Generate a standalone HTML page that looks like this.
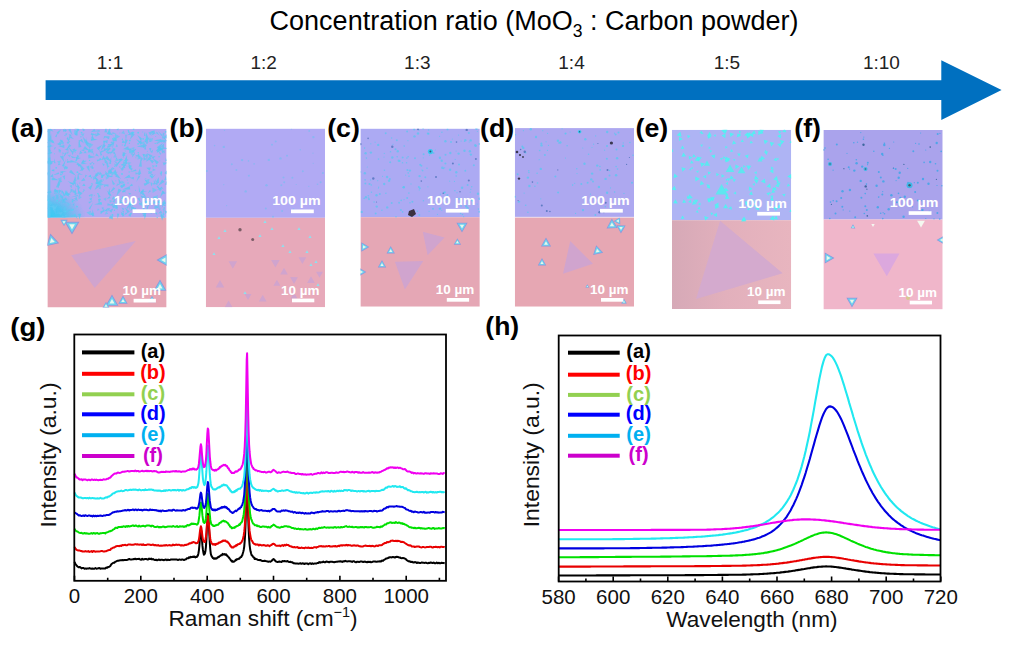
<!DOCTYPE html>
<html><head><meta charset="utf-8"><title>Figure</title>
<style>
html,body{margin:0;padding:0;background:#fff;}
body{width:1012px;height:647px;overflow:hidden;}
svg{display:block;font-family:'Liberation Sans', sans-serif;}
</style></head>
<body>
<svg width="1012" height="647" viewBox="0 0 1012 647">
<rect width="1012" height="647" fill="#fff"/>
<text x="269.6" y="30" font-size="27" fill="#000">Concentration ratio (MoO<tspan font-size="17.5" dy="7">3</tspan><tspan dy="-7"> : Carbon powder)</tspan></text>
<text x="96.8" y="68.5" font-size="19" fill="#222">1:1</text>
<text x="250.4" y="68.5" font-size="19" fill="#222">1:2</text>
<text x="404.1" y="68.5" font-size="19" fill="#222">1:3</text>
<text x="558.3" y="68.5" font-size="19" fill="#222">1:4</text>
<text x="713.7" y="68.5" font-size="19" fill="#222">1:5</text>
<text x="862.9" y="68.5" font-size="19" fill="#222">1:10</text>
<polygon points="45.6,80.2 941.3,80.2 941.3,60.2 1001.6,89.9 941.3,120.0 941.3,100.1 45.6,100.1" fill="#0070C0" />
<text x="0" y="137" font-size="25" font-weight="bold" fill="#000" transform="translate(10.8 0) scale(1.07 1)">(a)</text>
<text x="0" y="137" font-size="25" font-weight="bold" fill="#000" transform="translate(169.6 0) scale(1.07 1)">(b)</text>
<text x="0" y="137" font-size="25" font-weight="bold" fill="#000" transform="translate(327.2 0) scale(1.07 1)">(c)</text>
<text x="0" y="137" font-size="25" font-weight="bold" fill="#000" transform="translate(480.1 0) scale(1.07 1)">(d)</text>
<text x="0" y="137" font-size="25" font-weight="bold" fill="#000" transform="translate(635.6 0) scale(1.07 1)">(e)</text>
<text x="0" y="137" font-size="25" font-weight="bold" fill="#000" transform="translate(794.3 0) scale(1.07 1)">(f)</text>
<defs><filter id="bl" x="-5%" y="-5%" width="110%" height="110%"><feGaussianBlur stdDeviation="0.45"/></filter><filter id="bl2" x="-50%" y="-50%" width="200%" height="200%"><feGaussianBlur stdDeviation="2.5"/></filter><radialGradient id="ga" cx="0" cy="1" r="0.32"><stop offset="0" stop-color="#34CCF4"/><stop offset="0.45" stop-color="#40C8F2" stop-opacity="0.85"/><stop offset="1" stop-color="#48C4F0" stop-opacity="0"/></radialGradient></defs>
<svg x="47.4" y="128.8" width="119.2" height="178.7" viewBox="47.4 128.8 119.2 178.7" overflow="hidden">
<rect x="47.4" y="128.8" width="119.2" height="88.8" fill="#B2A9F2"/>
<rect x="47.4" y="217.6" width="119.2" height="89.9" fill="#E6A6B4"/>
<g filter="url(#bl)">
<rect x="47.4" y="128.8" width="119.2" height="88.8" fill="url(#ga)"/>
<rect x="47.4" y="128.8" width="3" height="88.8" fill="#5CC8F2" opacity="0.7"/>
<polygon points="91.5,144.9 85.4,143.4 86.6,141.0" fill="#5EC6F2" opacity="0.8"/>
<polygon points="96.1,135.2 90.7,135.1 91.3,132.8" fill="#5EC6F2" opacity="0.8"/>
<polygon points="58.0,132.6 56.5,137.2 55.0,136.5" fill="#5EC6F2" opacity="0.8"/>
<polygon points="67.2,180.9 74.5,183.5 73.5,185.5" fill="#5EC6F2" opacity="0.8"/>
<polygon points="162.0,139.9 162.9,132.7 164.6,133.1" fill="#5EC6F2" opacity="0.8"/>
<polygon points="64.4,162.5 60.2,156.8 62.7,155.6" fill="#5EC6F2" opacity="0.8"/>
<polygon points="128.6,164.0 123.3,162.6 123.9,161.2" fill="#5EC6F2" opacity="0.8"/>
<polygon points="70.1,193.7 70.7,188.7 73.2,189.7" fill="#5EC6F2" opacity="0.8"/>
<polygon points="99.2,148.9 102.3,155.1 100.5,155.7" fill="#5EC6F2" opacity="0.8"/>
<polygon points="114.9,168.2 116.9,175.3 114.9,175.6" fill="#5EC6F2" opacity="0.8"/>
<polygon points="164.4,134.5 165.1,139.3 163.4,139.2" fill="#5EC6F2" opacity="0.8"/>
<polygon points="106.2,126.1 107.0,132.4 104.4,132.2" fill="#5EC6F2" opacity="0.8"/>
<polygon points="146.5,153.1 152.5,155.5 151.0,157.8" fill="#5EC6F2" opacity="0.8"/>
<polygon points="94.2,204.6 101.5,202.0 102.0,204.8" fill="#5EC6F2" opacity="0.8"/>
<polygon points="60.7,190.8 54.7,192.7 54.6,189.5" fill="#5EC6F2" opacity="0.8"/>
<polygon points="87.4,163.9 81.2,164.3 81.5,161.9" fill="#5EC6F2" opacity="0.8"/>
<polygon points="67.7,136.4 68.3,139.3 66.6,139.1" fill="#5EC6F2" opacity="0.8"/>
<polygon points="83.3,167.1 76.3,164.6 77.5,162.5" fill="#5EC6F2" opacity="0.8"/>
<polygon points="117.5,201.9 113.7,207.9 112.1,206.6" fill="#5EC6F2" opacity="0.8"/>
<polygon points="104.0,158.7 97.1,161.5 96.7,159.8" fill="#5EC6F2" opacity="0.8"/>
<polygon points="64.6,149.8 68.3,148.1 68.5,150.7" fill="#5EC6F2" opacity="0.8"/>
<polygon points="75.5,132.7 77.7,128.3 79.7,130.1" fill="#5EC6F2" opacity="0.8"/>
<polygon points="157.1,186.5 162.0,189.0 160.0,191.2" fill="#5EC6F2" opacity="0.8"/>
<polygon points="58.6,203.8 55.0,209.8 52.7,207.6" fill="#5EC6F2" opacity="0.8"/>
<polygon points="92.1,161.9 94.7,163.7 93.6,164.7" fill="#5EC6F2" opacity="0.8"/>
<polygon points="53.6,150.2 54.8,146.9 56.1,147.7" fill="#5EC6F2" opacity="0.8"/>
<polygon points="45.4,144.5 46.9,141.8 48.0,142.7" fill="#5EC6F2" opacity="0.8"/>
<polygon points="151.6,186.6 150.5,183.3 152.7,183.3" fill="#5EC6F2" opacity="0.8"/>
<polygon points="98.0,139.4 90.9,140.9 90.8,138.5" fill="#5EC6F2" opacity="0.8"/>
<polygon points="103.4,139.0 104.2,135.9 105.9,137.0" fill="#5EC6F2" opacity="0.8"/>
<polygon points="148.7,142.3 146.6,144.4 145.8,141.9" fill="#5EC6F2" opacity="0.8"/>
<polygon points="62.3,176.6 65.2,175.3 64.6,178.8" fill="#5EC6F2" opacity="0.8"/>
<polygon points="147.7,193.5 149.7,190.0 151.0,191.2" fill="#5EC6F2" opacity="0.8"/>
<polygon points="136.2,182.1 138.6,175.6 140.2,176.5" fill="#5EC6F2" opacity="0.8"/>
<polygon points="146.6,209.5 145.6,216.8 142.6,215.7" fill="#5EC6F2" opacity="0.8"/>
<polygon points="132.3,153.2 135.0,148.5 136.2,149.4" fill="#5EC6F2" opacity="0.8"/>
<polygon points="49.3,149.9 52.4,153.0 49.1,154.2" fill="#5EC6F2" opacity="0.8"/>
<polygon points="108.3,209.8 101.0,213.1 100.4,211.0" fill="#5EC6F2" opacity="0.8"/>
<polygon points="74.7,152.4 72.3,149.3 75.0,148.5" fill="#5EC6F2" opacity="0.8"/>
<polygon points="151.8,199.2 156.0,202.5 153.4,204.3" fill="#5EC6F2" opacity="0.8"/>
<polygon points="59.0,180.1 59.0,187.8 56.0,187.2" fill="#5EC6F2" opacity="0.8"/>
<polygon points="101.0,150.6 103.0,143.9 105.8,145.4" fill="#5EC6F2" opacity="0.8"/>
<polygon points="167.7,162.4 163.7,165.4 162.7,162.5" fill="#5EC6F2" opacity="0.8"/>
<polygon points="70.4,138.2 68.6,141.4 66.8,138.8" fill="#5EC6F2" opacity="0.8"/>
<polygon points="60.5,195.6 65.7,201.6 63.9,202.8" fill="#5EC6F2" opacity="0.8"/>
<polygon points="115.3,140.0 113.1,141.8 112.5,139.0" fill="#5EC6F2" opacity="0.8"/>
<polygon points="113.5,208.2 111.3,212.8 109.0,210.6" fill="#5EC6F2" opacity="0.8"/>
<polygon points="72.8,155.3 71.2,151.2 73.9,151.1" fill="#5EC6F2" opacity="0.8"/>
<polygon points="81.0,164.3 78.9,166.9 77.7,165.1" fill="#5EC6F2" opacity="0.8"/>
<polygon points="95.5,184.2 101.2,179.1 102.8,182.1" fill="#5EC6F2" opacity="0.8"/>
<polygon points="112.5,176.7 107.1,177.2 107.3,174.8" fill="#5EC6F2" opacity="0.8"/>
<polygon points="72.5,135.2 68.1,129.7 70.3,128.6" fill="#5EC6F2" opacity="0.8"/>
<polygon points="129.6,177.7 134.0,176.9 133.7,179.5" fill="#5EC6F2" opacity="0.8"/>
<polygon points="140.9,143.8 139.9,138.2 141.9,138.2" fill="#5EC6F2" opacity="0.8"/>
<polygon points="139.8,168.3 141.2,174.0 137.8,173.8" fill="#5EC6F2" opacity="0.8"/>
<polygon points="95.0,182.8 100.3,181.7 100.1,184.7" fill="#5EC6F2" opacity="0.8"/>
<polygon points="106.1,174.3 101.9,177.5 100.8,174.8" fill="#5EC6F2" opacity="0.8"/>
<polygon points="148.2,211.0 152.5,210.8 151.3,214.1" fill="#5EC6F2" opacity="0.8"/>
<polygon points="144.6,142.1 147.2,140.2 147.8,141.7" fill="#5EC6F2" opacity="0.8"/>
<polygon points="77.4,129.2 77.7,135.6 74.4,134.9" fill="#5EC6F2" opacity="0.8"/>
<polygon points="69.6,197.2 64.5,193.4 67.1,191.3" fill="#5EC6F2" opacity="0.8"/>
<polygon points="156.5,152.9 162.0,147.3 163.5,149.3" fill="#5EC6F2" opacity="0.8"/>
<polygon points="162.3,204.1 164.9,201.6 165.9,203.9" fill="#5EC6F2" opacity="0.8"/>
<polygon points="87.1,142.0 88.5,146.1 87.1,146.3" fill="#5EC6F2" opacity="0.8"/>
<polygon points="112.2,170.2 112.2,167.2 114.7,168.6" fill="#5EC6F2" opacity="0.8"/>
<polygon points="110.3,126.8 110.2,134.9 106.7,134.1" fill="#5EC6F2" opacity="0.8"/>
<polygon points="60.4,149.7 60.9,152.6 58.9,152.2" fill="#5EC6F2" opacity="0.8"/>
<polygon points="66.0,159.5 63.7,166.7 61.9,165.9" fill="#5EC6F2" opacity="0.8"/>
<polygon points="63.5,205.1 66.0,210.2 64.4,210.7" fill="#5EC6F2" opacity="0.8"/>
<polygon points="58.6,192.0 53.5,191.5 55.0,188.4" fill="#5EC6F2" opacity="0.8"/>
<polygon points="124.9,197.7 123.6,200.5 122.4,199.5" fill="#5EC6F2" opacity="0.8"/>
<polygon points="146.1,167.7 150.8,167.5 149.7,170.7" fill="#5EC6F2" opacity="0.8"/>
<polygon points="79.7,145.7 78.5,140.3 80.1,140.2" fill="#5EC6F2" opacity="0.8"/>
<polygon points="65.3,136.6 65.7,132.9 67.6,133.7" fill="#5EC6F2" opacity="0.8"/>
<polygon points="140.2,159.3 137.0,155.0 138.9,154.1" fill="#5EC6F2" opacity="0.8"/>
<polygon points="49.3,148.5 50.9,150.9 48.3,151.2" fill="#5EC6F2" opacity="0.8"/>
<polygon points="76.0,175.7 69.0,172.2 71.0,169.7" fill="#5EC6F2" opacity="0.8"/>
<polygon points="93.4,177.2 98.1,171.8 99.7,173.7" fill="#5EC6F2" opacity="0.8"/>
<polygon points="131.5,212.2 130.7,216.8 128.1,215.3" fill="#5EC6F2" opacity="0.8"/>
<polygon points="127.4,166.2 122.9,165.5 123.5,163.9" fill="#5EC6F2" opacity="0.8"/>
<polygon points="57.9,197.9 55.2,195.0 56.5,194.2" fill="#5EC6F2" opacity="0.8"/>
<polygon points="146.5,212.2 146.7,205.9 148.6,206.3" fill="#5EC6F2" opacity="0.8"/>
<polygon points="79.2,170.7 82.0,168.7 82.7,170.5" fill="#5EC6F2" opacity="0.8"/>
<polygon points="162.2,220.7 160.3,215.2 163.8,215.1" fill="#5EC6F2" opacity="0.8"/>
<polygon points="82.5,162.2 83.5,159.6 85.1,161.4" fill="#5EC6F2" opacity="0.8"/>
<polygon points="112.6,146.8 107.3,147.6 107.4,145.7" fill="#5EC6F2" opacity="0.8"/>
<polygon points="60.8,164.7 58.0,165.3 58.2,163.3" fill="#5EC6F2" opacity="0.8"/>
<polygon points="75.2,175.4 76.6,180.8 73.7,180.8" fill="#5EC6F2" opacity="0.8"/>
<polygon points="130.6,211.0 131.2,206.0 134.3,207.7" fill="#5EC6F2" opacity="0.8"/>
<polygon points="71.0,194.7 64.8,194.7 65.7,191.5" fill="#5EC6F2" opacity="0.8"/>
<polygon points="156.2,178.5 154.5,184.8 152.9,184.2" fill="#5EC6F2" opacity="0.8"/>
<polygon points="112.2,166.9 111.3,174.1 108.3,173.1" fill="#5EC6F2" opacity="0.8"/>
<polygon points="114.8,202.2 117.9,207.7 116.1,208.4" fill="#5EC6F2" opacity="0.8"/>
<polygon points="54.7,143.4 50.1,141.9 52.1,139.3" fill="#5EC6F2" opacity="0.8"/>
<polygon points="111.5,179.2 115.1,184.0 112.9,185.1" fill="#5EC6F2" opacity="0.8"/>
<polygon points="41.2,199.5 47.8,198.3 47.8,200.9" fill="#5EC6F2" opacity="0.8"/>
<polygon points="125.9,141.2 125.2,134.7 126.8,134.7" fill="#5EC6F2" opacity="0.8"/>
<polygon points="78.8,189.9 80.8,193.4 77.3,193.7" fill="#5EC6F2" opacity="0.8"/>
<polygon points="104.2,158.1 107.7,162.1 104.9,163.4" fill="#5EC6F2" opacity="0.8"/>
<polygon points="122.7,188.2 120.2,186.5 121.7,185.3" fill="#5EC6F2" opacity="0.8"/>
<polygon points="141.6,156.3 135.9,156.6 136.1,155.1" fill="#5EC6F2" opacity="0.8"/>
<polygon points="76.6,182.8 80.3,188.0 78.5,188.9" fill="#5EC6F2" opacity="0.8"/>
<polygon points="112.7,173.5 107.8,171.3 110.1,168.8" fill="#5EC6F2" opacity="0.8"/>
<polygon points="78.8,216.5 71.0,216.9 71.3,214.5" fill="#5EC6F2" opacity="0.8"/>
<polygon points="144.6,219.7 144.2,214.7 146.1,214.9" fill="#5EC6F2" opacity="0.8"/>
<polygon points="163.7,151.9 159.1,148.3 161.1,146.7" fill="#5EC6F2" opacity="0.8"/>
<polygon points="154.0,140.2 161.1,138.9 160.9,142.2" fill="#5EC6F2" opacity="0.8"/>
<polygon points="123.8,150.0 131.2,148.6 131.3,150.1" fill="#5EC6F2" opacity="0.8"/>
<polygon points="46.2,177.2 47.0,172.2 48.6,172.7" fill="#5EC6F2" opacity="0.8"/>
<polygon points="95.5,156.9 88.4,158.4 88.4,155.3" fill="#5EC6F2" opacity="0.8"/>
<polygon points="145.7,132.1 149.1,139.1 145.8,139.9" fill="#5EC6F2" opacity="0.8"/>
<polygon points="86.6,161.8 82.0,163.2 81.9,160.5" fill="#5EC6F2" opacity="0.8"/>
<polygon points="94.2,168.0 90.2,167.6 90.6,166.0" fill="#5EC6F2" opacity="0.8"/>
<polygon points="146.9,161.8 145.9,154.2 147.9,154.2" fill="#5EC6F2" opacity="0.8"/>
<polygon points="112.7,144.4 108.8,147.3 107.8,144.1" fill="#5EC6F2" opacity="0.8"/>
<polygon points="151.2,182.1 144.7,186.0 143.7,183.6" fill="#5EC6F2" opacity="0.8"/>
<polygon points="127.0,135.2 132.7,131.7 133.6,134.6" fill="#5EC6F2" opacity="0.8"/>
<polygon points="126.7,153.0 124.6,155.0 123.8,153.5" fill="#5EC6F2" opacity="0.8"/>
<polygon points="103.4,155.2 105.5,159.2 101.9,159.4" fill="#5EC6F2" opacity="0.8"/>
<polygon points="74.5,185.6 78.8,186.0 78.0,188.1" fill="#5EC6F2" opacity="0.8"/>
<polygon points="70.4,141.1 68.0,144.2 66.6,142.1" fill="#5EC6F2" opacity="0.8"/>
<polygon points="66.0,211.8 73.4,208.5 73.9,210.1" fill="#5EC6F2" opacity="0.8"/>
<polygon points="74.0,139.2 69.8,137.7 70.9,136.0" fill="#5EC6F2" opacity="0.8"/>
<polygon points="78.2,172.0 79.4,179.4 77.0,179.4" fill="#5EC6F2" opacity="0.8"/>
<polygon points="94.3,179.2 96.1,174.9 97.4,175.7" fill="#5EC6F2" opacity="0.8"/>
<polygon points="77.3,214.7 80.5,213.3 80.5,216.1" fill="#5EC6F2" opacity="0.8"/>
<polygon points="150.3,152.0 149.1,148.0 151.4,148.0" fill="#5EC6F2" opacity="0.8"/>
<polygon points="105.5,208.4 101.1,214.0 100.0,213.0" fill="#5EC6F2" opacity="0.8"/>
<polygon points="43.9,193.1 51.0,190.5 51.5,193.1" fill="#5EC6F2" opacity="0.8"/>
<polygon points="50.9,156.8 48.9,164.3 46.0,162.8" fill="#5EC6F2" opacity="0.8"/>
<polygon points="165.0,153.4 162.2,151.6 164.3,150.1" fill="#5EC6F2" opacity="0.8"/>
<polygon points="124.8,207.2 129.9,211.5 127.5,213.3" fill="#5EC6F2" opacity="0.8"/>
<polygon points="102.5,175.1 102.8,178.0 101.0,177.6" fill="#5EC6F2" opacity="0.8"/>
<polygon points="159.9,189.1 156.4,186.8 157.8,185.4" fill="#5EC6F2" opacity="0.8"/>
<polygon points="126.1,192.2 122.7,192.0 123.8,189.7" fill="#5EC6F2" opacity="0.8"/>
<polygon points="113.9,161.1 117.3,162.7 116.5,163.8" fill="#5EC6F2" opacity="0.8"/>
<polygon points="78.5,163.6 84.7,168.7 82.0,170.7" fill="#5EC6F2" opacity="0.8"/>
<polygon points="107.8,148.7 104.4,151.1 103.7,148.2" fill="#5EC6F2" opacity="0.8"/>
<polygon points="81.6,126.1 85.1,130.2 83.0,131.3" fill="#5EC6F2" opacity="0.8"/>
<polygon points="79.2,195.6 77.3,188.2 78.8,188.0" fill="#5EC6F2" opacity="0.8"/>
<polygon points="89.7,172.1 86.2,166.7 89.2,165.6" fill="#5EC6F2" opacity="0.8"/>
<polygon points="139.1,172.9 135.7,174.7 135.3,172.6" fill="#5EC6F2" opacity="0.8"/>
<polygon points="145.4,145.6 146.2,149.4 144.1,149.2" fill="#5EC6F2" opacity="0.8"/>
<polygon points="161.5,176.3 159.7,173.0 162.0,172.6" fill="#5EC6F2" opacity="0.8"/>
<polygon points="124.1,215.1 126.1,212.3 127.3,213.8" fill="#5EC6F2" opacity="0.8"/>
<polygon points="166.1,142.4 163.1,142.5 163.9,140.3" fill="#5EC6F2" opacity="0.8"/>
<polygon points="161.0,207.1 154.5,209.0 154.4,205.5" fill="#5EC6F2" opacity="0.8"/>
<polygon points="86.5,137.6 87.4,145.3 85.9,145.3" fill="#5EC6F2" opacity="0.8"/>
<polygon points="124.4,166.4 125.8,162.0 127.4,162.9" fill="#5EC6F2" opacity="0.8"/>
<polygon points="52.0,152.4 48.0,154.4 47.5,152.8" fill="#5EC6F2" opacity="0.8"/>
<polygon points="164.3,143.2 163.8,147.9 160.9,146.5" fill="#5EC6F2" opacity="0.8"/>
<polygon points="95.4,136.8 97.7,132.0 100.2,134.4" fill="#5EC6F2" opacity="0.8"/>
<polygon points="77.7,162.6 70.2,162.3 70.6,160.0" fill="#5EC6F2" opacity="0.8"/>
<polygon points="146.8,197.5 144.0,197.6 144.3,196.1" fill="#5EC6F2" opacity="0.8"/>
<polygon points="162.4,147.7 157.7,152.5 156.4,150.8" fill="#5EC6F2" opacity="0.8"/>
<polygon points="79.4,219.7 78.4,213.7 81.3,214.0" fill="#5EC6F2" opacity="0.8"/>
<polygon points="85.2,150.8 86.8,153.3 83.4,153.2" fill="#5EC6F2" opacity="0.8"/>
<polygon points="123.2,215.2 121.8,212.7 124.2,212.4" fill="#5EC6F2" opacity="0.8"/>
<polygon points="161.4,218.1 160.3,213.5 162.6,213.5" fill="#5EC6F2" opacity="0.8"/>
<polygon points="107.4,207.9 107.7,211.7 104.8,210.7" fill="#5EC6F2" opacity="0.8"/>
<polygon points="142.7,202.6 144.5,196.9 146.4,197.9" fill="#5EC6F2" opacity="0.8"/>
<polygon points="91.5,201.0 89.1,198.8 92.0,197.8" fill="#5EC6F2" opacity="0.8"/>
<polygon points="74.3,133.7 77.2,133.5 76.5,135.6" fill="#5EC6F2" opacity="0.8"/>
<polygon points="163.5,215.2 163.5,207.2 165.0,207.3" fill="#5EC6F2" opacity="0.8"/>
<polygon points="52.8,175.2 58.6,172.2 59.2,174.0" fill="#5EC6F2" opacity="0.8"/>
<polygon points="97.0,177.7 98.7,183.9 95.5,183.9" fill="#5EC6F2" opacity="0.8"/>
<polygon points="124.7,146.4 125.3,139.2 127.9,139.9" fill="#5EC6F2" opacity="0.8"/>
<polygon points="91.9,197.9 90.9,194.4 92.8,194.3" fill="#5EC6F2" opacity="0.8"/>
<polygon points="63.1,212.4 64.7,206.8 66.7,207.8" fill="#5EC6F2" opacity="0.8"/>
<polygon points="167.0,170.3 167.0,174.4 164.4,173.3" fill="#5EC6F2" opacity="0.8"/>
<polygon points="167.7,133.2 167.0,138.6 164.0,137.2" fill="#5EC6F2" opacity="0.8"/>
<polygon points="159.4,135.2 155.8,133.1 157.0,131.7" fill="#5EC6F2" opacity="0.8"/>
<polygon points="158.1,186.1 162.2,179.4 164.6,181.7" fill="#5EC6F2" opacity="0.8"/>
<polygon points="107.3,149.6 101.2,152.7 100.7,151.1" fill="#5EC6F2" opacity="0.8"/>
<polygon points="116.0,186.6 117.8,183.3 119.1,184.4" fill="#5EC6F2" opacity="0.8"/>
<polygon points="68.3,146.7 72.5,150.9 71.0,152.0" fill="#5EC6F2" opacity="0.8"/>
<polygon points="51.2,163.6 47.8,158.3 49.7,157.4" fill="#5EC6F2" opacity="0.8"/>
<polygon points="76.7,201.6 71.3,200.2 72.0,198.7" fill="#5EC6F2" opacity="0.8"/>
<polygon points="99.6,180.9 94.0,178.4 95.0,176.9" fill="#5EC6F2" opacity="0.8"/>
<polygon points="128.9,169.0 128.7,164.6 131.9,165.8" fill="#5EC6F2" opacity="0.8"/>
<polygon points="80.8,181.3 83.8,177.7 85.5,180.5" fill="#5EC6F2" opacity="0.8"/>
<polygon points="165.7,157.6 167.1,161.0 165.3,161.2" fill="#5EC6F2" opacity="0.8"/>
<polygon points="50.2,204.5 49.1,209.4 47.1,208.4" fill="#5EC6F2" opacity="0.8"/>
<polygon points="156.0,170.0 152.5,171.0 152.8,168.4" fill="#5EC6F2" opacity="0.8"/>
<polygon points="121.6,207.5 124.5,208.8 123.0,210.4" fill="#5EC6F2" opacity="0.8"/>
<polygon points="103.5,141.2 107.8,140.1 107.3,143.5" fill="#5EC6F2" opacity="0.8"/>
<polygon points="67.1,170.9 60.6,173.3 60.2,171.5" fill="#5EC6F2" opacity="0.8"/>
<polygon points="54.7,213.4 62.4,211.8 62.6,213.3" fill="#5EC6F2" opacity="0.8"/>
<polygon points="152.4,158.1 158.9,162.1 156.7,164.4" fill="#5EC6F2" opacity="0.8"/>
<polygon points="63.4,200.7 65.6,197.2 67.4,199.9" fill="#5EC6F2" opacity="0.8"/>
<polygon points="143.3,147.2 145.5,144.0 147.0,146.1" fill="#5EC6F2" opacity="0.8"/>
<polygon points="92.5,135.9 94.8,139.5 91.5,140.0" fill="#5EC6F2" opacity="0.8"/>
<polygon points="58.8,180.3 51.9,180.3 52.7,177.2" fill="#5EC6F2" opacity="0.8"/>
<polygon points="57.6,178.1 62.2,181.3 60.7,182.8" fill="#5EC6F2" opacity="0.8"/>
<polygon points="94.8,176.5 98.5,179.9 96.5,181.2" fill="#5EC6F2" opacity="0.8"/>
<polygon points="93.8,131.3 99.6,129.9 99.7,131.8" fill="#5EC6F2" opacity="0.8"/>
<polygon points="140.6,202.6 137.3,198.6 139.5,197.5" fill="#5EC6F2" opacity="0.8"/>
<polygon points="64.2,142.9 59.5,141.2 60.8,139.2" fill="#5EC6F2" opacity="0.8"/>
<polygon points="113.4,135.4 107.5,133.7 109.0,131.1" fill="#5EC6F2" opacity="0.8"/>
<polygon points="137.3,174.2 140.1,173.1 140.1,175.3" fill="#5EC6F2" opacity="0.8"/>
<polygon points="168.0,140.7 160.8,142.4 160.7,139.4" fill="#5EC6F2" opacity="0.8"/>
<polygon points="136.7,146.4 144.5,144.3 144.6,147.8" fill="#5EC6F2" opacity="0.8"/>
<polygon points="162.8,140.6 156.9,144.2 156.3,142.8" fill="#5EC6F2" opacity="0.8"/>
<polygon points="91.9,193.9 89.8,196.7 88.6,195.2" fill="#5EC6F2" opacity="0.8"/>
<polygon points="149.2,139.0 145.1,142.4 144.2,140.7" fill="#5EC6F2" opacity="0.8"/>
<polygon points="82.9,174.7 78.5,174.6 78.9,172.9" fill="#5EC6F2" opacity="0.8"/>
<polygon points="71.5,208.1 67.2,212.7 66.1,211.3" fill="#5EC6F2" opacity="0.8"/>
<polygon points="137.4,134.9 141.8,138.3 140.1,139.7" fill="#5EC6F2" opacity="0.8"/>
<polygon points="155.7,174.3 152.0,178.7 150.9,177.5" fill="#5EC6F2" opacity="0.8"/>
<polygon points="167.1,180.3 166.7,185.0 164.8,184.4" fill="#5EC6F2" opacity="0.8"/>
<polygon points="165.9,175.6 166.6,180.2 164.3,180.0" fill="#5EC6F2" opacity="0.8"/>
<polygon points="69.6,192.3 69.4,195.2 67.6,194.4" fill="#5EC6F2" opacity="0.8"/>
<polygon points="120.6,211.3 124.5,215.6 122.7,216.7" fill="#5EC6F2" opacity="0.8"/>
<polygon points="45.1,129.6 48.4,130.9 46.8,132.7" fill="#5EC6F2" opacity="0.8"/>
<polygon points="109.0,211.5 107.1,208.5 109.9,208.1" fill="#5EC6F2" opacity="0.8"/>
<polygon points="53.6,131.8 49.4,129.9 50.7,128.2" fill="#5EC6F2" opacity="0.8"/>
<polygon points="75.8,186.1 72.8,181.0 75.5,180.2" fill="#5EC6F2" opacity="0.8"/>
<polygon points="104.3,148.4 103.1,140.8 104.9,140.7" fill="#5EC6F2" opacity="0.8"/>
<polygon points="60.3,178.3 59.9,185.7 57.7,185.2" fill="#5EC6F2" opacity="0.8"/>
<polygon points="73.3,127.5 79.3,128.8 78.5,130.8" fill="#5EC6F2" opacity="0.8"/>
<polygon points="123.5,160.6 125.3,168.1 123.4,168.3" fill="#5EC6F2" opacity="0.8"/>
<polygon points="150.6,135.7 154.6,131.9 155.6,133.5" fill="#5EC6F2" opacity="0.8"/>
<polygon points="51.9,197.2 54.9,196.3 53.8,199.6" fill="#5EC6F2" opacity="0.8"/>
<polygon points="58.5,146.3 64.4,145.1 64.3,147.9" fill="#5EC6F2" opacity="0.8"/>
<polygon points="143.1,148.3 143.6,144.1 145.1,144.5" fill="#5EC6F2" opacity="0.8"/>
<polygon points="159.8,198.6 153.3,200.0 153.5,196.7" fill="#5EC6F2" opacity="0.8"/>
<polygon points="129.9,172.1 135.9,169.2 136.5,171.0" fill="#5EC6F2" opacity="0.8"/>
<polygon points="58.6,151.8 58.6,148.7 61.3,150.2" fill="#5EC6F2" opacity="0.8"/>
<polygon points="129.6,210.2 129.0,203.7 131.6,204.0" fill="#5EC6F2" opacity="0.8"/>
<polygon points="98.9,204.2 98.0,198.7 100.8,198.9" fill="#5EC6F2" opacity="0.8"/>
<polygon points="169.8,148.8 162.4,149.1 162.5,147.1" fill="#5EC6F2" opacity="0.8"/>
<polygon points="75.3,187.2 76.6,194.8 74.5,194.9" fill="#5EC6F2" opacity="0.8"/>
<polygon points="155.5,155.9 153.1,159.1 151.5,156.8" fill="#5EC6F2" opacity="0.8"/>
<polygon points="122.2,189.4 129.7,186.3 130.3,189.5" fill="#5EC6F2" opacity="0.8"/>
<polygon points="129.8,200.1 131.9,204.7 129.2,205.2" fill="#5EC6F2" opacity="0.8"/>
<polygon points="89.3,150.4 83.3,149.1 84.9,146.1" fill="#5EC6F2" opacity="0.8"/>
<polygon points="67.4,129.8 65.1,132.2 64.2,130.2" fill="#5EC6F2" opacity="0.8"/>
<polygon points="63.3,128.8 65.6,130.9 63.0,131.8" fill="#5EC6F2" opacity="0.8"/>
<polygon points="128.1,192.7 131.1,193.3 129.9,195.2" fill="#5EC6F2" opacity="0.8"/>
<polygon points="151.6,204.6 144.2,203.1 145.5,200.1" fill="#5EC6F2" opacity="0.8"/>
<polygon points="157.2,215.6 155.6,212.9 157.2,212.4" fill="#5EC6F2" opacity="0.8"/>
<polygon points="46.9,198.9 52.7,203.0 50.3,205.2" fill="#5EC6F2" opacity="0.8"/>
<polygon points="125.2,156.1 121.8,155.6 123.6,153.1" fill="#5EC6F2" opacity="0.8"/>
<polygon points="76.6,157.8 71.7,158.1 72.0,156.2" fill="#5EC6F2" opacity="0.8"/>
<polygon points="79.1,196.4 79.5,191.6 82.7,193.1" fill="#5EC6F2" opacity="0.8"/>
<polygon points="113.2,205.5 107.2,205.5 107.7,203.3" fill="#5EC6F2" opacity="0.8"/>
<polygon points="98.2,193.2 100.7,197.1 98.2,197.8" fill="#5EC6F2" opacity="0.8"/>
<polygon points="74.5,202.6 74.0,205.7 72.4,205.0" fill="#5EC6F2" opacity="0.8"/>
<polygon points="54.2,145.8 47.7,147.4 47.5,146.0" fill="#5EC6F2" opacity="0.8"/>
<polygon points="108.7,178.8 104.8,172.9 107.0,171.9" fill="#5EC6F2" opacity="0.8"/>
<polygon points="92.5,201.3 89.1,203.6 88.4,201.7" fill="#5EC6F2" opacity="0.8"/>
<polygon points="77.0,194.3 72.1,192.0 73.9,189.8" fill="#5EC6F2" opacity="0.8"/>
<polygon points="58.5,192.6 58.4,199.1 55.7,198.5" fill="#5EC6F2" opacity="0.8"/>
<polygon points="93.4,161.5 90.3,165.0 89.3,163.8" fill="#5EC6F2" opacity="0.8"/>
<polygon points="153.0,134.7 151.6,130.9 155.0,131.2" fill="#5EC6F2" opacity="0.8"/>
<polygon points="107.9,169.8 105.9,162.6 108.3,162.4" fill="#5EC6F2" opacity="0.8"/>
<polygon points="106.7,190.5 111.6,195.1 109.9,196.5" fill="#5EC6F2" opacity="0.8"/>
<polygon points="82.6,136.5 87.6,141.8 85.0,143.4" fill="#5EC6F2" opacity="0.8"/>
<polygon points="61.7,164.6 68.0,167.0 67.2,168.5" fill="#5EC6F2" opacity="0.8"/>
<polygon points="103.8,211.0 101.5,207.8 103.4,207.0" fill="#5EC6F2" opacity="0.8"/>
<polygon points="133.1,206.5 130.4,204.3 132.0,203.2" fill="#5EC6F2" opacity="0.8"/>
<polygon points="84.7,178.2 85.5,174.7 87.1,175.6" fill="#5EC6F2" opacity="0.8"/>
<polygon points="166.6,192.8 163.8,194.3 163.4,192.7" fill="#5EC6F2" opacity="0.8"/>
<polygon points="92.5,209.3 94.4,216.0 92.0,216.3" fill="#5EC6F2" opacity="0.8"/>
<polygon points="71.6,188.4 69.7,185.8 71.9,185.1" fill="#5EC6F2" opacity="0.8"/>
<polygon points="49.0,157.8 52.6,163.8 50.3,164.7" fill="#5EC6F2" opacity="0.8"/>
<polygon points="120.2,168.0 123.5,169.0 122.1,170.9" fill="#5EC6F2" opacity="0.8"/>
<polygon points="131.4,207.3 136.4,208.1 135.0,210.8" fill="#5EC6F2" opacity="0.8"/>
<polygon points="102.3,144.7 98.7,150.2 96.5,148.0" fill="#5EC6F2" opacity="0.8"/>
<polygon points="126.9,199.7 131.8,203.7 129.9,205.3" fill="#5EC6F2" opacity="0.8"/>
<polygon points="82.1,186.1 84.0,183.2 85.5,186.0" fill="#5EC6F2" opacity="0.8"/>
<polygon points="129.0,186.5 131.9,183.6 133.0,185.8" fill="#5EC6F2" opacity="0.8"/>
<polygon points="127.1,162.5 121.9,166.0 121.1,164.3" fill="#5EC6F2" opacity="0.8"/>
<polygon points="120.8,198.2 125.3,196.1 125.5,199.7" fill="#5EC6F2" opacity="0.8"/>
<polygon points="52.6,173.7 53.6,177.4 50.2,176.7" fill="#5EC6F2" opacity="0.8"/>
<polygon points="103.8,136.3 109.7,136.3 108.9,139.2" fill="#5EC6F2" opacity="0.8"/>
<polygon points="101.5,184.6 108.6,184.4 108.3,186.7" fill="#5EC6F2" opacity="0.8"/>
<polygon points="155.5,151.4 159.4,146.3 161.4,148.7" fill="#5EC6F2" opacity="0.8"/>
<polygon points="66.2,217.8 61.6,217.2 62.3,215.3" fill="#5EC6F2" opacity="0.8"/>
<polygon points="90.8,132.3 94.3,128.7 95.7,131.3" fill="#5EC6F2" opacity="0.8"/>
<polygon points="89.2,148.6 91.1,152.2 87.6,152.4" fill="#5EC6F2" opacity="0.8"/>
<polygon points="104.9,152.6 109.6,147.5 110.8,149.0" fill="#5EC6F2" opacity="0.8"/>
<polygon points="58.2,192.6 63.7,197.0 61.9,198.6" fill="#5EC6F2" opacity="0.8"/>
<polygon points="109.7,155.1 113.3,148.0 115.5,149.7" fill="#5EC6F2" opacity="0.8"/>
<polygon points="143.6,206.2 143.7,200.9 146.2,201.6" fill="#5EC6F2" opacity="0.8"/>
<polygon points="64.9,199.2 63.1,203.4 61.5,202.3" fill="#5EC6F2" opacity="0.8"/>
<polygon points="94.1,155.8 91.6,151.6 92.9,151.0" fill="#5EC6F2" opacity="0.8"/>
<polygon points="132.2,157.4 132.3,153.4 134.6,154.2" fill="#5EC6F2" opacity="0.8"/>
<polygon points="94.5,190.1 97.2,184.3 99.8,186.5" fill="#5EC6F2" opacity="0.8"/>
<polygon points="155.1,129.9 150.1,135.2 148.4,132.6" fill="#5EC6F2" opacity="0.8"/>
<polygon points="70.1,203.2 64.1,203.3 64.2,201.9" fill="#5EC6F2" opacity="0.8"/>
<polygon points="164.0,189.4 160.3,187.7 161.4,186.4" fill="#5EC6F2" opacity="0.8"/>
<polygon points="77.8,201.3 73.9,198.7 76.6,196.8" fill="#5EC6F2" opacity="0.8"/>
<polygon points="136.0,139.1 142.7,142.5 140.8,144.9" fill="#5EC6F2" opacity="0.8"/>
<polygon points="130.7,202.4 127.9,208.7 126.3,207.7" fill="#5EC6F2" opacity="0.8"/>
<polygon points="123.9,178.4 129.3,174.4 130.6,177.5" fill="#5EC6F2" opacity="0.8"/>
<polygon points="116.0,155.2 112.6,153.1 114.5,151.5" fill="#5EC6F2" opacity="0.8"/>
<polygon points="51.1,170.5 54.3,169.0 54.4,171.5" fill="#5EC6F2" opacity="0.8"/>
<polygon points="113.1,203.3 112.7,206.1 110.7,204.8" fill="#5EC6F2" opacity="0.8"/>
<polygon points="109.4,192.9 113.6,187.1 115.3,188.7" fill="#5EC6F2" opacity="0.8"/>
<polygon points="158.0,131.0 162.5,135.0 161.4,136.0" fill="#5EC6F2" opacity="0.8"/>
<polygon points="116.4,196.1 118.5,188.6 121.6,190.3" fill="#5EC6F2" opacity="0.8"/>
<polygon points="115.5,173.4 108.0,173.3 108.6,170.4" fill="#5EC6F2" opacity="0.8"/>
<polygon points="117.1,164.3 121.0,158.1 122.8,159.7" fill="#5EC6F2" opacity="0.8"/>
<polygon points="106.7,198.7 109.6,196.2 110.5,198.3" fill="#5EC6F2" opacity="0.8"/>
<polygon points="115.4,198.6 114.5,202.7 112.4,201.7" fill="#5EC6F2" opacity="0.8"/>
<polygon points="112.7,152.1 107.7,154.3 107.2,151.5" fill="#5EC6F2" opacity="0.8"/>
<polygon points="140.5,162.2 140.5,157.8 143.1,158.6" fill="#5EC6F2" opacity="0.8"/>
<polygon points="122.6,195.8 124.7,198.1 121.4,198.7" fill="#5EC6F2" opacity="0.8"/>
<polygon points="116.6,133.4 112.4,134.1 112.4,132.3" fill="#5EC6F2" opacity="0.8"/>
<polygon points="158.7,176.9 158.9,183.3 155.6,182.4" fill="#5EC6F2" opacity="0.8"/>
<polygon points="118.3,178.0 121.6,183.1 119.0,184.0" fill="#5EC6F2" opacity="0.8"/>
<polygon points="122.6,149.3 128.2,146.2 129.0,149.2" fill="#5EC6F2" opacity="0.8"/>
<polygon points="59.9,142.2 61.2,145.2 57.8,144.6" fill="#5EC6F2" opacity="0.8"/>
<polygon points="127.1,154.7 126.8,161.9 124.3,161.3" fill="#5EC6F2" opacity="0.8"/>
<polygon points="76.1,160.0 77.1,155.1 79.2,156.1" fill="#5EC6F2" opacity="0.8"/>
<polygon points="121.3,210.6 124.2,211.0 123.6,212.4" fill="#5EC6F2" opacity="0.8"/>
<polygon points="66.5,198.0 62.2,201.8 61.0,199.7" fill="#5EC6F2" opacity="0.8"/>
<polygon points="54.4,161.0 49.8,164.8 48.4,161.5" fill="#5EC6F2" opacity="0.8"/>
<polygon points="102.2,163.0 104.8,164.8 103.3,166.0" fill="#5EC6F2" opacity="0.8"/>
<polygon points="64.5,127.9 66.3,129.8 64.7,130.5" fill="#5EC6F2" opacity="0.8"/>
<polygon points="167.6,141.9 162.1,137.1 163.1,136.1" fill="#5EC6F2" opacity="0.8"/>
<polygon points="135.7,156.3 132.4,150.6 133.8,150.0" fill="#5EC6F2" opacity="0.8"/>
<polygon points="138.7,185.0 140.4,192.1 138.9,192.3" fill="#5EC6F2" opacity="0.8"/>
<polygon points="126.9,189.7 122.7,192.7 121.9,190.9" fill="#5EC6F2" opacity="0.8"/>
<polygon points="164.9,192.7 162.2,193.9 162.5,191.1" fill="#5EC6F2" opacity="0.8"/>
<polygon points="144.3,131.7 145.7,135.8 144.0,136.0" fill="#5EC6F2" opacity="0.8"/>
<polygon points="148.1,174.1 149.0,171.1 151.0,172.9" fill="#5EC6F2" opacity="0.8"/>
<polygon points="100.7,185.8 100.7,189.2 98.6,188.6" fill="#5EC6F2" opacity="0.8"/>
<polygon points="120.7,187.9 123.2,183.5 125.3,185.9" fill="#5EC6F2" opacity="0.8"/>
<polygon points="158.6,203.9 159.3,198.3 160.8,198.7" fill="#5EC6F2" opacity="0.8"/>
<polygon points="160.0,197.4 162.3,190.6 164.7,191.9" fill="#5EC6F2" opacity="0.8"/>
<polygon points="161.8,208.0 162.8,202.2 165.0,203.0" fill="#5EC6F2" opacity="0.8"/>
<polygon points="148.2,158.5 154.3,160.9 152.3,163.6" fill="#5EC6F2" opacity="0.8"/>
<polygon points="143.4,156.5 142.5,153.9 144.8,154.1" fill="#5EC6F2" opacity="0.8"/>
<polygon points="124.4,203.2 116.9,202.8 117.8,199.7" fill="#5EC6F2" opacity="0.8"/>
<polygon points="143.3,211.4 142.5,205.6 145.8,206.0" fill="#5EC6F2" opacity="0.8"/>
<polygon points="139.3,195.8 142.9,189.1 144.3,190.0" fill="#5EC6F2" opacity="0.8"/>
<polygon points="113.4,196.0 115.1,199.6 111.7,199.6" fill="#5EC6F2" opacity="0.8"/>
<polygon points="69.2,184.0 75.1,181.8 75.5,183.6" fill="#5EC6F2" opacity="0.8"/>
<polygon points="71.1,197.2 77.6,194.7 78.0,196.3" fill="#5EC6F2" opacity="0.8"/>
<polygon points="140.2,195.6 144.3,195.9 142.7,198.9" fill="#5EC6F2" opacity="0.8"/>
<polygon points="148.6,172.4 153.4,174.4 152.4,175.9" fill="#5EC6F2" opacity="0.8"/>
<polygon points="66.2,149.7 69.3,144.0 71.3,145.7" fill="#5EC6F2" opacity="0.8"/>
<polygon points="98.6,175.6 94.9,176.5 95.9,173.0" fill="#5EC6F2" opacity="0.8"/>
<polygon points="93.4,132.4 92.8,138.4 91.1,138.0" fill="#5EC6F2" opacity="0.8"/>
<polygon points="123.9,160.1 118.5,160.2 118.7,158.7" fill="#5EC6F2" opacity="0.8"/>
<polygon points="160.7,203.6 165.9,204.8 165.1,206.6" fill="#5EC6F2" opacity="0.8"/>
<polygon points="141.1,159.0 141.9,166.8 138.7,166.5" fill="#5EC6F2" opacity="0.8"/>
<polygon points="163.1,153.9 161.4,151.6 163.1,151.1" fill="#5EC6F2" opacity="0.8"/>
<polygon points="61.2,129.3 58.2,134.2 56.5,132.5" fill="#5EC6F2" opacity="0.8"/>
<polygon points="158.0,208.0 161.0,208.7 159.7,210.5" fill="#5EC6F2" opacity="0.8"/>
<polygon points="58.1,212.4 62.2,212.7 61.1,215.3" fill="#5EC6F2" opacity="0.8"/>
<polygon points="157.0,189.8 161.1,187.4 161.7,189.1" fill="#5EC6F2" opacity="0.8"/>
<polygon points="166.1,217.8 162.3,217.8 162.8,215.9" fill="#5EC6F2" opacity="0.8"/>
<polygon points="93.2,202.6 90.0,209.4 88.7,208.6" fill="#5EC6F2" opacity="0.8"/>
<polygon points="147.2,191.2 141.2,192.6 141.1,191.1" fill="#5EC6F2" opacity="0.8"/>
<polygon points="61.2,189.0 65.6,195.4 63.7,196.3" fill="#5EC6F2" opacity="0.8"/>
<polygon points="116.5,198.9 117.0,195.7 118.8,196.5" fill="#5EC6F2" opacity="0.8"/>
<polygon points="62.4,175.0 61.3,171.6 63.1,171.5" fill="#5EC6F2" opacity="0.8"/>
<polygon points="130.4,136.0 127.5,130.2 128.9,129.7" fill="#5EC6F2" opacity="0.8"/>
<polygon points="163.1,142.7 159.2,149.5 156.7,147.3" fill="#5EC6F2" opacity="0.8"/>
<polygon points="66.8,167.2 64.8,170.0 63.4,167.1" fill="#5EC6F2" opacity="0.8"/>
<polygon points="124.2,165.0 123.4,169.5 121.2,168.4" fill="#5EC6F2" opacity="0.8"/>
<polygon points="125.8,142.8 121.8,142.9 122.8,140.1" fill="#5EC6F2" opacity="0.8"/>
<polygon points="112.6,148.9 112.2,141.5 114.5,141.8" fill="#5EC6F2" opacity="0.8"/>
<polygon points="62.4,159.0 65.2,152.4 66.7,153.3" fill="#5EC6F2" opacity="0.8"/>
<polygon points="111.6,162.0 104.8,158.4 107.1,155.7" fill="#5EC6F2" opacity="0.8"/>
<polygon points="55.7,214.3 53.0,208.6 55.4,208.0" fill="#5EC6F2" opacity="0.8"/>
<polygon points="79.1,154.4 80.2,150.5 82.9,152.9" fill="#5EC6F2" opacity="0.8"/>
<polygon points="165.6,213.9 164.7,210.5 168.0,211.4" fill="#5EC6F2" opacity="0.8"/>
<polygon points="58.3,192.7 54.4,194.0 54.2,192.6" fill="#5EC6F2" opacity="0.8"/>
<polygon points="146.9,159.1 143.6,160.7 143.6,157.5" fill="#5EC6F2" opacity="0.8"/>
<polygon points="114.3,142.7 110.7,146.1 109.7,144.5" fill="#5EC6F2" opacity="0.8"/>
<polygon points="115.9,137.6 117.0,141.2 114.0,140.9" fill="#5EC6F2" opacity="0.8"/>
<polygon points="68.5,134.0 71.6,134.9 70.1,136.8" fill="#5EC6F2" opacity="0.8"/>
<polygon points="78.5,141.4 81.6,146.7 78.5,147.5" fill="#5EC6F2" opacity="0.8"/>
<polygon points="116.6,143.9 118.0,146.6 115.7,146.9" fill="#5EC6F2" opacity="0.8"/>
<polygon points="129.9,139.7 132.0,132.9 134.8,134.5" fill="#5EC6F2" opacity="0.8"/>
<polygon points="152.6,171.2 151.1,173.6 149.8,171.5" fill="#5EC6F2" opacity="0.8"/>
<polygon points="153.1,149.4 152.3,153.0 150.4,151.9" fill="#5EC6F2" opacity="0.8"/>
<polygon points="72.7,161.9 66.9,163.0 66.9,160.5" fill="#5EC6F2" opacity="0.8"/>
<polygon points="99.8,171.5 102.1,174.2 99.0,174.9" fill="#5EC6F2" opacity="0.8"/>
<polygon points="145.9,161.7 149.5,156.2 151.6,158.4" fill="#5EC6F2" opacity="0.8"/>
<polygon points="47.0,206.6 54.7,205.0 54.7,207.6" fill="#5EC6F2" opacity="0.8"/>
<polygon points="113.2,176.0 110.8,177.4 110.4,175.6" fill="#5EC6F2" opacity="0.8"/>
<polygon points="70.7,134.4 69.8,138.2 68.5,137.6" fill="#5EC6F2" opacity="0.8"/>
<polygon points="62.5,191.3 58.7,192.2 59.0,189.5" fill="#5EC6F2" opacity="0.8"/>
<polygon points="121.2,179.1 115.1,176.6 117.1,173.9" fill="#5EC6F2" opacity="0.8"/>
<polygon points="129.7,132.9 132.8,131.6 132.9,134.1" fill="#5EC6F2" opacity="0.8"/>
<polygon points="83.8,143.2 79.7,140.5 81.8,138.8" fill="#5EC6F2" opacity="0.8"/>
<polygon points="149.9,136.2 150.9,141.9 149.2,141.9" fill="#5EC6F2" opacity="0.8"/>
<polygon points="141.8,214.3 145.1,210.6 146.6,213.5" fill="#5EC6F2" opacity="0.8"/>
<polygon points="111.3,156.4 111.1,164.1 109.0,163.8" fill="#5EC6F2" opacity="0.8"/>
<polygon points="80.9,158.0 76.2,160.1 75.9,157.0" fill="#5EC6F2" opacity="0.8"/>
<polygon points="163.0,203.5 155.8,202.4 156.6,200.0" fill="#5EC6F2" opacity="0.8"/>
<polygon points="158.2,213.6 160.9,210.5 162.2,213.0" fill="#5EC6F2" opacity="0.8"/>
<polygon points="88.2,177.1 90.3,174.8 91.4,177.1" fill="#5EC6F2" opacity="0.8"/>
<polygon points="51.2,133.5 51.6,141.5 48.2,140.9" fill="#5EC6F2" opacity="0.8"/>
<polygon points="128.4,195.8 123.4,201.2 122.4,200.1" fill="#5EC6F2" opacity="0.8"/>
<polygon points="123.0,158.6 122.6,152.2 125.2,152.6" fill="#5EC6F2" opacity="0.8"/>
<polygon points="153.7,183.5 157.7,182.8 157.4,185.1" fill="#5EC6F2" opacity="0.8"/>
<polygon points="158.2,151.0 161.4,153.8 160.1,154.8" fill="#5EC6F2" opacity="0.8"/>
<polygon points="117.6,219.0 117.0,213.6 119.4,213.8" fill="#5EC6F2" opacity="0.8"/>
<polygon points="113.2,144.3 110.3,142.7 111.8,141.3" fill="#5EC6F2" opacity="0.8"/>
<polygon points="99.1,156.4 95.2,155.5 96.5,153.3" fill="#5EC6F2" opacity="0.8"/>
<polygon points="144.2,178.4 148.2,182.4 146.8,183.5" fill="#5EC6F2" opacity="0.8"/>
<polygon points="127.9,166.1 132.9,168.8 131.3,170.7" fill="#5EC6F2" opacity="0.8"/>
<polygon points="80.7,150.0 84.5,149.2 84.3,151.4" fill="#5EC6F2" opacity="0.8"/>
<polygon points="120.1,126.5 117.9,130.5 116.5,129.2" fill="#5EC6F2" opacity="0.8"/>
<polygon points="117.8,172.1 113.8,173.5 113.7,171.4" fill="#5EC6F2" opacity="0.8"/>
<polygon points="141.4,140.8 140.3,143.7 138.6,142.1" fill="#5EC6F2" opacity="0.8"/>
<polygon points="54.3,158.3 55.6,163.2 54.0,163.3" fill="#5EC6F2" opacity="0.8"/>
<polygon points="77.9,219.4 73.4,214.6 75.1,213.4" fill="#5EC6F2" opacity="0.8"/>
<polygon points="92.9,184.0 90.7,189.7 88.1,187.8" fill="#5EC6F2" opacity="0.8"/>
<polygon points="109.5,187.8 110.3,194.5 107.9,194.3" fill="#5EC6F2" opacity="0.8"/>
<polygon points="146.2,197.1 139.8,192.9 142.2,190.6" fill="#5EC6F2" opacity="0.8"/>
<polygon points="42.2,196.9 47.9,195.0 47.9,198.6" fill="#5EC6F2" opacity="0.8"/>
<polygon points="120.3,161.0 116.6,166.9 114.6,165.0" fill="#5EC6F2" opacity="0.8"/>
<polygon points="91.8,164.0 93.7,168.8 91.6,169.1" fill="#5EC6F2" opacity="0.8"/>
<polygon points="93.0,180.2 92.7,176.2 96.2,178.0" fill="#62C8F2" opacity="0.7"/>
<polygon points="138.9,205.1 141.6,201.8 143.1,205.8" fill="#62C8F2" opacity="0.7"/>
<polygon points="67.8,155.0 70.9,154.8 69.5,157.6" fill="#62C8F2" opacity="0.7"/>
<polygon points="115.2,139.6 114.9,133.8 120.1,136.4" fill="#62C8F2" opacity="0.7"/>
<polygon points="148.9,206.5 144.6,202.4 150.3,200.7" fill="#62C8F2" opacity="0.7"/>
<polygon points="99.7,210.1 97.1,210.7 97.9,208.2" fill="#62C8F2" opacity="0.7"/>
<polygon points="115.2,169.7 117.4,175.0 111.6,174.2" fill="#62C8F2" opacity="0.7"/>
<polygon points="109.1,217.2 113.1,215.4 112.6,219.8" fill="#62C8F2" opacity="0.7"/>
<polygon points="127.2,162.2 131.1,162.4 128.9,165.6" fill="#62C8F2" opacity="0.7"/>
<polygon points="86.4,212.5 91.0,210.8 90.3,215.6" fill="#62C8F2" opacity="0.7"/>
<polygon points="57.1,161.2 61.0,160.6 59.5,164.3" fill="#62C8F2" opacity="0.7"/>
<polygon points="112.4,207.2 117.3,203.8 117.8,209.7" fill="#62C8F2" opacity="0.7"/>
<polygon points="97.9,187.2 98.3,181.1 103.4,184.5" fill="#62C8F2" opacity="0.7"/>
<polygon points="109.8,202.9 109.5,199.8 112.4,201.1" fill="#62C8F2" opacity="0.7"/>
<polygon points="166.0,203.8 161.7,203.0 164.5,199.7" fill="#62C8F2" opacity="0.7"/>
<polygon points="157.2,189.9 152.6,192.9 152.3,187.4" fill="#62C8F2" opacity="0.7"/>
<polygon points="152.8,167.9 152.0,164.9 155.0,165.7" fill="#62C8F2" opacity="0.7"/>
<polygon points="109.2,175.3 106.5,173.4 109.5,172.1" fill="#62C8F2" opacity="0.7"/>
<polygon points="124.7,182.3 121.5,184.3 121.3,180.5" fill="#62C8F2" opacity="0.7"/>
<polygon points="123.8,130.3 125.0,134.2 121.0,133.2" fill="#62C8F2" opacity="0.7"/>
<polygon points="83.5,191.6 83.0,189.0 85.4,189.9" fill="#62C8F2" opacity="0.7"/>
<polygon points="148.7,183.5 145.0,180.3 149.6,178.7" fill="#62C8F2" opacity="0.7"/>
<polygon points="105.5,176.3 108.8,177.7 106.0,179.8" fill="#62C8F2" opacity="0.7"/>
<polygon points="108.5,218.8 110.7,214.7 113.1,218.6" fill="#62C8F2" opacity="0.7"/>
<polygon points="64.2,144.6 59.1,143.8 62.3,139.7" fill="#62C8F2" opacity="0.7"/>
<polygon points="60.5,141.7 60.7,146.1 56.8,144.1" fill="#62C8F2" opacity="0.7"/>
<polygon points="122.1,200.6 119.6,201.8 119.8,199.0" fill="#62C8F2" opacity="0.7"/>
<polygon points="137.5,159.8 138.1,154.8 142.2,157.8" fill="#62C8F2" opacity="0.7"/>
<polygon points="69.0,151.5 67.7,154.2 66.1,151.8" fill="#62C8F2" opacity="0.7"/>
<polygon points="115.0,161.4 116.3,157.4 119.1,160.6" fill="#62C8F2" opacity="0.7"/>
<polygon points="56.5,207.2 53.2,210.5 52.0,206.0" fill="#62C8F2" opacity="0.7"/>
<polygon points="101.7,184.4 98.4,185.3 99.3,181.9" fill="#62C8F2" opacity="0.7"/>
<polygon points="160.1,203.4 158.6,206.8 156.4,203.9" fill="#62C8F2" opacity="0.7"/>
<polygon points="147.3,155.1 143.9,158.4 142.8,153.8" fill="#62C8F2" opacity="0.7"/>
<polygon points="104.9,214.4 106.1,211.2 108.3,213.8" fill="#62C8F2" opacity="0.7"/>
<polygon points="134.5,147.0 133.6,150.5 131.0,147.9" fill="#62C8F2" opacity="0.7"/>
<polygon points="106.1,201.0 103.2,199.1 106.2,197.5" fill="#62C8F2" opacity="0.7"/>
<polygon points="89.3,148.7 87.7,142.9 93.4,144.5" fill="#62C8F2" opacity="0.7"/>
<polygon points="112.4,140.7 113.8,136.5 116.8,139.8" fill="#62C8F2" opacity="0.7"/>
<polygon points="96.3,133.1 96.4,136.1 93.7,134.7" fill="#62C8F2" opacity="0.7"/>
<polygon points="88.9,152.4 87.9,149.3 91.1,150.0" fill="#62C8F2" opacity="0.7"/>
<polygon points="74.1,134.3 74.4,129.4 78.5,132.0" fill="#62C8F2" opacity="0.7"/>
<polygon points="65.8,193.2 64.6,190.5 67.5,190.8" fill="#62C8F2" opacity="0.7"/>
<polygon points="148.2,138.1 148.1,142.2 144.5,140.1" fill="#62C8F2" opacity="0.7"/>
<polygon points="143.0,140.8 145.4,143.7 141.7,144.4" fill="#62C8F2" opacity="0.7"/>
<polygon points="94.1,213.3 91.9,215.8 90.9,212.6" fill="#62C8F2" opacity="0.7"/>
<polygon points="109.2,150.7 105.2,149.5 108.3,146.7" fill="#62C8F2" opacity="0.7"/>
<polygon points="128.8,150.2 134.5,150.4 131.5,155.3" fill="#62C8F2" opacity="0.7"/>
<polygon points="91.9,153.3 88.7,149.9 93.2,148.8" fill="#62C8F2" opacity="0.7"/>
<polygon points="149.0,139.0 153.2,137.9 152.0,142.1" fill="#62C8F2" opacity="0.7"/>
<polygon points="78.4,195.4 81.9,197.2 78.6,199.4" fill="#62C8F2" opacity="0.7"/>
<polygon points="117.0,157.6 113.1,157.5 115.1,154.1" fill="#62C8F2" opacity="0.7"/>
<polygon points="67.4,202.5 70.6,204.3 67.5,206.3" fill="#62C8F2" opacity="0.7"/>
<polygon points="58.2,178.7 61.5,176.8 61.5,180.6" fill="#62C8F2" opacity="0.7"/>
<polygon points="83.1,136.8 80.8,133.9 84.5,133.3" fill="#62C8F2" opacity="0.7"/>
<polygon points="60.7,193.6 62.3,190.4 64.3,193.3" fill="#62C8F2" opacity="0.7"/>
<polygon points="157.8,195.1 156.9,200.7 152.5,197.1" fill="#62C8F2" opacity="0.7"/>
<polygon points="62.5,151.9 64.7,153.5 62.3,154.6" fill="#62C8F2" opacity="0.7"/>
<polygon points="125.2,158.1 128.8,159.9 125.4,162.1" fill="#62C8F2" opacity="0.7"/>
<polygon points="128.8,153.4 129.5,147.9 133.9,151.2" fill="#62C8F2" opacity="0.7"/>
<circle cx="122.4" cy="144.9" r="0.5" fill="#58D0F4" opacity="0.9"/>
<circle cx="79.7" cy="182.9" r="0.5" fill="#58D0F4" opacity="0.9"/>
<circle cx="132.3" cy="132.4" r="0.5" fill="#58D0F4" opacity="0.9"/>
<circle cx="119.9" cy="167.0" r="0.7" fill="#58D0F4" opacity="0.9"/>
<circle cx="66.0" cy="194.4" r="0.9" fill="#58D0F4" opacity="0.9"/>
<circle cx="84.5" cy="185.5" r="0.5" fill="#58D0F4" opacity="0.9"/>
<circle cx="114.7" cy="149.0" r="0.7" fill="#58D0F4" opacity="0.9"/>
<circle cx="132.8" cy="151.4" r="0.7" fill="#58D0F4" opacity="0.9"/>
<circle cx="127.3" cy="179.9" r="0.5" fill="#58D0F4" opacity="0.9"/>
<circle cx="60.7" cy="196.6" r="0.9" fill="#58D0F4" opacity="0.9"/>
<circle cx="81.5" cy="132.6" r="0.9" fill="#58D0F4" opacity="0.9"/>
<circle cx="119.8" cy="133.0" r="0.5" fill="#58D0F4" opacity="0.9"/>
<circle cx="128.6" cy="132.1" r="0.7" fill="#58D0F4" opacity="0.9"/>
<circle cx="72.4" cy="210.0" r="0.9" fill="#58D0F4" opacity="0.9"/>
<circle cx="156.3" cy="165.9" r="0.9" fill="#58D0F4" opacity="0.9"/>
<circle cx="94.3" cy="195.2" r="0.5" fill="#58D0F4" opacity="0.9"/>
<circle cx="80.9" cy="136.8" r="0.7" fill="#58D0F4" opacity="0.9"/>
<circle cx="100.2" cy="159.0" r="0.9" fill="#58D0F4" opacity="0.9"/>
<circle cx="135.4" cy="202.5" r="0.9" fill="#58D0F4" opacity="0.9"/>
<circle cx="122.0" cy="174.0" r="0.9" fill="#58D0F4" opacity="0.9"/>
<circle cx="130.6" cy="166.8" r="0.9" fill="#58D0F4" opacity="0.9"/>
<circle cx="148.3" cy="197.9" r="0.7" fill="#58D0F4" opacity="0.9"/>
<circle cx="138.2" cy="132.7" r="0.9" fill="#58D0F4" opacity="0.9"/>
<circle cx="145.8" cy="178.5" r="0.5" fill="#58D0F4" opacity="0.9"/>
<circle cx="112.5" cy="214.9" r="0.9" fill="#58D0F4" opacity="0.9"/>
<circle cx="75.5" cy="151.9" r="0.5" fill="#58D0F4" opacity="0.9"/>
<circle cx="67.4" cy="159.6" r="0.5" fill="#58D0F4" opacity="0.9"/>
<circle cx="71.4" cy="156.4" r="0.5" fill="#58D0F4" opacity="0.9"/>
<circle cx="129.2" cy="172.0" r="0.7" fill="#58D0F4" opacity="0.9"/>
<circle cx="75.8" cy="150.3" r="0.9" fill="#58D0F4" opacity="0.9"/>
<circle cx="129.8" cy="140.6" r="0.9" fill="#58D0F4" opacity="0.9"/>
<circle cx="89.3" cy="155.4" r="0.9" fill="#58D0F4" opacity="0.9"/>
<circle cx="64.3" cy="178.8" r="0.7" fill="#58D0F4" opacity="0.9"/>
<circle cx="122.4" cy="139.3" r="0.7" fill="#58D0F4" opacity="0.9"/>
<circle cx="138.1" cy="143.8" r="0.9" fill="#58D0F4" opacity="0.9"/>
<circle cx="65.9" cy="215.8" r="0.7" fill="#58D0F4" opacity="0.9"/>
<circle cx="146.5" cy="139.0" r="0.7" fill="#58D0F4" opacity="0.9"/>
<circle cx="48.9" cy="172.0" r="0.5" fill="#58D0F4" opacity="0.9"/>
<circle cx="54.6" cy="153.7" r="0.5" fill="#58D0F4" opacity="0.9"/>
<circle cx="60.6" cy="156.2" r="0.5" fill="#58D0F4" opacity="0.9"/>
<circle cx="66.6" cy="168.3" r="0.9" fill="#58D0F4" opacity="0.9"/>
<circle cx="90.7" cy="143.7" r="0.5" fill="#58D0F4" opacity="0.9"/>
<circle cx="52.8" cy="170.4" r="0.7" fill="#58D0F4" opacity="0.9"/>
<circle cx="57.4" cy="192.5" r="0.9" fill="#58D0F4" opacity="0.9"/>
<circle cx="114.6" cy="138.5" r="0.7" fill="#58D0F4" opacity="0.9"/>
<circle cx="161.4" cy="172.2" r="0.9" fill="#58D0F4" opacity="0.9"/>
<circle cx="85.8" cy="160.7" r="0.5" fill="#58D0F4" opacity="0.9"/>
<circle cx="124.2" cy="184.5" r="0.9" fill="#58D0F4" opacity="0.9"/>
<circle cx="125.2" cy="151.1" r="0.5" fill="#58D0F4" opacity="0.9"/>
<circle cx="56.7" cy="195.2" r="0.5" fill="#58D0F4" opacity="0.9"/>
<circle cx="139.7" cy="203.4" r="0.7" fill="#58D0F4" opacity="0.9"/>
<circle cx="91.3" cy="214.2" r="0.9" fill="#58D0F4" opacity="0.9"/>
<circle cx="148.2" cy="211.1" r="0.5" fill="#58D0F4" opacity="0.9"/>
<circle cx="59.6" cy="192.6" r="0.7" fill="#58D0F4" opacity="0.9"/>
<circle cx="135.9" cy="157.8" r="0.5" fill="#58D0F4" opacity="0.9"/>
<circle cx="124.6" cy="160.4" r="0.5" fill="#58D0F4" opacity="0.9"/>
<circle cx="91.3" cy="177.7" r="0.7" fill="#58D0F4" opacity="0.9"/>
<circle cx="147.3" cy="151.3" r="0.5" fill="#58D0F4" opacity="0.9"/>
<circle cx="52.3" cy="179.1" r="0.9" fill="#58D0F4" opacity="0.9"/>
<circle cx="157.2" cy="217.6" r="0.7" fill="#58D0F4" opacity="0.9"/>
<circle cx="155.3" cy="212.7" r="0.7" fill="#58D0F4" opacity="0.9"/>
<circle cx="97.8" cy="193.7" r="0.7" fill="#58D0F4" opacity="0.9"/>
<circle cx="119.2" cy="184.4" r="0.5" fill="#58D0F4" opacity="0.9"/>
<circle cx="129.4" cy="143.3" r="0.7" fill="#58D0F4" opacity="0.9"/>
<circle cx="123.3" cy="164.4" r="0.5" fill="#58D0F4" opacity="0.9"/>
<circle cx="148.8" cy="171.4" r="0.5" fill="#58D0F4" opacity="0.9"/>
<circle cx="133.6" cy="129.0" r="0.9" fill="#58D0F4" opacity="0.9"/>
<circle cx="149.4" cy="198.7" r="0.7" fill="#58D0F4" opacity="0.9"/>
<circle cx="64.5" cy="135.2" r="0.5" fill="#58D0F4" opacity="0.9"/>
<circle cx="108.7" cy="166.2" r="0.7" fill="#58D0F4" opacity="0.9"/>
<circle cx="54.9" cy="129.6" r="0.5" fill="#58D0F4" opacity="0.9"/>
<circle cx="155.2" cy="143.4" r="0.7" fill="#58D0F4" opacity="0.9"/>
<circle cx="47.9" cy="200.2" r="0.9" fill="#58D0F4" opacity="0.9"/>
<circle cx="88.9" cy="146.2" r="0.5" fill="#58D0F4" opacity="0.9"/>
<circle cx="112.1" cy="174.7" r="0.7" fill="#58D0F4" opacity="0.9"/>
<circle cx="163.2" cy="209.5" r="0.5" fill="#58D0F4" opacity="0.9"/>
<circle cx="163.5" cy="214.2" r="0.9" fill="#58D0F4" opacity="0.9"/>
<circle cx="57.1" cy="200.7" r="0.9" fill="#58D0F4" opacity="0.9"/>
<circle cx="128.0" cy="182.9" r="0.7" fill="#58D0F4" opacity="0.9"/>
<circle cx="114.8" cy="166.2" r="0.7" fill="#58D0F4" opacity="0.9"/>
<circle cx="104.7" cy="186.3" r="0.7" fill="#58D0F4" opacity="0.9"/>
<circle cx="150.5" cy="175.9" r="0.9" fill="#58D0F4" opacity="0.9"/>
<circle cx="50.7" cy="145.6" r="0.9" fill="#58D0F4" opacity="0.9"/>
<circle cx="135.6" cy="190.2" r="0.5" fill="#58D0F4" opacity="0.9"/>
<circle cx="126.1" cy="161.8" r="0.9" fill="#58D0F4" opacity="0.9"/>
<circle cx="159.8" cy="160.8" r="0.5" fill="#58D0F4" opacity="0.9"/>
<circle cx="114.7" cy="164.0" r="0.5" fill="#58D0F4" opacity="0.9"/>
<circle cx="74.5" cy="214.8" r="0.5" fill="#58D0F4" opacity="0.9"/>
<circle cx="112.7" cy="138.8" r="0.7" fill="#58D0F4" opacity="0.9"/>
<circle cx="124.8" cy="145.5" r="0.9" fill="#58D0F4" opacity="0.9"/>
<circle cx="77.4" cy="172.2" r="0.9" fill="#58D0F4" opacity="0.9"/>
<circle cx="102.0" cy="176.9" r="0.9" fill="#58D0F4" opacity="0.9"/>
<circle cx="60.9" cy="174.4" r="0.9" fill="#58D0F4" opacity="0.9"/>
<circle cx="115.0" cy="204.4" r="0.9" fill="#58D0F4" opacity="0.9"/>
<circle cx="56.2" cy="167.8" r="0.9" fill="#58D0F4" opacity="0.9"/>
<circle cx="113.0" cy="192.3" r="0.5" fill="#58D0F4" opacity="0.9"/>
<circle cx="122.1" cy="214.1" r="0.9" fill="#58D0F4" opacity="0.9"/>
<circle cx="59.6" cy="202.5" r="0.7" fill="#58D0F4" opacity="0.9"/>
<circle cx="112.3" cy="214.8" r="0.5" fill="#58D0F4" opacity="0.9"/>
<circle cx="114.5" cy="197.6" r="0.5" fill="#58D0F4" opacity="0.9"/>
<circle cx="91.9" cy="183.7" r="0.7" fill="#58D0F4" opacity="0.9"/>
<circle cx="75.6" cy="161.9" r="0.5" fill="#58D0F4" opacity="0.9"/>
<circle cx="131.1" cy="213.7" r="0.7" fill="#58D0F4" opacity="0.9"/>
<circle cx="83.2" cy="191.6" r="0.7" fill="#58D0F4" opacity="0.9"/>
<circle cx="155.7" cy="136.6" r="0.5" fill="#58D0F4" opacity="0.9"/>
<circle cx="114.5" cy="210.3" r="0.7" fill="#58D0F4" opacity="0.9"/>
<circle cx="67.4" cy="195.0" r="0.7" fill="#58D0F4" opacity="0.9"/>
<circle cx="143.2" cy="194.2" r="0.5" fill="#58D0F4" opacity="0.9"/>
<circle cx="145.8" cy="139.7" r="0.7" fill="#58D0F4" opacity="0.9"/>
<circle cx="108.6" cy="175.4" r="0.7" fill="#58D0F4" opacity="0.9"/>
<circle cx="133.4" cy="132.7" r="0.9" fill="#58D0F4" opacity="0.9"/>
<circle cx="89.5" cy="160.4" r="0.7" fill="#58D0F4" opacity="0.9"/>
<circle cx="143.1" cy="138.8" r="0.9" fill="#58D0F4" opacity="0.9"/>
<circle cx="76.3" cy="160.3" r="0.9" fill="#58D0F4" opacity="0.9"/>
<circle cx="100.7" cy="203.2" r="0.9" fill="#58D0F4" opacity="0.9"/>
<circle cx="99.8" cy="199.1" r="0.7" fill="#58D0F4" opacity="0.9"/>
<circle cx="60.6" cy="199.9" r="0.5" fill="#58D0F4" opacity="0.9"/>
<circle cx="65.3" cy="211.5" r="0.9" fill="#58D0F4" opacity="0.9"/>
<circle cx="127.2" cy="203.1" r="0.9" fill="#58D0F4" opacity="0.9"/>
<circle cx="151.7" cy="176.6" r="0.9" fill="#58D0F4" opacity="0.9"/>
<circle cx="138.2" cy="152.7" r="0.7" fill="#58D0F4" opacity="0.9"/>
<circle cx="49.0" cy="159.2" r="0.5" fill="#58D0F4" opacity="0.9"/>
<circle cx="105.5" cy="171.8" r="0.5" fill="#58D0F4" opacity="0.9"/>
<circle cx="142.8" cy="131.9" r="0.5" fill="#58D0F4" opacity="0.9"/>
<circle cx="121.4" cy="186.0" r="0.9" fill="#58D0F4" opacity="0.9"/>
<circle cx="94.2" cy="171.0" r="0.5" fill="#58D0F4" opacity="0.9"/>
<circle cx="130.0" cy="168.6" r="0.5" fill="#58D0F4" opacity="0.9"/>
<circle cx="151.5" cy="183.0" r="0.5" fill="#58D0F4" opacity="0.9"/>
<circle cx="90.4" cy="175.7" r="0.7" fill="#58D0F4" opacity="0.9"/>
<circle cx="154.0" cy="181.1" r="0.5" fill="#58D0F4" opacity="0.9"/>
<circle cx="72.6" cy="201.5" r="0.9" fill="#58D0F4" opacity="0.9"/>
<circle cx="103.2" cy="180.0" r="0.7" fill="#58D0F4" opacity="0.9"/>
<circle cx="159.1" cy="156.7" r="0.7" fill="#58D0F4" opacity="0.9"/>
<circle cx="116.4" cy="158.4" r="0.5" fill="#58D0F4" opacity="0.9"/>
<circle cx="77.0" cy="206.6" r="0.9" fill="#58D0F4" opacity="0.9"/>
<circle cx="52.8" cy="141.7" r="0.9" fill="#58D0F4" opacity="0.9"/>
<circle cx="64.5" cy="162.9" r="0.5" fill="#58D0F4" opacity="0.9"/>
<circle cx="107.0" cy="152.1" r="0.9" fill="#58D0F4" opacity="0.9"/>
<circle cx="115.8" cy="180.7" r="0.5" fill="#58D0F4" opacity="0.9"/>
<circle cx="165.7" cy="131.8" r="0.9" fill="#58D0F4" opacity="0.9"/>
</g>
<g filter="url(#bl)">
<polygon points="71.1,255.3 135.9,241.0 94.7,288.0" fill="#D0A4CE" />
<polygon points="72.0,234.6 64.5,221.7 79.5,221.7" fill="#8A98DE" /><polygon points="72.0,232.6 66.3,222.7 77.7,222.7" fill="#6CD2EE" /><polygon points="72.0,229.4 69.1,224.3 74.9,224.3" fill="#E6F8EC" />
<polygon points="64.0,226.3 60.3,219.8 67.7,219.8" fill="#8A98DE" /><polygon points="64.0,225.3 61.2,220.4 66.8,220.4" fill="#6CD2EE" /><polygon points="64.0,223.7 62.5,221.2 65.5,221.2" fill="#E6F8EC" />
<polygon points="59.2,243.2 46.5,246.1 50.3,233.6" fill="#8A98DE" /><polygon points="57.5,242.7 47.8,244.9 50.7,235.4" fill="#6CD2EE" /><polygon points="54.8,241.9 49.8,243.0 51.3,238.1" fill="#E6F8EC" />
<polygon points="112.0,294.4 118.5,305.8 105.5,305.8" fill="#8A98DE" /><polygon points="112.0,296.3 117.0,304.9 107.0,304.9" fill="#6CD2EE" /><polygon points="112.0,299.1 114.5,303.5 109.5,303.5" fill="#E6F8EC" />
<polygon points="123.0,295.6 127.7,303.7 118.3,303.7" fill="#8A98DE" /><polygon points="123.0,296.9 126.6,303.1 119.4,303.0" fill="#6CD2EE" /><polygon points="123.0,298.9 124.8,302.1 121.2,302.0" fill="#E6F8EC" />
<polygon points="106.0,301.7 109.7,308.2 102.3,308.2" fill="#8A98DE" /><polygon points="106.0,302.7 108.8,307.6 103.2,307.6" fill="#6CD2EE" /><polygon points="106.0,304.3 107.5,306.8 104.5,306.8" fill="#E6F8EC" />
<polygon points="160.0,279.4 166.5,290.8 153.5,290.8" fill="#8A98DE" /><polygon points="160.0,281.3 165.0,289.9 155.0,289.9" fill="#6CD2EE" /><polygon points="160.0,284.1 162.5,288.5 157.5,288.5" fill="#E6F8EC" />
<polygon points="156.4,260.0 167.8,253.4 167.8,266.5" fill="#8A98DE" /><polygon points="158.3,260.0 166.9,255.0 166.9,265.0" fill="#6CD2EE" /><polygon points="161.1,260.0 165.5,257.5 165.5,262.5" fill="#E6F8EC" />
<polygon points="152.0,295.7 155.7,302.2 148.3,302.2" fill="#8A98DE" /><polygon points="152.0,296.7 154.8,301.6 149.2,301.6" fill="#6CD2EE" /><polygon points="152.0,298.3 153.5,300.8 150.5,300.8" fill="#E6F8EC" />
</g>
</svg>
<svg x="205.8" y="128.6" width="119.2" height="178.7" viewBox="205.8 128.6 119.2 178.7" overflow="hidden">
<rect x="205.8" y="128.6" width="119.2" height="89.2" fill="#B1AAF4"/>
<rect x="205.8" y="217.8" width="119.2" height="89.5" fill="#E7A9BA"/>
<g filter="url(#bl)">
<circle cx="313.4" cy="137.1" r="1.2" fill="#5CC6F0" opacity="0.45"/>
<circle cx="281.3" cy="185.2" r="1.0" fill="#5CC6F0" opacity="0.45"/>
<circle cx="300.3" cy="149.8" r="0.8" fill="#5CC6F0" opacity="0.45"/>
<circle cx="287.0" cy="155.7" r="1.0" fill="#5CC6F0" opacity="0.45"/>
<circle cx="266.5" cy="185.3" r="1.2" fill="#5CC6F0" opacity="0.45"/>
<circle cx="245.7" cy="191.4" r="1.2" fill="#5CC6F0" opacity="0.45"/>
<circle cx="265.8" cy="208.4" r="1.0" fill="#5CC6F0" opacity="0.45"/>
<circle cx="223.8" cy="146.9" r="1.2" fill="#5CC6F0" opacity="0.45"/>
<circle cx="254.1" cy="163.9" r="0.8" fill="#5CC6F0" opacity="0.45"/>
<circle cx="275.7" cy="141.4" r="1.0" fill="#5CC6F0" opacity="0.45"/>
<circle cx="292.4" cy="177.8" r="1.0" fill="#5CC6F0" opacity="0.45"/>
<circle cx="214.6" cy="145.6" r="0.8" fill="#5CC6F0" opacity="0.45"/>
<circle cx="242.1" cy="160.1" r="1.2" fill="#5CC6F0" opacity="0.45"/>
<circle cx="291.8" cy="210.8" r="1.0" fill="#5CC6F0" opacity="0.45"/>
<circle cx="313.0" cy="153.2" r="0.6" fill="#5CC6F0" opacity="0.45"/>
<circle cx="296.2" cy="184.5" r="0.6" fill="#5CC6F0" opacity="0.45"/>
<circle cx="231.8" cy="164.2" r="1.0" fill="#5CC6F0" opacity="0.45"/>
<circle cx="308.8" cy="186.4" r="0.6" fill="#5CC6F0" opacity="0.45"/>
<circle cx="320.6" cy="182.2" r="1.0" fill="#5CC6F0" opacity="0.45"/>
<circle cx="291.5" cy="129.1" r="0.6" fill="#5CC6F0" opacity="0.45"/>
<circle cx="282.1" cy="210.9" r="1.0" fill="#5CC6F0" opacity="0.45"/>
<circle cx="309.2" cy="131.0" r="1.0" fill="#5CC6F0" opacity="0.45"/>
<circle cx="226.6" cy="205.6" r="0.6" fill="#5CC6F0" opacity="0.45"/>
<circle cx="280.5" cy="158.4" r="1.2" fill="#5CC6F0" opacity="0.45"/>
<circle cx="236.4" cy="169.9" r="1.0" fill="#5CC6F0" opacity="0.45"/>
<circle cx="273.0" cy="216.7" r="1.0" fill="#5CC6F0" opacity="0.45"/>
<circle cx="224.5" cy="130.3" r="0.6" fill="#5CC6F0" opacity="0.45"/>
<circle cx="248.5" cy="160.9" r="0.8" fill="#5CC6F0" opacity="0.45"/>
<circle cx="284.2" cy="182.3" r="1.0" fill="#5CC6F0" opacity="0.45"/>
<circle cx="302.8" cy="171.2" r="1.0" fill="#5CC6F0" opacity="0.45"/>
<circle cx="283.5" cy="177.6" r="1.0" fill="#5CC6F0" opacity="0.45"/>
<circle cx="248.9" cy="175.8" r="1.0" fill="#5CC6F0" opacity="0.45"/>
<circle cx="206.9" cy="171.0" r="1.0" fill="#5CC6F0" opacity="0.45"/>
<circle cx="223.8" cy="184.7" r="0.6" fill="#5CC6F0" opacity="0.45"/>
<circle cx="317.5" cy="184.3" r="0.8" fill="#5CC6F0" opacity="0.45"/>
<circle cx="272.0" cy="144.8" r="1.0" fill="#5CC6F0" opacity="0.45"/>
<circle cx="293.7" cy="209.1" r="0.8" fill="#5CC6F0" opacity="0.45"/>
<circle cx="268.8" cy="159.9" r="1.2" fill="#5CC6F0" opacity="0.45"/>
<circle cx="322.9" cy="173.1" r="1.0" fill="#5CC6F0" opacity="0.45"/>
<circle cx="313.2" cy="163.3" r="0.6" fill="#5CC6F0" opacity="0.45"/>
</g>
<g filter="url(#bl)">
<polygon points="232.8,268.8 228.5,261.3 237.1,261.3" fill="#D0A4CE" />
<polygon points="220.0,280.0 224.3,287.5 215.7,287.5" fill="#D0A4CE" />
<polygon points="275.4,267.4 271.1,259.9 279.7,259.9" fill="#D0A4CE" />
<polygon points="284.0,267.8 287.9,274.6 280.1,274.5" fill="#D0A4CE" />
<polygon points="294.0,283.9 290.1,277.1 297.9,277.2" fill="#D0A4CE" />
<polygon points="276.9,279.7 280.4,285.7 273.4,285.7" fill="#D0A4CE" />
<polygon points="302.4,264.0 298.5,257.2 306.3,257.3" fill="#D0A4CE" />
<polygon points="311.0,276.3 314.9,283.1 307.1,283.0" fill="#D0A4CE" />
<polygon points="319.5,277.7 316.0,271.7 323.0,271.7" fill="#D0A4CE" />
<polygon points="262.7,294.8 266.6,301.6 258.8,301.5" fill="#D0A4CE" />
<polygon points="228.6,300.5 232.5,307.3 224.7,307.2" fill="#D0A4CE" />
<polygon points="294.0,292.5 297.5,298.5 290.5,298.5" fill="#D0A4CE" />
<polygon points="248.0,300.0 244.5,294.0 251.5,294.0" fill="#D0A4CE" />
<polygon points="225.0,229.2 226.6,231.9 223.4,231.9" fill="#8FE0EE" />
<polygon points="219.0,236.2 220.6,238.9 217.4,238.9" fill="#8FE0EE" />
<polygon points="265.0,220.2 266.6,222.9 263.4,222.9" fill="#8FE0EE" />
<polygon points="272.0,227.2 273.6,229.9 270.4,229.9" fill="#8FE0EE" />
<polygon points="299.0,227.2 300.6,229.9 297.4,229.9" fill="#8FE0EE" />
<polygon points="310.0,235.2 311.6,237.9 308.4,237.9" fill="#8FE0EE" />
<polygon points="307.0,250.2 308.6,252.9 305.4,252.9" fill="#8FE0EE" />
<polygon points="316.0,260.2 317.6,262.9 314.4,262.9" fill="#8FE0EE" />
<polygon points="245.0,291.2 246.6,293.9 243.4,293.9" fill="#8FE0EE" />
<polygon points="311.0,263.2 312.6,265.9 309.4,265.9" fill="#8FE0EE" />
<polygon points="283.0,244.2 284.6,246.9 281.4,246.9" fill="#8FE0EE" />
<polygon points="290.0,250.2 291.6,252.9 288.4,252.9" fill="#8FE0EE" />
<polygon points="260.0,234.2 261.6,236.9 258.4,236.9" fill="#8FE0EE" />
<polygon points="214.0,252.2 215.6,254.9 212.4,254.9" fill="#8FE0EE" />
<polygon points="318.0,283.2 319.6,285.9 316.4,285.9" fill="#8FE0EE" />
<circle cx="240" cy="229.7" r="1.7" fill="#6A5058" opacity="0.85"/><circle cx="252.7" cy="239.6" r="1.5" fill="#6A5058" opacity="0.85"/>
</g>
</svg>
<svg x="360.4" y="128.6" width="119.4" height="178.1" viewBox="360.4 128.6 119.4 178.1" overflow="hidden">
<rect x="360.4" y="128.6" width="119.4" height="88.6" fill="#ACAAF3"/>
<rect x="360.4" y="217.2" width="119.4" height="89.5" fill="#E5A7B5"/>
<g filter="url(#bl)">
<circle cx="390.5" cy="151.8" r="0.8" fill="#5CC6F0" opacity="0.75"/>
<circle cx="402.7" cy="157.5" r="1.0" fill="#5CC6F0" opacity="0.75"/>
<circle cx="396.0" cy="216.7" r="0.8" fill="#5CC6F0" opacity="0.75"/>
<circle cx="417.4" cy="211.3" r="0.8" fill="#5CC6F0" opacity="0.75"/>
<circle cx="458.6" cy="153.6" r="1.2" fill="#5CC6F0" opacity="0.75"/>
<circle cx="464.5" cy="150.7" r="1.2" fill="#5CC6F0" opacity="0.75"/>
<circle cx="385.7" cy="133.2" r="1.0" fill="#5CC6F0" opacity="0.75"/>
<circle cx="365.9" cy="197.2" r="1.2" fill="#5CC6F0" opacity="0.75"/>
<circle cx="463.6" cy="216.7" r="0.6" fill="#5CC6F0" opacity="0.75"/>
<circle cx="456.5" cy="142.1" r="0.8" fill="#4A6FB8" opacity="0.75"/>
<circle cx="469.2" cy="142.0" r="0.6" fill="#5CC6F0" opacity="0.75"/>
<circle cx="450.1" cy="169.8" r="1.2" fill="#5CC6F0" opacity="0.75"/>
<circle cx="400.9" cy="210.0" r="1.0" fill="#5CC6F0" opacity="0.75"/>
<circle cx="477.4" cy="131.5" r="0.6" fill="#5CC6F0" opacity="0.75"/>
<circle cx="364.9" cy="173.3" r="1.2" fill="#5CC6F0" opacity="0.75"/>
<circle cx="443.8" cy="193.1" r="1.0" fill="#5CC6F0" opacity="0.75"/>
<circle cx="368.1" cy="138.4" r="0.8" fill="#4A6FB8" opacity="0.75"/>
<circle cx="423.1" cy="128.8" r="0.8" fill="#5CC6F0" opacity="0.75"/>
<circle cx="436.0" cy="176.9" r="1.0" fill="#4A6FB8" opacity="0.75"/>
<circle cx="460.6" cy="213.4" r="0.8" fill="#5CC6F0" opacity="0.75"/>
<circle cx="462.3" cy="214.7" r="0.6" fill="#5CC6F0" opacity="0.75"/>
<circle cx="393.0" cy="144.3" r="0.6" fill="#5CC6F0" opacity="0.75"/>
<circle cx="475.8" cy="146.0" r="1.0" fill="#5CC6F0" opacity="0.75"/>
<circle cx="392.3" cy="157.5" r="1.2" fill="#5CC6F0" opacity="0.75"/>
<circle cx="425.3" cy="177.2" r="1.0" fill="#5CC6F0" opacity="0.75"/>
<circle cx="408.1" cy="156.8" r="0.8" fill="#5CC6F0" opacity="0.75"/>
<circle cx="406.6" cy="162.7" r="0.8" fill="#5CC6F0" opacity="0.75"/>
<circle cx="467.6" cy="184.9" r="1.0" fill="#5CC6F0" opacity="0.75"/>
<circle cx="443.2" cy="193.3" r="0.8" fill="#4A6FB8" opacity="0.75"/>
<circle cx="439.6" cy="136.3" r="0.6" fill="#5CC6F0" opacity="0.75"/>
<circle cx="468.9" cy="133.0" r="1.0" fill="#5CC6F0" opacity="0.75"/>
<circle cx="442.2" cy="167.8" r="1.2" fill="#5CC6F0" opacity="0.75"/>
<circle cx="476.4" cy="128.7" r="1.2" fill="#5CC6F0" opacity="0.75"/>
<circle cx="421.3" cy="181.1" r="0.8" fill="#4A6FB8" opacity="0.75"/>
<circle cx="458.9" cy="198.7" r="1.0" fill="#5CC6F0" opacity="0.75"/>
<circle cx="445.4" cy="163.5" r="1.0" fill="#5CC6F0" opacity="0.75"/>
<circle cx="369.0" cy="199.2" r="1.0" fill="#5CC6F0" opacity="0.75"/>
<circle cx="391.7" cy="203.1" r="1.0" fill="#5CC6F0" opacity="0.75"/>
<circle cx="422.7" cy="170.8" r="0.8" fill="#5CC6F0" opacity="0.75"/>
<circle cx="368.3" cy="195.7" r="0.8" fill="#5CC6F0" opacity="0.75"/>
<circle cx="423.4" cy="200.7" r="0.8" fill="#5CC6F0" opacity="0.75"/>
<circle cx="378.6" cy="187.2" r="0.6" fill="#5CC6F0" opacity="0.75"/>
<circle cx="398.8" cy="160.7" r="1.2" fill="#5CC6F0" opacity="0.75"/>
<circle cx="375.1" cy="142.2" r="0.6" fill="#5CC6F0" opacity="0.75"/>
<circle cx="404.0" cy="187.3" r="1.0" fill="#5CC6F0" opacity="0.75"/>
<circle cx="414.5" cy="136.4" r="1.2" fill="#5CC6F0" opacity="0.75"/>
<circle cx="443.4" cy="168.4" r="0.8" fill="#5CC6F0" opacity="0.75"/>
<circle cx="451.0" cy="141.9" r="1.0" fill="#5CC6F0" opacity="0.75"/>
<circle cx="418.8" cy="187.1" r="1.0" fill="#5CC6F0" opacity="0.75"/>
<circle cx="456.1" cy="151.0" r="0.6" fill="#5CC6F0" opacity="0.75"/>
<circle cx="428.5" cy="133.7" r="1.0" fill="#5CC6F0" opacity="0.75"/>
<circle cx="469.9" cy="151.2" r="1.2" fill="#5CC6F0" opacity="0.75"/>
<circle cx="371.3" cy="185.0" r="0.8" fill="#5CC6F0" opacity="0.75"/>
<circle cx="375.7" cy="213.5" r="1.0" fill="#5CC6F0" opacity="0.75"/>
<circle cx="470.3" cy="192.2" r="0.6" fill="#5CC6F0" opacity="0.75"/>
<circle cx="445.5" cy="154.8" r="1.0" fill="#5CC6F0" opacity="0.75"/>
<circle cx="402.5" cy="162.7" r="0.8" fill="#5CC6F0" opacity="0.75"/>
<circle cx="477.1" cy="204.1" r="0.6" fill="#5CC6F0" opacity="0.75"/>
<circle cx="439.9" cy="157.8" r="1.2" fill="#5CC6F0" opacity="0.75"/>
<circle cx="405.7" cy="175.2" r="0.6" fill="#5CC6F0" opacity="0.75"/>
<circle cx="373.3" cy="178.5" r="1.2" fill="#4A6FB8" opacity="0.75"/>
<circle cx="409.9" cy="170.6" r="1.2" fill="#5CC6F0" opacity="0.75"/>
<circle cx="407.9" cy="140.6" r="0.6" fill="#5CC6F0" opacity="0.75"/>
<circle cx="440.4" cy="194.2" r="0.6" fill="#5CC6F0" opacity="0.75"/>
<circle cx="470.9" cy="154.6" r="1.2" fill="#5CC6F0" opacity="0.75"/>
<circle cx="452.3" cy="139.1" r="0.6" fill="#5CC6F0" opacity="0.75"/>
<circle cx="428.6" cy="130.0" r="0.8" fill="#5CC6F0" opacity="0.75"/>
<circle cx="427.8" cy="133.5" r="1.0" fill="#5CC6F0" opacity="0.75"/>
<circle cx="418.0" cy="133.5" r="1.2" fill="#5CC6F0" opacity="0.75"/>
<circle cx="461.1" cy="141.0" r="0.6" fill="#5CC6F0" opacity="0.75"/>
<circle cx="464.5" cy="141.5" r="0.6" fill="#5CC6F0" opacity="0.75"/>
<circle cx="382.6" cy="176.3" r="0.6" fill="#5CC6F0" opacity="0.75"/>
<circle cx="397.8" cy="151.2" r="1.2" fill="#5CC6F0" opacity="0.75"/>
<circle cx="421.4" cy="165.8" r="1.0" fill="#5CC6F0" opacity="0.75"/>
<circle cx="390.1" cy="162.3" r="1.0" fill="#5CC6F0" opacity="0.75"/>
<circle cx="396.8" cy="140.3" r="1.0" fill="#5CC6F0" opacity="0.75"/>
<circle cx="471.7" cy="186.8" r="0.8" fill="#5CC6F0" opacity="0.75"/>
<circle cx="404.1" cy="199.6" r="0.6" fill="#5CC6F0" opacity="0.75"/>
<circle cx="447.5" cy="129.4" r="1.0" fill="#5CC6F0" opacity="0.75"/>
<circle cx="364.6" cy="148.1" r="0.8" fill="#5CC6F0" opacity="0.75"/>
<circle cx="445.2" cy="199.7" r="1.2" fill="#5CC6F0" opacity="0.75"/>
<circle cx="408.9" cy="193.1" r="0.8" fill="#5CC6F0" opacity="0.75"/>
<circle cx="367.3" cy="167.0" r="0.6" fill="#5CC6F0" opacity="0.75"/>
<circle cx="376.8" cy="206.6" r="1.2" fill="#5CC6F0" opacity="0.75"/>
<circle cx="381.9" cy="210.3" r="0.8" fill="#5CC6F0" opacity="0.75"/>
<circle cx="419.9" cy="188.3" r="1.0" fill="#5CC6F0" opacity="0.75"/>
<circle cx="456.2" cy="176.0" r="0.8" fill="#5CC6F0" opacity="0.75"/>
<circle cx="422.0" cy="169.9" r="0.6" fill="#5CC6F0" opacity="0.75"/>
<circle cx="473.9" cy="165.3" r="1.0" fill="#5CC6F0" opacity="0.75"/>
<circle cx="444.7" cy="167.8" r="0.6" fill="#5CC6F0" opacity="0.75"/>
<circle cx="470.7" cy="140.4" r="1.2" fill="#5CC6F0" opacity="0.75"/>
<circle cx="395.5" cy="149.2" r="1.0" fill="#5CC6F0" opacity="0.75"/>
<circle cx="444.8" cy="192.3" r="1.0" fill="#5CC6F0" opacity="0.75"/>
<circle cx="399.1" cy="203.1" r="0.8" fill="#5CC6F0" opacity="0.75"/>
<circle cx="407.1" cy="131.5" r="1.0" fill="#5CC6F0" opacity="0.75"/>
<circle cx="387.1" cy="177.0" r="1.2" fill="#5CC6F0" opacity="0.75"/>
<circle cx="378.2" cy="144.9" r="1.2" fill="#5CC6F0" opacity="0.75"/>
<circle cx="374.1" cy="202.0" r="0.8" fill="#5CC6F0" opacity="0.75"/>
<circle cx="479.3" cy="211.8" r="1.0" fill="#5CC6F0" opacity="0.75"/>
<circle cx="418.9" cy="130.2" r="0.6" fill="#5CC6F0" opacity="0.75"/>
<circle cx="384.3" cy="153.4" r="0.6" fill="#5CC6F0" opacity="0.75"/>
<circle cx="384.4" cy="170.3" r="0.8" fill="#5CC6F0" opacity="0.75"/>
<circle cx="429.5" cy="155.2" r="0.6" fill="#5CC6F0" opacity="0.75"/>
<circle cx="475.9" cy="159.1" r="1.0" fill="#4A6FB8" opacity="0.75"/>
<circle cx="366.4" cy="158.1" r="0.8" fill="#5CC6F0" opacity="0.75"/>
<circle cx="399.7" cy="160.9" r="1.0" fill="#5CC6F0" opacity="0.75"/>
<circle cx="457.0" cy="192.7" r="0.6" fill="#5CC6F0" opacity="0.75"/>
<circle cx="454.5" cy="181.4" r="0.6" fill="#5CC6F0" opacity="0.75"/>
<circle cx="365.1" cy="179.9" r="0.8" fill="#5CC6F0" opacity="0.75"/>
<circle cx="410.0" cy="202.8" r="0.8" fill="#5CC6F0" opacity="0.75"/>
<circle cx="403.3" cy="187.3" r="0.6" fill="#5CC6F0" opacity="0.75"/>
<circle cx="461.0" cy="206.0" r="0.8" fill="#5CC6F0" opacity="0.75"/>
<circle cx="391.6" cy="138.0" r="0.8" fill="#5CC6F0" opacity="0.75"/>
<circle cx="419.6" cy="176.1" r="1.2" fill="#5CC6F0" opacity="0.75"/>
<circle cx="389.8" cy="179.0" r="1.0" fill="#5CC6F0" opacity="0.75"/>
<circle cx="404.2" cy="146.1" r="0.8" fill="#5CC6F0" opacity="0.75"/>
<circle cx="478.4" cy="209.1" r="0.8" fill="#5CC6F0" opacity="0.75"/>
<circle cx="466.7" cy="129.9" r="1.2" fill="#4A6FB8" opacity="0.75"/>
<circle cx="454.9" cy="190.7" r="0.8" fill="#5CC6F0" opacity="0.75"/>
<circle cx="370.8" cy="143.8" r="0.6" fill="#5CC6F0" opacity="0.75"/>
<circle cx="411.0" cy="183.9" r="0.6" fill="#5CC6F0" opacity="0.75"/>
<circle cx="370.5" cy="179.9" r="0.6" fill="#5CC6F0" opacity="0.75"/>
<circle cx="458.5" cy="135.1" r="0.6" fill="#5CC6F0" opacity="0.75"/>
<circle cx="365.3" cy="183.4" r="1.0" fill="#5CC6F0" opacity="0.75"/>
<circle cx="401.2" cy="200.4" r="0.8" fill="#5CC6F0" opacity="0.75"/>
<circle cx="361.7" cy="211.9" r="1.2" fill="#5CC6F0" opacity="0.75"/>
<circle cx="364.2" cy="198.5" r="0.8" fill="#5CC6F0" opacity="0.75"/>
<circle cx="378.5" cy="159.1" r="0.8" fill="#5CC6F0" opacity="0.75"/>
<circle cx="470.8" cy="189.4" r="0.6" fill="#5CC6F0" opacity="0.75"/>
<circle cx="479.5" cy="198.7" r="1.2" fill="#5CC6F0" opacity="0.75"/>
<circle cx="423.2" cy="157.8" r="0.6" fill="#5CC6F0" opacity="0.75"/>
<circle cx="384.2" cy="184.0" r="1.2" fill="#5CC6F0" opacity="0.75"/>
<circle cx="371.4" cy="192.2" r="0.8" fill="#5CC6F0" opacity="0.75"/>
<circle cx="456.3" cy="172.2" r="1.2" fill="#5CC6F0" opacity="0.75"/>
<circle cx="376.5" cy="202.0" r="0.6" fill="#4A6FB8" opacity="0.75"/>
<circle cx="449.3" cy="202.4" r="0.8" fill="#5CC6F0" opacity="0.75"/>
<circle cx="412.4" cy="201.7" r="1.0" fill="#5CC6F0" opacity="0.75"/>
<circle cx="449.7" cy="181.2" r="0.6" fill="#5CC6F0" opacity="0.75"/>
<circle cx="368.5" cy="198.0" r="0.8" fill="#5CC6F0" opacity="0.75"/>
<circle cx="389.1" cy="180.7" r="1.2" fill="#5CC6F0" opacity="0.75"/>
<circle cx="429.1" cy="211.3" r="0.6" fill="#5CC6F0" opacity="0.75"/>
<circle cx="407.2" cy="198.0" r="1.0" fill="#5CC6F0" opacity="0.75"/>
<circle cx="459.0" cy="164.6" r="1.0" fill="#5CC6F0" opacity="0.75"/>
<circle cx="439.6" cy="208.7" r="1.0" fill="#5CC6F0" opacity="0.75"/>
<circle cx="360.9" cy="171.9" r="0.6" fill="#5CC6F0" opacity="0.75"/>
<circle cx="465.3" cy="170.7" r="1.0" fill="#5CC6F0" opacity="0.75"/>
<circle cx="415.0" cy="158.3" r="1.0" fill="#5CC6F0" opacity="0.75"/>
<circle cx="407.4" cy="169.9" r="1.0" fill="#5CC6F0" opacity="0.75"/>
<circle cx="370.9" cy="152.6" r="1.2" fill="#5CC6F0" opacity="0.75"/>
<circle cx="409.0" cy="176.3" r="0.8" fill="#5CC6F0" opacity="0.75"/>
<circle cx="441.9" cy="132.3" r="0.8" fill="#5CC6F0" opacity="0.75"/>
<circle cx="406.9" cy="158.1" r="0.8" fill="#5CC6F0" opacity="0.75"/>
<circle cx="387.2" cy="207.4" r="1.2" fill="#5CC6F0" opacity="0.75"/>
<circle cx="397.2" cy="156.8" r="0.8" fill="#5CC6F0" opacity="0.75"/>
<circle cx="462.7" cy="214.4" r="0.6" fill="#5CC6F0" opacity="0.75"/>
<circle cx="360.4" cy="144.1" r="1.2" fill="#4A6FB8" opacity="0.75"/>
<circle cx="427.9" cy="186.8" r="0.6" fill="#5CC6F0" opacity="0.75"/>
<circle cx="478.0" cy="193.7" r="1.2" fill="#5CC6F0" opacity="0.75"/>
<circle cx="376.5" cy="195.3" r="1.2" fill="#5CC6F0" opacity="0.75"/>
<circle cx="369.5" cy="183.9" r="1.0" fill="#5CC6F0" opacity="0.75"/>
<circle cx="403.6" cy="187.2" r="1.2" fill="#5CC6F0" opacity="0.75"/>
<circle cx="472.4" cy="200.2" r="1.2" fill="#5CC6F0" opacity="0.75"/>
<circle cx="419.3" cy="189.9" r="0.6" fill="#5CC6F0" opacity="0.75"/>
<circle cx="427.0" cy="168.3" r="0.8" fill="#5CC6F0" opacity="0.75"/>
<circle cx="447.4" cy="195.0" r="1.0" fill="#5CC6F0" opacity="0.75"/>
<circle cx="418.0" cy="129.2" r="1.0" fill="#4A6FB8" opacity="0.75"/>
<circle cx="377.7" cy="180.7" r="0.6" fill="#5CC6F0" opacity="0.75"/>
<circle cx="479.5" cy="144.0" r="1.0" fill="#5CC6F0" opacity="0.75"/>
<circle cx="435.3" cy="150.0" r="0.6" fill="#5CC6F0" opacity="0.75"/>
<circle cx="410.6" cy="215.3" r="1.2" fill="#5CC6F0" opacity="0.75"/>
<circle cx="419.3" cy="214.9" r="1.0" fill="#5CC6F0" opacity="0.75"/>
<circle cx="399.1" cy="202.4" r="0.6" fill="#5CC6F0" opacity="0.75"/>
<circle cx="455.2" cy="159.4" r="0.6" fill="#5CC6F0" opacity="0.75"/>
<circle cx="379.8" cy="194.0" r="1.0" fill="#5CC6F0" opacity="0.75"/>
<circle cx="468.8" cy="180.6" r="1.0" fill="#4A6FB8" opacity="0.75"/>
<circle cx="475.3" cy="145.2" r="1.2" fill="#5CC6F0" opacity="0.75"/>
<circle cx="384.0" cy="157.0" r="0.6" fill="#5CC6F0" opacity="0.75"/>
<circle cx="441.8" cy="160.7" r="1.2" fill="#5CC6F0" opacity="0.75"/>
<circle cx="392.3" cy="146.7" r="1.2" fill="#4A6FB8" opacity="0.75"/>
<circle cx="420.2" cy="164.8" r="1.0" fill="#5CC6F0" opacity="0.75"/>
<circle cx="365.6" cy="153.3" r="1.2" fill="#5CC6F0" opacity="0.75"/>
<circle cx="450.3" cy="153.0" r="1.2" fill="#5CC6F0" opacity="0.75"/>
<circle cx="423.6" cy="154.2" r="1.0" fill="#5CC6F0" opacity="0.75"/>
<circle cx="414.1" cy="129.6" r="1.0" fill="#5CC6F0" opacity="0.75"/>
<circle cx="402.6" cy="211.9" r="0.8" fill="#5CC6F0" opacity="0.75"/>
<circle cx="466.2" cy="206.2" r="1.2" fill="#5CC6F0" opacity="0.75"/>
<circle cx="460.0" cy="191.7" r="0.8" fill="#4A6FB8" opacity="0.75"/>
<circle cx="437.4" cy="214.3" r="0.6" fill="#5CC6F0" opacity="0.75"/>
<circle cx="452.9" cy="163.6" r="1.0" fill="#4A6FB8" opacity="0.75"/>
<circle cx="408.2" cy="172.9" r="0.8" fill="#5CC6F0" opacity="0.75"/>
<circle cx="445.4" cy="141.3" r="1.2" fill="#5CC6F0" opacity="0.75"/>
<circle cx="440.3" cy="208.5" r="1.0" fill="#5CC6F0" opacity="0.75"/>
<circle cx="441.8" cy="210.5" r="0.6" fill="#5CC6F0" opacity="0.75"/>
<circle cx="462.1" cy="187.8" r="1.2" fill="#5CC6F0" opacity="0.75"/>
<circle cx="385.9" cy="193.2" r="0.8" fill="#5CC6F0" opacity="0.75"/>
<circle cx="378.4" cy="188.1" r="0.6" fill="#5CC6F0" opacity="0.75"/>
<circle cx="467.7" cy="208.2" r="1.2" fill="#5CC6F0" opacity="0.75"/>
<circle cx="465.3" cy="140.2" r="1.2" fill="#5CC6F0" opacity="0.75"/>
<circle cx="433.5" cy="153.0" r="1.0" fill="#5CC6F0" opacity="0.75"/>
<circle cx="433.0" cy="208.7" r="1.0" fill="#5CC6F0" opacity="0.75"/>
<circle cx="430.4" cy="151.6" r="2.6" fill="#3CC8F0"/><circle cx="430.4" cy="151.6" r="1" fill="#2A5A80"/>
<path d="M409,211 L414,209 L416,214 L412,217 L408,215 Z" fill="#3A3040"/>
</g>
<g filter="url(#bl)">
<polygon points="422.8,231.7 444.6,237.4 427.6,255.3" fill="#D0A4CE" />
<polygon points="394.9,261.8 423.3,261.0 404.9,289.4" fill="#D0A4CE" />
<polygon points="462.0,232.5 456.4,222.8 467.6,222.8" fill="#8A98DE" /><polygon points="462.0,230.9 457.7,223.5 466.3,223.5" fill="#6CD2EE" /><polygon points="462.0,228.5 459.8,224.7 464.2,224.7" fill="#E6F8EC" />
<polygon points="457.4,238.2 461.1,244.7 453.7,244.7" fill="#8A98DE" /><polygon points="457.4,239.2 460.2,244.1 454.6,244.1" fill="#6CD2EE" /><polygon points="457.4,240.8 458.9,243.3 455.9,243.3" fill="#E6F8EC" />
<polygon points="390.7,246.1 394.9,253.4 386.5,253.4" fill="#8A98DE" /><polygon points="390.7,247.3 393.9,252.8 387.5,252.8" fill="#6CD2EE" /><polygon points="390.7,249.1 392.3,251.9 389.1,251.9" fill="#E6F8EC" />
<polygon points="382.0,260.1 386.2,267.4 377.8,267.4" fill="#8A98DE" /><polygon points="382.0,261.3 385.2,266.8 378.8,266.8" fill="#6CD2EE" /><polygon points="382.0,263.1 383.6,265.9 380.4,265.9" fill="#E6F8EC" />
<polygon points="369.4,247.0 361.3,251.7 361.3,242.3" fill="#8A98DE" /><polygon points="368.1,247.0 361.9,250.6 362.0,243.4" fill="#6CD2EE" /><polygon points="366.1,247.0 362.9,248.8 363.0,245.2" fill="#E6F8EC" />
<polygon points="366.4,272.0 358.3,276.7 358.3,267.3" fill="#8A98DE" /><polygon points="365.1,272.0 358.9,275.6 359.0,268.4" fill="#6CD2EE" /><polygon points="363.1,272.0 359.9,273.8 360.0,270.2" fill="#E6F8EC" />
</g>
</svg>
<svg x="514.8" y="128.1" width="119.2" height="178.6" viewBox="514.8 128.1 119.2 178.6" overflow="hidden">
<rect x="514.8" y="128.1" width="119.2" height="89.1" fill="#ADA8F0"/>
<rect x="514.8" y="217.2" width="119.2" height="89.5" fill="#E6A7B3"/>
<g filter="url(#bl)">
<circle cx="595.4" cy="215.0" r="1.0" fill="#5CC6F0" opacity="0.80"/>
<circle cx="517.6" cy="174.2" r="1.0" fill="#5CC6F0" opacity="0.80"/>
<circle cx="540.8" cy="168.9" r="1.2" fill="#5CC6F0" opacity="0.80"/>
<circle cx="547.6" cy="133.4" r="0.6" fill="#5CC6F0" opacity="0.80"/>
<circle cx="519.5" cy="201.8" r="0.8" fill="#5CC6F0" opacity="0.80"/>
<circle cx="549.9" cy="211.5" r="0.8" fill="#4A6FB8" opacity="0.80"/>
<circle cx="540.8" cy="198.8" r="0.6" fill="#5CC6F0" opacity="0.80"/>
<circle cx="541.4" cy="143.5" r="1.0" fill="#5CC6F0" opacity="0.80"/>
<circle cx="565.3" cy="133.7" r="0.6" fill="#5CC6F0" opacity="0.80"/>
<circle cx="584.5" cy="163.8" r="1.2" fill="#5CC6F0" opacity="0.80"/>
<circle cx="541.8" cy="205.4" r="1.0" fill="#4A6FB8" opacity="0.80"/>
<circle cx="629.4" cy="157.5" r="0.6" fill="#4A6FB8" opacity="0.80"/>
<circle cx="591.3" cy="179.4" r="1.2" fill="#5CC6F0" opacity="0.80"/>
<circle cx="537.5" cy="183.0" r="0.8" fill="#5CC6F0" opacity="0.80"/>
<circle cx="548.5" cy="145.4" r="0.6" fill="#5CC6F0" opacity="0.80"/>
<circle cx="567.1" cy="145.7" r="0.8" fill="#5CC6F0" opacity="0.80"/>
<circle cx="607.0" cy="146.0" r="1.0" fill="#5CC6F0" opacity="0.80"/>
<circle cx="603.9" cy="212.6" r="0.6" fill="#4A6FB8" opacity="0.80"/>
<circle cx="522.3" cy="146.4" r="1.0" fill="#5CC6F0" opacity="0.80"/>
<circle cx="581.3" cy="184.0" r="1.0" fill="#5CC6F0" opacity="0.80"/>
<circle cx="633.0" cy="155.3" r="0.8" fill="#5CC6F0" opacity="0.80"/>
<circle cx="597.2" cy="165.6" r="1.2" fill="#5CC6F0" opacity="0.80"/>
<circle cx="606.9" cy="158.7" r="1.0" fill="#5CC6F0" opacity="0.80"/>
<circle cx="607.5" cy="170.1" r="1.0" fill="#4A6FB8" opacity="0.80"/>
<circle cx="609.5" cy="170.5" r="0.8" fill="#5CC6F0" opacity="0.80"/>
<circle cx="616.1" cy="175.2" r="1.2" fill="#5CC6F0" opacity="0.80"/>
<circle cx="539.7" cy="150.5" r="0.8" fill="#5CC6F0" opacity="0.80"/>
<circle cx="599.5" cy="212.3" r="1.2" fill="#4A6FB8" opacity="0.80"/>
<circle cx="607.1" cy="192.8" r="1.2" fill="#5CC6F0" opacity="0.80"/>
<circle cx="530.8" cy="129.2" r="1.2" fill="#5CC6F0" opacity="0.80"/>
<circle cx="518.1" cy="200.6" r="0.6" fill="#4A6FB8" opacity="0.80"/>
<circle cx="570.1" cy="132.0" r="0.6" fill="#5CC6F0" opacity="0.80"/>
<circle cx="617.1" cy="158.3" r="1.2" fill="#5CC6F0" opacity="0.80"/>
<circle cx="572.6" cy="185.1" r="0.8" fill="#5CC6F0" opacity="0.80"/>
<circle cx="539.2" cy="159.7" r="0.6" fill="#5CC6F0" opacity="0.80"/>
<circle cx="585.3" cy="139.3" r="1.2" fill="#5CC6F0" opacity="0.80"/>
<circle cx="583.0" cy="210.1" r="1.2" fill="#5CC6F0" opacity="0.80"/>
<circle cx="605.6" cy="178.9" r="1.2" fill="#5CC6F0" opacity="0.80"/>
<circle cx="534.9" cy="186.2" r="0.8" fill="#5CC6F0" opacity="0.80"/>
<circle cx="600.2" cy="169.9" r="0.8" fill="#5CC6F0" opacity="0.80"/>
<circle cx="528.9" cy="172.5" r="0.8" fill="#5CC6F0" opacity="0.80"/>
<circle cx="610.2" cy="207.3" r="0.8" fill="#5CC6F0" opacity="0.80"/>
<circle cx="590.4" cy="194.2" r="0.6" fill="#5CC6F0" opacity="0.80"/>
<circle cx="623.0" cy="145.9" r="1.2" fill="#5CC6F0" opacity="0.80"/>
<circle cx="520.6" cy="149.5" r="0.8" fill="#4A6FB8" opacity="0.80"/>
<circle cx="607.2" cy="132.0" r="1.2" fill="#5CC6F0" opacity="0.80"/>
<circle cx="546.1" cy="141.8" r="0.6" fill="#5CC6F0" opacity="0.80"/>
<circle cx="605.3" cy="206.7" r="0.8" fill="#5CC6F0" opacity="0.80"/>
<circle cx="611.0" cy="142.6" r="0.6" fill="#5CC6F0" opacity="0.80"/>
<circle cx="575.6" cy="213.4" r="0.6" fill="#5CC6F0" opacity="0.80"/>
<circle cx="523.4" cy="130.7" r="0.6" fill="#5CC6F0" opacity="0.80"/>
<circle cx="574.7" cy="183.3" r="0.6" fill="#5CC6F0" opacity="0.80"/>
<circle cx="598.9" cy="187.0" r="1.2" fill="#5CC6F0" opacity="0.80"/>
<circle cx="562.1" cy="128.8" r="0.6" fill="#5CC6F0" opacity="0.80"/>
<circle cx="537.1" cy="173.3" r="0.8" fill="#5CC6F0" opacity="0.80"/>
<circle cx="529.4" cy="186.0" r="1.2" fill="#5CC6F0" opacity="0.80"/>
<circle cx="632.0" cy="182.7" r="1.0" fill="#5CC6F0" opacity="0.80"/>
<circle cx="595.6" cy="135.9" r="0.6" fill="#5CC6F0" opacity="0.80"/>
<circle cx="525.5" cy="152.5" r="1.0" fill="#5CC6F0" opacity="0.80"/>
<circle cx="532.4" cy="182.1" r="0.8" fill="#4A6FB8" opacity="0.80"/>
<circle cx="515.6" cy="134.8" r="0.8" fill="#5CC6F0" opacity="0.80"/>
<circle cx="576.8" cy="168.7" r="0.8" fill="#5CC6F0" opacity="0.80"/>
<circle cx="624.0" cy="193.4" r="0.6" fill="#5CC6F0" opacity="0.80"/>
<circle cx="614.6" cy="192.0" r="0.8" fill="#5CC6F0" opacity="0.80"/>
<circle cx="616.1" cy="166.5" r="0.8" fill="#5CC6F0" opacity="0.80"/>
<circle cx="588.6" cy="154.2" r="0.8" fill="#5CC6F0" opacity="0.80"/>
<circle cx="544.9" cy="154.9" r="1.0" fill="#5CC6F0" opacity="0.80"/>
<circle cx="560.4" cy="142.5" r="1.2" fill="#5CC6F0" opacity="0.80"/>
<circle cx="605.7" cy="202.7" r="1.0" fill="#4A6FB8" opacity="0.80"/>
<circle cx="547.5" cy="150.4" r="0.6" fill="#5CC6F0" opacity="0.80"/>
<circle cx="555.4" cy="176.6" r="1.0" fill="#5CC6F0" opacity="0.80"/>
<circle cx="515.0" cy="196.8" r="1.0" fill="#5CC6F0" opacity="0.80"/>
<circle cx="609.5" cy="175.5" r="1.0" fill="#5CC6F0" opacity="0.80"/>
<circle cx="565.5" cy="158.1" r="0.6" fill="#5CC6F0" opacity="0.80"/>
<circle cx="629.9" cy="142.5" r="0.8" fill="#5CC6F0" opacity="0.80"/>
<circle cx="626.6" cy="164.4" r="0.6" fill="#4A6FB8" opacity="0.80"/>
<circle cx="592.0" cy="147.5" r="0.6" fill="#5CC6F0" opacity="0.80"/>
<circle cx="599.9" cy="166.5" r="0.8" fill="#5CC6F0" opacity="0.80"/>
<circle cx="587.6" cy="182.8" r="1.0" fill="#5CC6F0" opacity="0.80"/>
<circle cx="604.6" cy="150.2" r="0.6" fill="#5CC6F0" opacity="0.80"/>
<circle cx="525.7" cy="205.3" r="0.8" fill="#5CC6F0" opacity="0.80"/>
<circle cx="593.0" cy="181.4" r="1.0" fill="#5CC6F0" opacity="0.80"/>
<circle cx="524.1" cy="193.1" r="0.6" fill="#5CC6F0" opacity="0.80"/>
<circle cx="557.9" cy="140.8" r="1.2" fill="#5CC6F0" opacity="0.80"/>
<circle cx="592.1" cy="173.6" r="1.2" fill="#5CC6F0" opacity="0.80"/>
<circle cx="536.0" cy="137.0" r="1.2" fill="#5CC6F0" opacity="0.80"/>
<circle cx="597.9" cy="143.5" r="0.6" fill="#4A6FB8" opacity="0.80"/>
<circle cx="617.5" cy="169.1" r="0.8" fill="#5CC6F0" opacity="0.80"/>
<circle cx="518.5" cy="201.9" r="0.8" fill="#5CC6F0" opacity="0.80"/>
<circle cx="610.5" cy="187.9" r="0.6" fill="#5CC6F0" opacity="0.80"/>
<circle cx="615.6" cy="134.6" r="1.0" fill="#5CC6F0" opacity="0.80"/>
<circle cx="593.6" cy="144.2" r="0.6" fill="#5CC6F0" opacity="0.80"/>
<circle cx="614.6" cy="133.2" r="0.6" fill="#5CC6F0" opacity="0.80"/>
<circle cx="582.7" cy="148.0" r="0.6" fill="#5CC6F0" opacity="0.80"/>
<circle cx="546.8" cy="211.0" r="1.0" fill="#4A6FB8" opacity="0.80"/>
<circle cx="558.1" cy="192.5" r="1.0" fill="#5CC6F0" opacity="0.80"/>
<circle cx="559.0" cy="142.9" r="0.8" fill="#5CC6F0" opacity="0.80"/>
<circle cx="623.2" cy="142.9" r="0.6" fill="#5CC6F0" opacity="0.80"/>
<circle cx="541.5" cy="145.4" r="1.2" fill="#5CC6F0" opacity="0.80"/>
<circle cx="616.5" cy="149.6" r="1.0" fill="#5CC6F0" opacity="0.80"/>
<circle cx="618.5" cy="132.6" r="1.0" fill="#5CC6F0" opacity="0.80"/>
<circle cx="542.8" cy="130.7" r="0.6" fill="#5CC6F0" opacity="0.80"/>
<circle cx="527.9" cy="177.6" r="1.2" fill="#5CC6F0" opacity="0.80"/>
<circle cx="528.8" cy="170.8" r="0.8" fill="#5CC6F0" opacity="0.80"/>
<circle cx="565.6" cy="133.5" r="1.0" fill="#5CC6F0" opacity="0.80"/>
<circle cx="557.8" cy="169.9" r="0.6" fill="#4A6FB8" opacity="0.80"/>
<circle cx="523.3" cy="147.9" r="1.2" fill="#5CC6F0" opacity="0.80"/>
<circle cx="527.9" cy="212.2" r="0.8" fill="#5CC6F0" opacity="0.80"/>
<circle cx="577.0" cy="173.6" r="0.6" fill="#5CC6F0" opacity="0.80"/>
<circle cx="524.7" cy="151.7" r="1.2" fill="#4A6FB8" opacity="0.80"/>
<circle cx="579.6" cy="131.7" r="1.8" fill="#3CC8F0"/><circle cx="579.6" cy="131.7" r="0.7" fill="#2A5A80"/>
<circle cx="517.0" cy="152.0" r="1.3" fill="#3A3850"/>
<circle cx="520.0" cy="155.0" r="1.1" fill="#3A3850"/>
<circle cx="523.0" cy="157.0" r="0.9" fill="#3A3850"/>
<circle cx="611.4" cy="143.0" r="1.6" fill="#3A3850"/>
<circle cx="519.0" cy="178.6" r="1.2" fill="#3A3850"/>
</g>
<g filter="url(#bl)">
<polygon points="570.2,241.0 593.0,263.8 563.0,273.7" fill="#D0A4CE" />
<polygon points="546.0,237.6 551.1,246.5 540.9,246.5" fill="#8A98DE" /><polygon points="546.0,239.0 549.9,245.8 542.1,245.8" fill="#6CD2EE" /><polygon points="546.0,241.2 548.0,244.7 544.0,244.7" fill="#E6F8EC" />
<polygon points="542.0,258.1 546.2,265.4 537.8,265.4" fill="#8A98DE" /><polygon points="542.0,259.3 545.2,264.8 538.8,264.8" fill="#6CD2EE" /><polygon points="542.0,261.1 543.6,263.9 540.4,263.9" fill="#E6F8EC" />
<polygon points="603.2,252.8 593.1,255.0 596.2,245.2" fill="#8A98DE" /><polygon points="601.8,252.3 594.2,254.1 596.5,246.6" fill="#6CD2EE" /><polygon points="599.7,251.7 595.8,252.6 597.0,248.7" fill="#E6F8EC" />
<polygon points="617.7,228.1 606.5,228.4 611.8,218.5" fill="#8A98DE" /><polygon points="616.3,227.4 607.8,227.6 611.9,220.1" fill="#6CD2EE" /><polygon points="614.2,226.2 609.8,226.3 611.9,222.5" fill="#E6F8EC" />
<polygon points="625.7,225.4 620.9,233.4 616.4,225.2" fill="#8A98DE" /><polygon points="624.6,226.0 620.9,232.1 617.5,225.9" fill="#6CD2EE" /><polygon points="622.8,227.0 621.0,230.1 619.2,226.9" fill="#E6F8EC" />
<polygon points="620.3,224.6 613.7,221.2 620.0,217.2" fill="#8A98DE" /><polygon points="619.8,223.8 614.7,221.2 619.5,218.1" fill="#6CD2EE" /><polygon points="618.9,222.4 616.3,221.1 618.8,219.5" fill="#E6F8EC" />
<polygon points="587.3,284.3 589.2,287.6 585.4,287.6" fill="#8A98DE" /><polygon points="587.3,284.9 588.7,287.3 585.9,287.3" fill="#6CD2EE" /><polygon points="587.3,285.7 588.0,286.9 586.6,286.9" fill="#E6F8EC" />
<polygon points="624.0,298.8 626.8,303.6 621.2,303.6" fill="#8A98DE" /><polygon points="624.0,299.5 626.1,303.2 621.9,303.2" fill="#6CD2EE" /><polygon points="624.0,300.7 625.1,302.6 622.9,302.6" fill="#E6F8EC" />
</g>
<rect x="514.8" y="216.8" width="119.2" height="0.9" fill="#F4ECF4" opacity="0.8"/>
</svg>
<svg x="672.0" y="129.8" width="119.2" height="179.3" viewBox="672.0 129.8 119.2 179.3" overflow="hidden">
<rect x="672.0" y="129.8" width="119.2" height="90.4" fill="#AEB4F4"/>
<defs><linearGradient id="ge" x1="0" y1="0" x2="1" y2="0"><stop offset="0" stop-color="#D6A9B7"/><stop offset="0.45" stop-color="#E2B0BC"/><stop offset="1" stop-color="#E8B5BF"/></linearGradient></defs>
<rect x="672.0" y="220.2" width="119.2" height="88.9" fill="url(#ge)"/>
<g filter="url(#bl)">
<polygon points="763.8,139.8 768.2,141.1 764.8,144.3" fill="#52F0F2" opacity="0.95"/>
<polygon points="686.1,156.3 681.5,156.7 683.4,152.5" fill="#52F0F2" opacity="0.95"/>
<polygon points="754.1,172.6 756.8,171.3 756.6,174.3" fill="#52F0F2" opacity="0.95"/>
<polygon points="745.0,200.9 749.6,202.7 745.8,205.8" fill="#52F0F2" opacity="0.95"/>
<polygon points="754.2,130.3 755.8,134.2 751.7,133.6" fill="#52F0F2" opacity="0.95"/>
<polygon points="749.7,143.6 750.8,140.5 753.0,143.0" fill="#52F0F2" opacity="0.95"/>
<polygon points="778.6,157.8 778.2,160.2 776.4,158.7" fill="#52F0F2" opacity="0.95"/>
<polygon points="752.7,188.9 748.8,190.7 749.2,186.4" fill="#52F0F2" opacity="0.95"/>
<polygon points="727.9,193.6 727.5,197.1 724.6,195.0" fill="#52F0F2" opacity="0.95"/>
<polygon points="705.1,220.6 704.2,215.9 708.7,217.5" fill="#52F0F2" opacity="0.95"/>
<polygon points="710.8,148.0 708.5,148.9 708.9,146.5" fill="#52F0F2" opacity="0.95"/>
<polygon points="693.6,163.2 690.0,163.6 691.5,160.2" fill="#52F0F2" opacity="0.95"/>
<polygon points="715.3,204.7 719.1,207.0 715.2,209.1" fill="#52F0F2" opacity="0.95"/>
<polygon points="695.7,212.0 697.8,210.2 698.4,212.9" fill="#52F0F2" opacity="0.95"/>
<polygon points="710.7,200.4 708.3,202.4 707.8,199.3" fill="#52F0F2" opacity="0.95"/>
<polygon points="760.7,133.5 762.1,131.1 763.5,133.4" fill="#52F0F2" opacity="0.95"/>
<polygon points="756.7,183.8 754.2,180.1 758.7,179.7" fill="#52F0F2" opacity="0.95"/>
<polygon points="769.7,142.1 774.3,142.8 771.4,146.4" fill="#52F0F2" opacity="0.95"/>
<polygon points="728.5,181.3 727.0,178.2 730.4,178.5" fill="#52F0F2" opacity="0.95"/>
<polygon points="740.7,153.5 739.1,156.6 737.2,153.6" fill="#52F0F2" opacity="0.95"/>
<polygon points="791.1,140.2 792.6,143.0 789.4,142.9" fill="#52F0F2" opacity="0.95"/>
<polygon points="692.6,166.7 692.8,169.2 690.6,168.2" fill="#52F0F2" opacity="0.95"/>
<polygon points="766.6,154.9 764.0,151.9 767.9,151.2" fill="#52F0F2" opacity="0.95"/>
<polygon points="689.3,194.2 692.8,197.9 687.8,199.1" fill="#52F0F2" opacity="0.95"/>
<polygon points="685.9,168.6 682.5,171.7 681.5,167.2" fill="#52F0F2" opacity="0.95"/>
<polygon points="780.9,138.5 777.2,136.0 781.2,134.0" fill="#52F0F2" opacity="0.95"/>
<polygon points="687.9,138.3 687.2,135.0 690.4,136.0" fill="#52F0F2" opacity="0.95"/>
<polygon points="748.9,194.4 751.5,191.3 752.8,195.1" fill="#52F0F2" opacity="0.95"/>
<polygon points="729.9,179.5 730.8,175.4 733.9,178.3" fill="#52F0F2" opacity="0.95"/>
<polygon points="732.5,179.2 736.0,179.3 734.1,182.3" fill="#52F0F2" opacity="0.95"/>
<polygon points="704.9,163.6 701.5,167.0 700.2,162.4" fill="#52F0F2" opacity="0.95"/>
<polygon points="748.6,170.0 746.2,165.5 751.3,165.7" fill="#52F0F2" opacity="0.95"/>
<polygon points="769.4,191.9 771.4,193.3 769.2,194.3" fill="#52F0F2" opacity="0.95"/>
<polygon points="694.6,160.4 697.8,156.6 699.5,161.3" fill="#52F0F2" opacity="0.95"/>
<polygon points="714.8,196.7 713.0,201.5 709.8,197.6" fill="#52F0F2" opacity="0.95"/>
<polygon points="730.4,158.7 726.4,161.9 725.7,156.8" fill="#52F0F2" opacity="0.95"/>
<polygon points="680.8,218.9 682.4,215.4 684.6,218.5" fill="#52F0F2" opacity="0.95"/>
<polygon points="687.5,195.5 689.8,197.8 686.6,198.7" fill="#52F0F2" opacity="0.95"/>
<polygon points="719.2,174.5 716.4,176.2 716.3,172.8" fill="#52F0F2" opacity="0.95"/>
<polygon points="746.8,209.2 749.1,208.0 748.9,210.6" fill="#52F0F2" opacity="0.95"/>
<polygon points="775.1,185.9 778.2,183.2 779.0,187.3" fill="#52F0F2" opacity="0.95"/>
<polygon points="724.9,161.7 725.2,157.8 728.3,160.0" fill="#52F0F2" opacity="0.95"/>
<polygon points="761.5,155.7 765.0,158.7 760.7,160.3" fill="#52F0F2" opacity="0.95"/>
<polygon points="754.1,201.7 750.8,201.0 753.0,198.5" fill="#52F0F2" opacity="0.95"/>
<polygon points="747.7,158.4 744.8,155.7 748.6,154.6" fill="#52F0F2" opacity="0.95"/>
<polygon points="699.9,185.2 700.9,180.8 704.2,183.9" fill="#52F0F2" opacity="0.95"/>
<polygon points="774.8,189.1 772.1,189.4 773.2,186.9" fill="#52F0F2" opacity="0.95"/>
<polygon points="728.7,190.7 724.3,191.8 725.6,187.5" fill="#52F0F2" opacity="0.95"/>
<polygon points="777.1,182.9 780.5,182.4 779.2,185.6" fill="#52F0F2" opacity="0.95"/>
<polygon points="677.8,203.4 673.1,203.3 675.5,199.3" fill="#52F0F2" opacity="0.95"/>
<polygon points="703.0,144.6 701.8,147.1 700.2,144.8" fill="#52F0F2" opacity="0.95"/>
<polygon points="766.8,151.8 764.5,151.8 765.6,149.8" fill="#52F0F2" opacity="0.95"/>
<polygon points="684.4,148.7 680.8,148.9 682.4,145.6" fill="#52F0F2" opacity="0.95"/>
<polygon points="715.4,154.4 714.3,158.7 711.1,155.5" fill="#52F0F2" opacity="0.95"/>
<polygon points="711.5,215.4 710.3,212.6 713.3,212.9" fill="#52F0F2" opacity="0.95"/>
<polygon points="681.6,136.7 676.7,135.2 680.4,131.7" fill="#52F0F2" opacity="0.95"/>
<polygon points="776.8,161.2 773.4,159.9 776.2,157.5" fill="#52F0F2" opacity="0.95"/>
<polygon points="744.2,216.6 746.4,220.6 741.8,220.6" fill="#52F0F2" opacity="0.95"/>
<polygon points="773.8,168.2 770.9,169.5 771.3,166.4" fill="#52F0F2" opacity="0.95"/>
<polygon points="711.0,137.2 707.4,137.6 708.9,134.2" fill="#52F0F2" opacity="0.95"/>
<polygon points="688.1,202.0 690.8,199.6 691.5,203.1" fill="#52F0F2" opacity="0.95"/>
<polygon points="766.4,186.5 770.0,183.5 770.9,188.1" fill="#52F0F2" opacity="0.95"/>
<polygon points="724.5,133.8 721.2,130.1 726.0,129.0" fill="#52F0F2" opacity="0.95"/>
<polygon points="769.5,171.1 773.4,168.9 773.4,173.4" fill="#52F0F2" opacity="0.95"/>
<polygon points="734.4,161.2 732.9,159.3 735.3,158.9" fill="#52F0F2" opacity="0.95"/>
<polygon points="674.5,174.5 676.4,176.7 673.6,177.3" fill="#52F0F2" opacity="0.95"/>
<polygon points="727.8,147.0 725.5,148.7 725.2,145.9" fill="#52F0F2" opacity="0.95"/>
<polygon points="792.1,211.6 789.4,212.0 790.4,209.5" fill="#52F0F2" opacity="0.95"/>
<polygon points="726.1,158.2 729.7,160.7 725.7,162.5" fill="#52F0F2" opacity="0.95"/>
<polygon points="753.7,202.3 756.9,201.0 756.4,204.4" fill="#52F0F2" opacity="0.95"/>
<polygon points="708.0,201.6 707.2,198.5 710.3,199.4" fill="#52F0F2" opacity="0.95"/>
<polygon points="709.6,150.0 712.3,150.8 710.3,152.7" fill="#52F0F2" opacity="0.95"/>
<polygon points="701.6,130.7 702.6,133.8 699.5,133.1" fill="#52F0F2" opacity="0.95"/>
<polygon points="755.2,208.8 758.5,206.1 759.2,210.4" fill="#52F0F2" opacity="0.95"/>
<polygon points="707.3,134.9 711.4,135.9 708.4,138.9" fill="#52F0F2" opacity="0.95"/>
<polygon points="721.5,135.6 725.6,133.6 725.3,138.2" fill="#52F0F2" opacity="0.95"/>
<polygon points="723.1,208.3 725.6,204.0 728.1,208.3" fill="#52F0F2" opacity="0.95"/>
<polygon points="755.6,175.6 758.5,179.1 754.0,179.8" fill="#52F0F2" opacity="0.95"/>
<polygon points="711.7,135.8 707.2,135.7 709.6,131.8" fill="#52F0F2" opacity="0.95"/>
<polygon points="784.5,140.9 781.5,144.5 779.8,140.1" fill="#52F0F2" opacity="0.95"/>
<polygon points="740.9,136.1 736.8,137.3 737.7,133.2" fill="#52F0F2" opacity="0.95"/>
<polygon points="749.1,208.9 749.3,204.7 752.8,207.0" fill="#52F0F2" opacity="0.95"/>
<polygon points="733.4,140.5 736.3,143.6 732.1,144.6" fill="#52F0F2" opacity="0.95"/>
<polygon points="758.4,130.2 762.6,132.7 758.3,135.1" fill="#52F0F2" opacity="0.95"/>
<polygon points="735.9,191.4 736.2,194.6 733.4,193.3" fill="#52F0F2" opacity="0.95"/>
<polygon points="742.7,167.6 743.6,164.9 745.6,167.1" fill="#52F0F2" opacity="0.95"/>
<polygon points="769.7,192.6 768.5,195.7 766.4,193.1" fill="#52F0F2" opacity="0.95"/>
<polygon points="728.0,179.2 726.4,181.1 725.5,178.8" fill="#52F0F2" opacity="0.95"/>
<polygon points="784.3,196.8 782.2,194.2 785.6,193.7" fill="#52F0F2" opacity="0.95"/>
<polygon points="692.0,204.7 693.7,200.5 696.5,204.1" fill="#52F0F2" opacity="0.95"/>
<polygon points="698.3,199.7 696.1,203.6 693.8,199.7" fill="#52F0F2" opacity="0.95"/>
<polygon points="731.2,206.2 732.0,209.8 728.4,208.6" fill="#52F0F2" opacity="0.95"/>
<polygon points="674.4,173.6 677.9,176.6 673.6,178.2" fill="#52F0F2" opacity="0.95"/>
<polygon points="788.1,183.6 790.1,186.1 786.9,186.5" fill="#52F0F2" opacity="0.95"/>
<polygon points="775.4,192.3 771.3,193.1 772.8,189.1" fill="#52F0F2" opacity="0.95"/>
<polygon points="672.4,148.9 673.4,152.0 670.2,151.3" fill="#52F0F2" opacity="0.95"/>
<polygon points="703.7,133.3 701.7,134.6 701.6,132.2" fill="#52F0F2" opacity="0.95"/>
<polygon points="701.8,157.6 698.6,161.3 697.1,156.7" fill="#52F0F2" opacity="0.95"/>
<polygon points="707.5,187.6 706.5,184.3 709.8,185.0" fill="#52F0F2" opacity="0.95"/>
<polygon points="784.5,128.5 786.5,132.2 782.2,132.1" fill="#52F0F2" opacity="0.95"/>
<polygon points="764.9,178.4 765.4,183.4 760.9,181.4" fill="#52F0F2" opacity="0.95"/>
<polygon points="750.1,137.0 746.0,134.4 750.3,132.1" fill="#52F0F2" opacity="0.95"/>
<polygon points="689.0,159.5 688.8,155.7 692.1,157.4" fill="#52F0F2" opacity="0.95"/>
<polygon points="723.7,155.9 725.7,158.1 722.8,158.7" fill="#52F0F2" opacity="0.95"/>
<polygon points="753.3,137.3 749.1,134.7 753.5,132.4" fill="#52F0F2" opacity="0.95"/>
<polygon points="712.8,199.0 709.5,202.5 708.1,197.9" fill="#52F0F2" opacity="0.95"/>
<polygon points="776.8,176.1 778.1,180.9 773.3,179.6" fill="#52F0F2" opacity="0.95"/>
<polygon points="769.6,218.9 773.4,215.6 774.3,220.5" fill="#52F0F2" opacity="0.95"/>
<polygon points="726.7,194.8 729.6,198.5 724.9,199.2" fill="#52F0F2" opacity="0.95"/>
<polygon points="716.2,134.6 715.3,137.1 713.6,135.1" fill="#52F0F2" opacity="0.95"/>
<polygon points="778.2,130.8 781.5,131.5 779.3,134.0" fill="#52F0F2" opacity="0.95"/>
<polygon points="729.6,132.4 734.1,134.1 730.4,137.1" fill="#52F0F2" opacity="0.95"/>
<polygon points="707.8,171.4 711.0,172.5 708.4,174.7" fill="#52F0F2" opacity="0.95"/>
<polygon points="776.7,183.5 776.9,180.3 779.6,182.1" fill="#52F0F2" opacity="0.95"/>
<polygon points="773.6,195.6 772.0,198.5 770.3,195.7" fill="#52F0F2" opacity="0.95"/>
<polygon points="746.1,221.2 741.2,221.6 743.2,217.2" fill="#52F0F2" opacity="0.95"/>
<polygon points="725.6,133.8 722.5,129.8 727.5,129.1" fill="#52F0F2" opacity="0.95"/>
<polygon points="695.3,176.5 699.7,178.7 695.5,181.4" fill="#52F0F2" opacity="0.95"/>
<polygon points="772.7,189.5 775.5,186.8 776.5,190.6" fill="#52F0F2" opacity="0.95"/>
<polygon points="741.4,131.9 739.1,133.3 739.1,130.6" fill="#52F0F2" opacity="0.95"/>
<polygon points="693.8,153.9 695.8,157.1 692.1,157.3" fill="#52F0F2" opacity="0.95"/>
<polygon points="686.3,202.4 682.3,203.0 683.7,199.3" fill="#52F0F2" opacity="0.95"/>
<polygon points="717.1,217.1 713.2,215.1 716.9,212.7" fill="#52F0F2" opacity="0.95"/>
<polygon points="747.0,138.5 746.9,135.1 749.9,136.7" fill="#52F0F2" opacity="0.95"/>
<polygon points="787.3,176.6 791.5,173.8 791.8,178.9" fill="#52F0F2" opacity="0.95"/>
<polygon points="759.5,129.1 764.2,129.7 761.3,133.5" fill="#52F0F2" opacity="0.95"/>
<polygon points="718.5,207.4 714.2,205.0 718.4,202.5" fill="#52F0F2" opacity="0.95"/>
<polygon points="676.2,190.3 671.5,189.4 674.6,185.7" fill="#52F0F2" opacity="0.95"/>
<polygon points="738.4,134.6 740.6,133.4 740.5,135.9" fill="#52F0F2" opacity="0.95"/>
<polygon points="778.8,204.3 781.9,207.5 777.6,208.5" fill="#52F0F2" opacity="0.95"/>
<polygon points="698.0,173.1 696.1,171.2 698.8,170.5" fill="#52F0F2" opacity="0.95"/>
<polygon points="691.1,170.4 688.9,169.7 690.7,168.1" fill="#52F0F2" opacity="0.95"/>
<polygon points="754.3,186.1 752.3,183.9 755.2,183.3" fill="#52F0F2" opacity="0.95"/>
<polygon points="747.8,132.2 748.6,136.7 744.3,135.2" fill="#52F0F2" opacity="0.95"/>
<polygon points="777.1,144.1 781.5,142.9 780.4,147.3" fill="#52F0F2" opacity="0.95"/>
<polygon points="700.4,205.6 698.0,204.0 700.6,202.7" fill="#52F0F2" opacity="0.95"/>
<polygon points="777.9,219.6 773.6,218.9 776.4,215.5" fill="#52F0F2" opacity="0.95"/>
<polygon points="728.0,182.1 727.9,185.0 725.4,183.5" fill="#52F0F2" opacity="0.95"/>
<polygon points="724.7,176.0 721.5,177.8 721.5,174.1" fill="#52F0F2" opacity="0.95"/>
<polygon points="773.0,207.3 777.8,206.5 776.0,211.1" fill="#52F0F2" opacity="0.95"/>
<polygon points="721.8,160.3 720.0,158.2 722.7,157.7" fill="#52F0F2" opacity="0.95"/>
<polygon points="739.3,166.6 735.5,168.9 735.4,164.6" fill="#52F0F2" opacity="0.95"/>
<polygon points="697.4,209.1 699.4,206.5 700.7,209.5" fill="#52F0F2" opacity="0.95"/>
<polygon points="710.2,188.8 706.9,187.5 709.7,185.3" fill="#52F0F2" opacity="0.95"/>
<polygon points="740.7,141.9 742.3,139.2 743.9,142.0" fill="#52F0F2" opacity="0.95"/>
<polygon points="769.8,199.7 772.9,197.1 773.6,201.1" fill="#52F0F2" opacity="0.95"/>
<polygon points="702.9,176.6 706.2,174.9 706.0,178.5" fill="#52F0F2" opacity="0.95"/>
<polygon points="730.2,152.1 731.2,149.0 733.4,151.4" fill="#52F0F2" opacity="0.95"/>
<polygon points="679.0,141.1 679.1,136.7 682.8,138.9" fill="#52F0F2" opacity="0.95"/>
<polygon points="753.7,206.3 756.7,203.5 757.7,207.5" fill="#52F0F2" opacity="0.95"/>
<polygon points="730.0,164.6 734.3,172.1 725.7,172.1" fill="#5FE6F0" />
<polygon points="741.5,166.5 745.4,173.3 737.6,173.2" fill="#5FE6F0" />
<polygon points="721.6,184.0 727.7,194.5 715.5,194.5" fill="#5FE6F0" />
<polygon points="707.0,160.5 710.0,165.8 704.0,165.7" fill="#5FE6F0" />
<polygon points="760.0,157.0 762.6,161.5 757.4,161.5" fill="#5FE6F0" />
</g>
<g filter="url(#bl)">
<polygon points="720.1,220.8 782.7,273.3 696.0,298.9" fill="#D4AACE" />
</g>
</svg>
<svg x="823.4" y="130.0" width="119.3" height="179.4" viewBox="823.4 130.0 119.3 179.4" overflow="hidden">
<rect x="823.4" y="130.0" width="119.3" height="89.5" fill="#AAA3EC"/>
<rect x="823.4" y="219.5" width="119.3" height="89.9" fill="#F0B6CA"/>
<g filter="url(#bl)">
<circle cx="923.0" cy="179.0" r="1.2" fill="#3FA6E8" opacity="0.85"/>
<circle cx="865.7" cy="186.4" r="1.2" fill="#2C5C90" opacity="0.85"/>
<circle cx="937.0" cy="185.5" r="0.6" fill="#3FA6E8" opacity="0.85"/>
<circle cx="936.7" cy="143.0" r="1.2" fill="#3FA6E8" opacity="0.85"/>
<circle cx="917.8" cy="182.8" r="1.0" fill="#3FA6E8" opacity="0.85"/>
<circle cx="919.0" cy="144.0" r="0.8" fill="#3FA6E8" opacity="0.85"/>
<circle cx="857.5" cy="142.2" r="0.6" fill="#3FA6E8" opacity="0.85"/>
<circle cx="896.9" cy="202.2" r="1.0" fill="#3FA6E8" opacity="0.85"/>
<circle cx="866.8" cy="210.1" r="1.0" fill="#3FA6E8" opacity="0.85"/>
<circle cx="899.7" cy="172.7" r="1.2" fill="#3FA6E8" opacity="0.85"/>
<circle cx="896.1" cy="180.6" r="0.6" fill="#3FA6E8" opacity="0.85"/>
<circle cx="867.6" cy="164.7" r="0.6" fill="#3FA6E8" opacity="0.85"/>
<circle cx="856.3" cy="159.7" r="0.8" fill="#3FA6E8" opacity="0.85"/>
<circle cx="935.5" cy="163.8" r="0.8" fill="#3FA6E8" opacity="0.85"/>
<circle cx="830.5" cy="202.1" r="0.8" fill="#3FA6E8" opacity="0.85"/>
<circle cx="849.6" cy="169.1" r="0.6" fill="#3FA6E8" opacity="0.85"/>
<circle cx="936.4" cy="179.3" r="0.6" fill="#2C5C90" opacity="0.85"/>
<circle cx="915.6" cy="143.3" r="0.6" fill="#3FA6E8" opacity="0.85"/>
<circle cx="912.6" cy="206.8" r="0.6" fill="#3FA6E8" opacity="0.85"/>
<circle cx="898.5" cy="193.4" r="0.8" fill="#3FA6E8" opacity="0.85"/>
<circle cx="939.9" cy="133.4" r="0.6" fill="#3FA6E8" opacity="0.85"/>
<circle cx="828.1" cy="159.3" r="0.8" fill="#3FA6E8" opacity="0.85"/>
<circle cx="836.8" cy="144.5" r="1.0" fill="#3FA6E8" opacity="0.85"/>
<circle cx="903.6" cy="216.8" r="1.2" fill="#3FA6E8" opacity="0.85"/>
<circle cx="862.2" cy="166.6" r="1.2" fill="#3FA6E8" opacity="0.85"/>
<circle cx="939.7" cy="219.0" r="0.8" fill="#3FA6E8" opacity="0.85"/>
<circle cx="843.2" cy="209.9" r="0.6" fill="#3FA6E8" opacity="0.85"/>
<circle cx="876.6" cy="185.7" r="1.2" fill="#3FA6E8" opacity="0.85"/>
<circle cx="888.7" cy="209.2" r="1.2" fill="#3FA6E8" opacity="0.85"/>
<circle cx="928.5" cy="183.8" r="1.2" fill="#3FA6E8" opacity="0.85"/>
<circle cx="884.4" cy="143.2" r="0.8" fill="#3FA6E8" opacity="0.85"/>
<circle cx="882.7" cy="191.6" r="0.6" fill="#3FA6E8" opacity="0.85"/>
<circle cx="883.1" cy="212.6" r="0.6" fill="#3FA6E8" opacity="0.85"/>
<circle cx="924.1" cy="162.4" r="0.8" fill="#3FA6E8" opacity="0.85"/>
<circle cx="891.4" cy="195.2" r="1.2" fill="#3FA6E8" opacity="0.85"/>
<circle cx="937.4" cy="213.1" r="1.0" fill="#3FA6E8" opacity="0.85"/>
<circle cx="930.2" cy="147.1" r="0.8" fill="#2C5C90" opacity="0.85"/>
<circle cx="917.9" cy="200.5" r="1.0" fill="#3FA6E8" opacity="0.85"/>
<circle cx="861.4" cy="197.8" r="1.0" fill="#3FA6E8" opacity="0.85"/>
<circle cx="842.3" cy="206.8" r="1.0" fill="#3FA6E8" opacity="0.85"/>
<circle cx="925.8" cy="218.5" r="0.6" fill="#3FA6E8" opacity="0.85"/>
<circle cx="841.2" cy="198.1" r="1.0" fill="#3FA6E8" opacity="0.85"/>
<circle cx="893.4" cy="168.2" r="0.6" fill="#2C5C90" opacity="0.85"/>
<circle cx="893.7" cy="142.0" r="0.6" fill="#3FA6E8" opacity="0.85"/>
<circle cx="895.7" cy="169.0" r="1.0" fill="#3FA6E8" opacity="0.85"/>
<circle cx="833.1" cy="170.2" r="0.6" fill="#3FA6E8" opacity="0.85"/>
<circle cx="882.3" cy="194.6" r="1.0" fill="#3FA6E8" opacity="0.85"/>
<circle cx="856.6" cy="163.2" r="1.2" fill="#3FA6E8" opacity="0.85"/>
<circle cx="915.1" cy="192.0" r="1.0" fill="#3FA6E8" opacity="0.85"/>
<circle cx="877.8" cy="207.3" r="1.2" fill="#3FA6E8" opacity="0.85"/>
<circle cx="937.7" cy="134.1" r="1.0" fill="#3FA6E8" opacity="0.85"/>
<circle cx="829.8" cy="218.5" r="0.8" fill="#3FA6E8" opacity="0.85"/>
<circle cx="865.3" cy="206.2" r="1.0" fill="#3FA6E8" opacity="0.85"/>
<circle cx="920.6" cy="133.0" r="0.6" fill="#3FA6E8" opacity="0.85"/>
<circle cx="833.2" cy="200.8" r="0.8" fill="#3FA6E8" opacity="0.85"/>
<circle cx="878.8" cy="172.0" r="1.0" fill="#3FA6E8" opacity="0.85"/>
<circle cx="864.3" cy="213.5" r="0.8" fill="#3FA6E8" opacity="0.85"/>
<circle cx="900.4" cy="197.8" r="1.0" fill="#3FA6E8" opacity="0.85"/>
<circle cx="863.5" cy="144.7" r="1.2" fill="#2C5C90" opacity="0.85"/>
<circle cx="925.7" cy="150.0" r="0.6" fill="#3FA6E8" opacity="0.85"/>
<circle cx="849.8" cy="211.1" r="0.6" fill="#3FA6E8" opacity="0.85"/>
<circle cx="898.7" cy="177.7" r="1.2" fill="#3FA6E8" opacity="0.85"/>
<circle cx="848.7" cy="167.3" r="1.0" fill="#3FA6E8" opacity="0.85"/>
<circle cx="904.8" cy="196.7" r="1.2" fill="#3FA6E8" opacity="0.85"/>
<circle cx="880.8" cy="177.4" r="1.0" fill="#3FA6E8" opacity="0.85"/>
<circle cx="842.5" cy="191.2" r="1.2" fill="#3FA6E8" opacity="0.85"/>
<circle cx="929.5" cy="211.9" r="1.2" fill="#3FA6E8" opacity="0.85"/>
<circle cx="882.2" cy="154.0" r="1.2" fill="#3FA6E8" opacity="0.85"/>
<circle cx="914.3" cy="182.7" r="0.6" fill="#3FA6E8" opacity="0.85"/>
<circle cx="867.3" cy="215.9" r="0.8" fill="#2C5C90" opacity="0.85"/>
<circle cx="882.9" cy="155.3" r="0.8" fill="#3FA6E8" opacity="0.85"/>
<circle cx="860.8" cy="132.6" r="0.6" fill="#3FA6E8" opacity="0.85"/>
<circle cx="937.5" cy="170.7" r="1.0" fill="#3FA6E8" opacity="0.85"/>
<circle cx="880.7" cy="213.2" r="0.8" fill="#3FA6E8" opacity="0.85"/>
<circle cx="866.4" cy="184.1" r="0.8" fill="#3FA6E8" opacity="0.85"/>
<circle cx="908.0" cy="182.5" r="0.8" fill="#3FA6E8" opacity="0.85"/>
<circle cx="889.4" cy="148.4" r="0.6" fill="#3FA6E8" opacity="0.85"/>
<circle cx="913.3" cy="151.2" r="1.0" fill="#3FA6E8" opacity="0.85"/>
<circle cx="934.0" cy="218.8" r="0.6" fill="#3FA6E8" opacity="0.85"/>
<circle cx="855.2" cy="217.3" r="1.0" fill="#3FA6E8" opacity="0.85"/>
<circle cx="860.7" cy="180.9" r="1.2" fill="#3FA6E8" opacity="0.85"/>
<circle cx="865.2" cy="193.6" r="0.8" fill="#3FA6E8" opacity="0.85"/>
<circle cx="825.0" cy="148.1" r="0.8" fill="#3FA6E8" opacity="0.85"/>
<circle cx="835.5" cy="213.4" r="1.0" fill="#3FA6E8" opacity="0.85"/>
<circle cx="903.9" cy="164.4" r="0.6" fill="#2C5C90" opacity="0.85"/>
<circle cx="831.4" cy="204.3" r="0.6" fill="#2C5C90" opacity="0.85"/>
<circle cx="922.4" cy="209.9" r="1.2" fill="#3FA6E8" opacity="0.85"/>
<circle cx="866.9" cy="189.2" r="0.6" fill="#2C5C90" opacity="0.85"/>
<circle cx="941.9" cy="185.8" r="0.8" fill="#3FA6E8" opacity="0.85"/>
<circle cx="867.8" cy="162.7" r="1.0" fill="#3FA6E8" opacity="0.85"/>
<circle cx="853.8" cy="142.7" r="0.8" fill="#3FA6E8" opacity="0.85"/>
<circle cx="836.6" cy="201.3" r="1.0" fill="#3FA6E8" opacity="0.85"/>
<circle cx="883.4" cy="181.4" r="1.2" fill="#3FA6E8" opacity="0.85"/>
<circle cx="878.7" cy="197.1" r="0.8" fill="#3FA6E8" opacity="0.85"/>
<circle cx="873.8" cy="151.2" r="0.8" fill="#3FA6E8" opacity="0.85"/>
<circle cx="930.2" cy="162.0" r="1.2" fill="#3FA6E8" opacity="0.85"/>
<circle cx="893.7" cy="168.4" r="0.6" fill="#3FA6E8" opacity="0.85"/>
<circle cx="849.9" cy="190.0" r="1.2" fill="#3FA6E8" opacity="0.85"/>
<circle cx="941.2" cy="151.4" r="0.8" fill="#3FA6E8" opacity="0.85"/>
<circle cx="847.0" cy="153.3" r="0.6" fill="#3FA6E8" opacity="0.85"/>
<circle cx="863.8" cy="137.1" r="0.6" fill="#3FA6E8" opacity="0.85"/>
<circle cx="884.5" cy="213.8" r="0.8" fill="#3FA6E8" opacity="0.85"/>
<circle cx="843.9" cy="168.7" r="0.6" fill="#2C5C90" opacity="0.85"/>
<circle cx="907.7" cy="168.4" r="0.6" fill="#3FA6E8" opacity="0.85"/>
<circle cx="882.8" cy="218.6" r="0.8" fill="#3FA6E8" opacity="0.85"/>
<circle cx="921.1" cy="200.7" r="0.6" fill="#3FA6E8" opacity="0.85"/>
<circle cx="863.4" cy="139.2" r="0.8" fill="#3FA6E8" opacity="0.85"/>
<circle cx="884.3" cy="145.0" r="1.2" fill="#3FA6E8" opacity="0.85"/>
<circle cx="854.3" cy="170.6" r="1.2" fill="#3FA6E8" opacity="0.85"/>
<circle cx="823.8" cy="149.9" r="0.8" fill="#3FA6E8" opacity="0.85"/>
<circle cx="830.0" cy="164.0" r="2.0" fill="#40B8E8"/><circle cx="830.0" cy="164.0" r="0.8" fill="#405870"/>
<circle cx="865.5" cy="169.0" r="2.0" fill="#40B8E8"/><circle cx="865.5" cy="169.0" r="0.8" fill="#405870"/>
<circle cx="909.5" cy="185.2" r="3.0" fill="#40B8E8"/><circle cx="909.5" cy="185.2" r="1.2" fill="#405870"/>
</g>
<g filter="url(#bl)">
<polygon points="873.4,253.4 899.5,253.4 886.8,276.2" fill="#DCA8DE" />
<polygon points="834.5,258.0 824.8,263.6 824.8,252.4" fill="#8A98DE" /><polygon points="832.9,258.0 825.5,262.3 825.5,253.7" fill="#6CD2EE" /><polygon points="830.5,258.0 826.7,260.2 826.7,255.8" fill="#E6F8EC" />
<polygon points="852.0,307.5 846.4,297.8 857.6,297.8" fill="#8A98DE" /><polygon points="852.0,305.9 847.7,298.5 856.3,298.5" fill="#6CD2EE" /><polygon points="852.0,303.5 849.8,299.7 854.2,299.7" fill="#E6F8EC" />
<polygon points="853.0,224.3 855.3,228.4 850.7,228.3" fill="#8A98DE" /><polygon points="853.0,225.0 854.8,228.0 851.2,228.0" fill="#6CD2EE" /><polygon points="853.0,226.0 853.9,227.5 852.1,227.5" fill="#E6F8EC" />
<polygon points="921.0,227.5 917.1,220.7 924.9,220.8" fill="#F4F8F0" />
<polygon points="873.0,227.0 871.3,224.0 874.7,224.0" fill="#F4F8F0" />
<polygon points="936.6,240.0 944.7,235.3 944.7,244.7" fill="#8A98DE" /><polygon points="937.9,240.0 944.0,236.4 944.1,243.5" fill="#6CD2EE" /><polygon points="939.9,240.0 943.0,238.2 943.1,241.8" fill="#E6F8EC" />
<circle cx="908" cy="298" r="2" fill="#D8C890"/>
</g>
</svg>
<text x="0.0" y="205.1" font-size="12.5" font-weight="bold" fill="#fff" text-anchor="end" transform="translate(162.3 0) scale(1.14 1) translate(0.0 0)">100 µm</text>
<rect x="132.6" y="209.3" width="22.8" height="3.7" fill="#fff"/>
<text x="0" y="294.9" font-size="12.5" font-weight="bold" fill="#fff" text-anchor="end" transform="translate(161.0 0) scale(1.08 1)">10 µm</text>
<rect x="133.6" y="298.8" width="22.3" height="3.7" fill="#fff"/>
<text x="0.0" y="205.3" font-size="12.5" font-weight="bold" fill="#fff" text-anchor="end" transform="translate(320.7 0) scale(1.14 1) translate(0.0 0)">100 µm</text>
<rect x="291.0" y="209.5" width="22.8" height="3.7" fill="#fff"/>
<text x="0" y="294.7" font-size="12.5" font-weight="bold" fill="#fff" text-anchor="end" transform="translate(319.4 0) scale(1.08 1)">10 µm</text>
<rect x="292.0" y="298.6" width="22.3" height="3.7" fill="#fff"/>
<text x="0.0" y="204.7" font-size="12.5" font-weight="bold" fill="#fff" text-anchor="end" transform="translate(475.5 0) scale(1.14 1) translate(0.0 0)">100 µm</text>
<rect x="445.8" y="208.9" width="22.8" height="3.7" fill="#fff"/>
<text x="0" y="294.1" font-size="12.5" font-weight="bold" fill="#fff" text-anchor="end" transform="translate(474.2 0) scale(1.08 1)">10 µm</text>
<rect x="446.8" y="298.0" width="22.3" height="3.7" fill="#fff"/>
<text x="0.0" y="204.7" font-size="12.5" font-weight="bold" fill="#fff" text-anchor="end" transform="translate(629.7 0) scale(1.14 1) translate(0.0 0)">100 µm</text>
<rect x="600.0" y="208.9" width="22.8" height="3.7" fill="#fff"/>
<text x="0" y="294.1" font-size="12.5" font-weight="bold" fill="#fff" text-anchor="end" transform="translate(628.4 0) scale(1.08 1)">10 µm</text>
<rect x="601.0" y="298.0" width="22.3" height="3.7" fill="#fff"/>
<text x="0.0" y="207.7" font-size="12.5" font-weight="bold" fill="#fff" text-anchor="end" transform="translate(786.9 0) scale(1.14 1) translate(0.0 0)">100 µm</text>
<rect x="757.2" y="211.9" width="22.8" height="3.7" fill="#fff"/>
<text x="0" y="296.5" font-size="12.5" font-weight="bold" fill="#fff" text-anchor="end" transform="translate(785.6 0) scale(1.08 1)">10 µm</text>
<rect x="758.2" y="300.4" width="22.3" height="3.7" fill="#fff"/>
<text x="0.0" y="207.0" font-size="12.5" font-weight="bold" fill="#fff" text-anchor="end" transform="translate(938.4 0) scale(1.14 1) translate(0.0 0)">100 µm</text>
<rect x="908.7" y="211.2" width="22.8" height="3.7" fill="#fff"/>
<text x="0" y="296.8" font-size="12.5" font-weight="bold" fill="#fff" text-anchor="end" transform="translate(937.1 0) scale(1.08 1)">10 µm</text>
<rect x="909.7" y="300.7" width="22.3" height="3.7" fill="#fff"/>
<text x="0" y="335.6" font-size="25.5" font-weight="bold" fill="#000" transform="translate(10.3 0) scale(1.08 1)">(g)</text>
<g fill="none" stroke-width="2" stroke-linejoin="round">
<polyline stroke="#000000" points="74.5,561.8 75.5,564.1 76.5,565.3 77.5,566.5 78.5,567.2 79.5,567.1 80.5,567.3 81.5,568.4 82.5,567.9 83.5,568.0 84.5,568.8 85.4,568.4 86.4,568.8 87.4,568.4 88.4,568.6 89.4,568.1 90.4,568.6 91.4,568.8 92.4,568.5 93.4,568.7 94.4,568.7 95.4,568.0 96.4,568.7 97.4,568.6 98.4,568.3 99.4,568.0 100.4,568.8 101.4,568.4 102.4,568.6 103.4,568.6 104.4,568.4 105.3,568.4 106.3,567.6 107.3,567.7 108.3,566.9 109.3,566.8 110.3,566.0 111.3,564.3 112.3,563.5 113.3,562.8 114.3,562.8 115.3,561.7 116.3,561.4 117.3,560.7 118.3,560.7 119.3,560.4 120.3,560.2 121.3,560.2 122.3,560.1 123.3,560.3 124.3,560.0 125.3,560.1 126.2,559.9 127.2,559.9 128.2,559.5 129.2,558.9 130.2,559.5 131.2,559.5 132.2,559.4 133.2,559.1 134.2,559.2 135.2,558.7 136.2,559.3 137.2,559.1 138.2,558.9 139.2,558.7 140.2,559.5 141.2,559.7 142.2,558.8 143.2,559.6 144.2,559.2 145.2,558.9 146.1,558.9 147.1,559.4 148.1,559.4 149.1,558.6 150.1,559.1 151.1,558.6 152.1,559.4 153.1,559.1 154.1,559.8 155.1,560.0 156.1,559.7 157.1,560.3 158.1,559.8 159.1,559.6 160.1,560.2 161.1,559.7 162.1,559.8 163.1,560.0 164.1,560.2 165.1,559.7 166.0,559.5 167.0,560.2 168.0,559.6 169.0,560.1 170.0,560.0 171.0,559.4 172.0,559.4 173.0,559.4 174.0,559.5 175.0,559.5 176.0,559.5 177.0,559.6 178.0,560.0 179.0,559.6 180.0,559.6 181.0,559.9 182.0,559.5 183.0,559.5 184.0,560.1 185.0,559.5 186.0,559.2 186.9,558.3 187.9,558.3 188.4,558.2 188.9,557.4 189.4,557.8 189.9,557.6 190.4,556.8 190.9,557.3 191.4,557.0 191.9,557.1 192.4,556.7 192.9,557.0 193.4,557.1 193.9,556.4 194.4,556.5 194.9,557.2 195.4,557.5 195.9,556.8 196.4,557.0 196.9,556.9 197.4,556.2 197.9,555.4 198.4,553.5 198.9,550.3 199.4,545.4 199.9,538.5 200.4,532.1 200.9,529.5 201.4,531.6 201.9,538.6 202.4,545.2 202.9,549.7 203.4,552.7 203.9,554.7 204.4,554.3 204.9,553.4 205.4,551.3 205.9,547.1 206.4,539.4 206.8,530.0 207.3,519.8 207.8,513.7 208.3,514.8 208.8,523.8 209.3,533.7 209.8,542.9 210.3,549.6 210.8,553.8 211.3,555.6 211.8,556.5 212.3,557.1 212.8,558.0 213.3,557.9 213.8,558.7 214.3,558.8 214.8,558.2 215.3,558.2 215.8,558.7 216.3,558.4 216.8,558.4 217.3,557.7 217.8,557.2 218.3,557.1 218.8,557.2 219.3,556.4 219.8,556.1 220.3,555.8 220.8,555.4 221.3,555.1 221.8,555.3 222.3,554.3 222.8,553.9 223.3,554.6 223.8,554.5 224.3,554.5 224.8,554.0 225.3,554.7 225.8,554.9 226.3,554.4 226.8,555.4 227.2,555.9 227.7,556.3 228.2,556.8 228.7,557.2 229.2,558.0 229.7,558.6 230.2,559.1 230.7,560.2 231.2,560.4 231.7,561.4 232.2,560.9 232.7,561.8 233.2,561.6 233.7,561.7 234.2,561.5 234.7,561.2 235.2,560.6 235.7,559.8 236.2,560.2 236.7,559.3 237.2,559.2 237.7,559.3 238.2,558.9 238.7,558.6 239.2,558.8 239.7,558.2 240.2,557.5 240.7,557.0 241.2,557.1 241.7,556.0 242.2,555.4 242.7,553.7 243.2,551.9 243.7,549.9 244.2,546.8 244.7,540.9 245.2,533.2 245.7,519.7 246.2,498.7 246.7,475.4 247.1,469.7 247.6,490.3 248.1,513.6 248.6,528.6 249.1,538.7 249.6,544.8 250.1,549.0 250.6,551.6 251.1,553.5 251.6,555.1 252.1,555.4 252.6,556.2 253.1,556.9 253.6,557.4 254.1,557.7 254.6,559.0 255.1,559.1 255.6,558.6 256.1,559.2 256.6,559.2 257.1,559.4 257.6,559.6 258.1,560.1 258.6,560.1 259.1,560.0 259.6,560.0 260.1,560.2 260.6,560.1 261.6,560.8 262.6,561.1 263.6,560.9 264.6,560.7 265.6,561.0 266.6,561.2 267.5,561.6 268.5,561.8 269.5,561.4 270.5,561.7 271.5,561.0 272.5,559.8 273.5,559.1 274.5,559.9 275.5,561.2 276.5,561.6 277.5,562.1 278.5,561.8 279.5,561.6 280.5,561.8 281.5,561.9 282.5,561.1 283.5,561.2 284.5,561.0 285.5,561.3 286.5,561.4 287.5,560.9 288.4,561.7 289.4,561.9 290.4,561.7 291.4,562.3 292.4,562.2 293.4,563.2 294.4,563.2 295.4,563.6 296.4,563.6 297.4,563.6 298.4,563.7 299.4,563.6 300.4,563.2 301.4,563.8 302.4,563.3 303.4,563.4 304.4,564.1 305.4,563.4 306.4,563.4 307.4,563.4 308.3,564.2 309.3,563.5 310.3,563.3 311.3,564.0 312.3,563.2 313.3,563.9 314.3,563.6 315.3,563.6 316.3,563.6 317.3,563.0 318.3,563.0 319.3,562.1 320.3,562.7 321.3,562.2 322.3,562.3 323.3,561.6 324.3,562.2 325.3,562.3 326.3,561.4 327.3,561.7 328.3,562.0 329.2,562.3 330.2,561.7 331.2,561.7 332.2,561.8 333.2,562.1 334.2,562.3 335.2,561.9 336.2,561.8 337.2,561.8 338.2,561.6 339.2,561.6 340.2,561.2 341.2,561.5 342.2,561.9 343.2,561.2 344.2,561.4 345.2,560.8 346.2,561.3 347.2,561.4 348.2,561.3 349.1,561.2 350.1,561.3 351.1,561.5 352.1,561.9 353.1,561.2 354.1,561.2 355.1,562.0 356.1,562.2 357.1,561.8 358.1,561.8 359.1,562.1 360.1,561.6 361.1,561.6 362.1,561.6 363.1,562.0 364.1,561.7 365.1,561.6 366.1,562.1 367.1,562.3 368.1,561.7 369.0,562.1 370.0,561.8 371.0,562.2 372.0,562.0 373.0,561.6 374.0,561.6 375.0,561.4 376.0,561.8 377.0,561.7 378.0,561.4 379.0,561.5 380.0,561.3 381.0,561.5 382.0,560.5 383.0,560.9 384.0,559.8 385.0,559.3 386.0,558.6 387.0,558.4 388.0,558.0 389.0,557.5 389.9,557.2 390.9,557.3 391.9,557.4 392.9,556.9 393.9,557.2 394.9,557.5 395.9,557.0 396.9,556.8 397.9,556.9 398.9,557.5 399.9,557.5 400.9,558.0 401.9,558.2 402.9,557.9 403.9,558.2 404.9,558.7 405.9,559.2 406.9,560.2 407.9,560.9 408.9,561.4 409.8,561.2 410.8,562.1 411.8,561.8 412.8,562.2 413.8,562.6 414.8,562.1 415.8,562.2 416.8,563.0 417.8,562.5 418.8,562.7 419.8,562.9 420.8,563.0 421.8,562.4 422.8,562.7 423.8,562.8 424.8,562.9 425.8,562.6 426.8,563.0 427.8,563.3 428.8,562.8 429.8,562.9 430.7,562.5 431.7,562.7 432.7,563.1 433.7,562.5 434.7,563.3 435.7,563.3 436.7,562.5 437.7,563.3 438.7,562.8 439.7,563.2 440.7,563.2 441.7,562.7 442.7,563.1 443.7,563.0 444.7,563.2"/>
<polyline stroke="#E80000" points="74.5,546.9 75.5,548.7 76.5,549.9 77.5,550.2 78.5,550.5 79.5,550.4 80.5,551.0 81.5,551.0 82.5,551.5 83.5,551.5 84.5,551.5 85.4,551.1 86.4,551.6 87.4,551.6 88.4,551.1 89.4,551.9 90.4,551.6 91.4,551.1 92.4,551.9 93.4,551.1 94.4,551.3 95.4,551.7 96.4,551.6 97.4,551.5 98.4,551.6 99.4,551.4 100.4,551.3 101.4,551.1 102.4,551.0 103.4,551.6 104.4,551.5 105.3,551.2 106.3,551.2 107.3,550.6 108.3,550.2 109.3,549.9 110.3,549.9 111.3,548.4 112.3,548.3 113.3,547.5 114.3,547.5 115.3,546.7 116.3,546.3 117.3,546.1 118.3,546.1 119.3,546.2 120.3,545.6 121.3,546.0 122.3,545.1 123.3,545.2 124.3,544.9 125.3,544.8 126.2,545.3 127.2,545.2 128.2,544.5 129.2,544.4 130.2,544.6 131.2,544.8 132.2,544.8 133.2,544.7 134.2,544.6 135.2,544.1 136.2,544.4 137.2,544.2 138.2,544.6 139.2,544.7 140.2,544.4 141.2,544.5 142.2,545.0 143.2,544.3 144.2,545.1 145.2,545.1 146.1,545.1 147.1,544.5 148.1,544.6 149.1,544.6 150.1,544.7 151.1,545.1 152.1,544.8 153.1,544.6 154.1,545.3 155.1,545.0 156.1,545.3 157.1,545.6 158.1,545.0 159.1,545.8 160.1,545.8 161.1,545.6 162.1,545.7 163.1,545.6 164.1,545.3 165.1,545.6 166.0,545.0 167.0,545.4 168.0,545.4 169.0,545.1 170.0,545.2 171.0,545.5 172.0,545.4 173.0,544.6 174.0,545.2 175.0,545.1 176.0,544.5 177.0,544.9 178.0,544.8 179.0,544.7 180.0,545.2 181.0,545.7 182.0,545.1 183.0,545.6 184.0,545.4 185.0,544.7 186.0,545.1 186.9,544.5 187.9,544.4 188.4,544.0 188.9,543.8 189.4,543.2 189.9,543.4 190.4,543.4 190.9,543.2 191.4,542.6 191.9,542.9 192.4,542.5 192.9,542.2 193.4,542.1 193.9,542.2 194.4,542.5 194.9,542.5 195.4,543.0 195.9,543.3 196.4,543.2 196.9,543.0 197.4,543.1 197.9,542.2 198.4,541.3 198.9,539.6 199.4,536.1 199.9,531.7 200.4,528.3 200.9,526.3 201.4,527.8 201.9,531.8 202.4,536.1 202.9,539.3 203.4,540.9 203.9,541.6 204.4,541.9 204.9,541.9 205.4,539.8 205.9,537.3 206.4,532.5 206.8,526.4 207.3,519.8 207.8,515.8 208.3,516.5 208.8,521.9 209.3,528.7 209.8,534.5 210.3,538.9 210.8,541.0 211.3,542.3 211.8,543.5 212.3,543.9 212.8,544.5 213.3,544.0 213.8,544.4 214.3,544.4 214.8,544.1 215.3,544.9 215.8,544.1 216.3,543.8 216.8,544.1 217.3,543.6 217.8,543.8 218.3,543.2 218.8,542.7 219.3,542.4 219.8,542.7 220.3,542.0 220.8,542.2 221.3,541.6 221.8,541.8 222.3,540.9 222.8,540.7 223.3,540.5 223.8,541.0 224.3,540.8 224.8,540.5 225.3,540.4 225.8,541.1 226.3,541.7 226.8,541.7 227.2,541.5 227.7,542.0 228.2,542.6 228.7,543.3 229.2,543.8 229.7,544.5 230.2,545.7 230.7,546.5 231.2,546.2 231.7,547.4 232.2,547.1 232.7,547.5 233.2,547.6 233.7,547.4 234.2,546.3 234.7,546.3 235.2,546.3 235.7,546.3 236.2,545.1 236.7,545.0 237.2,545.3 237.7,544.3 238.2,544.3 238.7,544.0 239.2,544.1 239.7,544.0 240.2,542.9 240.7,543.0 241.2,542.5 241.7,541.9 242.2,540.7 242.7,539.9 243.2,537.7 243.7,535.4 244.2,531.9 244.7,527.2 245.2,518.7 245.7,505.0 246.2,484.2 246.7,461.7 247.1,456.8 247.6,476.6 248.1,499.1 248.6,514.9 249.1,524.3 249.6,530.9 250.1,534.1 250.6,537.1 251.1,539.3 251.6,540.5 252.1,540.9 252.6,541.8 253.1,543.0 253.6,543.3 254.1,543.9 254.6,544.2 255.1,544.0 255.6,544.7 256.1,544.7 256.6,544.4 257.1,544.6 257.6,544.4 258.1,544.8 258.6,545.5 259.1,544.7 259.6,545.2 260.1,544.8 260.6,544.9 261.6,545.5 262.6,545.2 263.6,545.1 264.6,545.2 265.6,545.8 266.6,545.8 267.5,545.2 268.5,545.5 269.5,546.2 270.5,545.3 271.5,545.1 272.5,543.9 273.5,543.7 274.5,544.1 275.5,545.4 276.5,545.8 277.5,545.7 278.5,545.7 279.5,545.6 280.5,546.2 281.5,545.4 282.5,545.1 283.5,545.9 284.5,544.9 285.5,545.5 286.5,544.6 287.5,545.1 288.4,545.1 289.4,546.0 290.4,546.2 291.4,546.5 292.4,547.0 293.4,547.3 294.4,547.0 295.4,547.4 296.4,547.3 297.4,547.1 298.4,547.9 299.4,547.8 300.4,548.1 301.4,547.5 302.4,547.9 303.4,547.9 304.4,548.2 305.4,547.5 306.4,547.8 307.4,547.9 308.3,547.5 309.3,548.0 310.3,548.1 311.3,547.7 312.3,547.9 313.3,547.7 314.3,547.2 315.3,547.2 316.3,547.7 317.3,546.9 318.3,546.8 319.3,546.2 320.3,546.2 321.3,546.0 322.3,546.6 323.3,546.3 324.3,546.4 325.3,546.5 326.3,546.1 327.3,546.4 328.3,546.1 329.2,546.0 330.2,546.5 331.2,546.5 332.2,546.6 333.2,546.1 334.2,546.4 335.2,546.0 336.2,546.5 337.2,546.4 338.2,545.7 339.2,546.2 340.2,545.4 341.2,545.2 342.2,545.7 343.2,545.2 344.2,545.3 345.2,545.4 346.2,544.8 347.2,545.5 348.2,545.0 349.1,545.2 350.1,545.2 351.1,545.7 352.1,545.8 353.1,545.4 354.1,545.3 355.1,545.6 356.1,545.8 357.1,545.5 358.1,545.6 359.1,546.2 360.1,546.2 361.1,546.5 362.1,546.5 363.1,546.4 364.1,545.9 365.1,545.6 366.1,545.8 367.1,546.0 368.1,546.0 369.0,546.0 370.0,545.8 371.0,546.3 372.0,545.8 373.0,545.9 374.0,546.4 375.0,546.3 376.0,545.7 377.0,545.6 378.0,546.1 379.0,545.2 380.0,545.2 381.0,545.3 382.0,545.0 383.0,544.1 384.0,543.5 385.0,543.0 386.0,543.0 387.0,542.1 388.0,542.3 389.0,541.8 389.9,541.8 390.9,540.7 391.9,540.8 392.9,540.6 393.9,541.0 394.9,540.9 395.9,540.7 396.9,541.2 397.9,540.8 398.9,541.1 399.9,541.2 400.9,542.0 401.9,541.8 402.9,542.0 403.9,542.2 404.9,543.0 405.9,543.7 406.9,544.3 407.9,545.0 408.9,545.4 409.8,545.3 410.8,545.5 411.8,546.4 412.8,546.6 413.8,546.5 414.8,547.0 415.8,546.8 416.8,546.6 417.8,546.5 418.8,546.4 419.8,547.1 420.8,547.3 421.8,547.4 422.8,546.9 423.8,547.1 424.8,547.4 425.8,547.3 426.8,547.1 427.8,546.9 428.8,547.0 429.8,546.7 430.7,546.7 431.7,547.2 432.7,547.5 433.7,547.0 434.7,546.9 435.7,546.8 436.7,547.0 437.7,547.3 438.7,546.9 439.7,547.5 440.7,546.7 441.7,546.8 442.7,547.0 443.7,546.9 444.7,547.3"/>
<polyline stroke="#00E000" points="74.5,528.9 75.5,530.5 76.5,531.2 77.5,531.4 78.5,532.4 79.5,532.7 80.5,532.9 81.5,532.8 82.5,533.4 83.5,533.6 84.5,532.9 85.4,533.5 86.4,533.2 87.4,533.4 88.4,533.8 89.4,533.8 90.4,533.5 91.4,533.1 92.4,533.8 93.4,533.1 94.4,533.3 95.4,533.7 96.4,533.2 97.4,533.1 98.4,533.8 99.4,533.8 100.4,533.2 101.4,533.2 102.4,533.1 103.4,532.9 104.4,532.9 105.3,533.5 106.3,532.4 107.3,532.3 108.3,531.9 109.3,531.3 110.3,531.2 111.3,530.8 112.3,530.3 113.3,529.4 114.3,529.1 115.3,527.8 116.3,527.7 117.3,528.1 118.3,527.0 119.3,527.1 120.3,527.1 121.3,526.8 122.3,527.0 123.3,526.3 124.3,526.4 125.3,527.0 126.2,526.1 127.2,526.7 128.2,525.9 129.2,526.6 130.2,526.2 131.2,526.1 132.2,525.6 133.2,525.4 134.2,526.1 135.2,525.6 136.2,525.6 137.2,526.3 138.2,526.4 139.2,525.6 140.2,526.6 141.2,526.2 142.2,526.0 143.2,525.8 144.2,526.0 145.2,526.6 146.1,525.8 147.1,525.6 148.1,525.6 149.1,525.6 150.1,525.8 151.1,526.4 152.1,525.6 153.1,525.9 154.1,526.7 155.1,526.9 156.1,527.1 157.1,526.5 158.1,526.7 159.1,527.4 160.1,527.0 161.1,527.3 162.1,526.9 163.1,526.5 164.1,526.8 165.1,527.2 166.0,527.1 167.0,526.8 168.0,526.6 169.0,526.6 170.0,526.4 171.0,526.5 172.0,526.7 173.0,526.0 174.0,526.4 175.0,526.7 176.0,526.7 177.0,526.1 178.0,526.9 179.0,526.8 180.0,526.2 181.0,526.4 182.0,526.4 183.0,526.2 184.0,527.0 185.0,526.3 186.0,526.5 186.9,525.4 187.9,524.9 188.4,525.5 188.9,525.2 189.4,525.2 189.9,524.7 190.4,524.3 190.9,524.4 191.4,523.6 191.9,524.0 192.4,523.8 192.9,523.5 193.4,524.0 193.9,523.8 194.4,524.0 194.9,524.0 195.4,524.0 195.9,524.1 196.4,524.4 196.9,524.7 197.4,524.3 197.9,523.6 198.4,522.1 198.9,519.0 199.4,515.7 199.9,509.7 200.4,504.3 200.9,502.4 201.4,504.9 201.9,509.7 202.4,515.2 202.9,518.8 203.4,522.0 203.9,522.7 204.4,523.0 204.9,522.4 205.4,521.2 205.9,518.2 206.4,512.8 206.8,506.0 207.3,498.9 207.8,493.8 208.3,495.2 208.8,501.7 209.3,509.0 209.8,514.6 210.3,519.9 210.8,522.2 211.3,524.3 211.8,524.6 212.3,524.9 212.8,525.5 213.3,526.0 213.8,525.6 214.3,526.1 214.8,525.9 215.3,525.5 215.8,525.3 216.3,525.3 216.8,525.0 217.3,524.8 217.8,524.8 218.3,524.7 218.8,524.0 219.3,523.2 219.8,522.9 220.3,522.7 220.8,522.6 221.3,521.8 221.8,521.4 222.3,521.4 222.8,521.1 223.3,520.6 223.8,521.0 224.3,521.4 224.8,521.0 225.3,521.3 225.8,521.6 226.3,521.9 226.8,522.4 227.2,522.4 227.7,523.2 228.2,523.2 228.7,524.7 229.2,524.9 229.7,525.7 230.2,526.7 230.7,526.7 231.2,527.2 231.7,528.2 232.2,528.2 232.7,527.8 233.2,527.7 233.7,527.9 234.2,527.4 234.7,527.9 235.2,526.9 235.7,526.7 236.2,526.5 236.7,526.3 237.2,525.9 237.7,525.8 238.2,525.6 238.7,525.1 239.2,524.4 239.7,524.9 240.2,524.2 240.7,523.0 241.2,522.7 241.7,522.2 242.2,521.3 242.7,518.9 243.2,516.8 243.7,514.4 244.2,510.1 244.7,504.1 245.2,493.8 245.7,476.6 246.2,451.0 246.7,422.5 247.1,416.9 247.6,440.7 248.1,469.2 248.6,488.4 249.1,501.0 249.6,507.9 250.1,513.6 250.6,516.5 251.1,518.8 251.6,519.9 252.1,521.3 252.6,522.5 253.1,523.6 253.6,523.9 254.1,524.1 254.6,525.2 255.1,525.2 255.6,525.3 256.1,525.2 256.6,525.5 257.1,526.2 257.6,525.6 258.1,526.1 258.6,526.3 259.1,526.1 259.6,526.6 260.1,526.9 260.6,526.9 261.6,526.9 262.6,526.4 263.6,526.4 264.6,526.8 265.6,526.7 266.6,526.7 267.5,527.4 268.5,526.8 269.5,527.4 270.5,527.4 271.5,526.0 272.5,525.7 273.5,524.6 274.5,525.1 275.5,526.2 276.5,526.7 277.5,527.3 278.5,527.3 279.5,527.7 280.5,527.6 281.5,526.7 282.5,526.9 283.5,526.7 284.5,526.3 285.5,526.2 286.5,526.2 287.5,526.7 288.4,526.6 289.4,526.7 290.4,527.2 291.4,527.7 292.4,528.1 293.4,528.1 294.4,528.7 295.4,528.4 296.4,529.0 297.4,529.0 298.4,528.6 299.4,529.3 300.4,529.0 301.4,529.2 302.4,529.3 303.4,529.4 304.4,529.3 305.4,528.9 306.4,529.6 307.4,529.7 308.3,529.3 309.3,529.4 310.3,529.0 311.3,529.6 312.3,529.3 313.3,528.7 314.3,529.2 315.3,529.2 316.3,528.4 317.3,528.9 318.3,528.2 319.3,527.7 320.3,528.1 321.3,527.6 322.3,527.8 323.3,527.6 324.3,527.0 325.3,527.4 326.3,527.7 327.3,527.4 328.3,527.5 329.2,527.8 330.2,527.4 331.2,527.5 332.2,527.6 333.2,527.8 334.2,527.2 335.2,527.1 336.2,527.7 337.2,527.4 338.2,527.1 339.2,527.6 340.2,527.5 341.2,527.0 342.2,527.4 343.2,527.1 344.2,526.9 345.2,526.4 346.2,526.1 347.2,526.8 348.2,526.9 349.1,526.6 350.1,526.8 351.1,526.9 352.1,526.7 353.1,527.3 354.1,527.2 355.1,527.1 356.1,526.9 357.1,527.4 358.1,527.2 359.1,527.6 360.1,527.0 361.1,527.3 362.1,527.1 363.1,527.3 364.1,527.5 365.1,527.0 366.1,526.9 367.1,527.4 368.1,527.1 369.0,527.4 370.0,527.1 371.0,527.0 372.0,527.4 373.0,527.8 374.0,527.7 375.0,527.4 376.0,527.2 377.0,526.8 378.0,527.0 379.0,526.9 380.0,527.4 381.0,526.3 382.0,526.8 383.0,525.9 384.0,525.2 385.0,524.4 386.0,524.6 387.0,523.3 388.0,523.3 389.0,522.9 389.9,522.4 390.9,522.3 391.9,523.0 392.9,522.8 393.9,522.7 394.9,522.9 395.9,522.1 396.9,522.8 397.9,522.9 398.9,522.5 399.9,522.8 400.9,523.5 401.9,523.1 402.9,523.9 403.9,523.7 404.9,524.6 405.9,524.8 406.9,525.5 407.9,525.9 408.9,526.9 409.8,527.2 410.8,527.3 411.8,527.7 412.8,527.7 413.8,528.2 414.8,527.8 415.8,528.2 416.8,528.3 417.8,528.1 418.8,527.8 419.8,528.0 420.8,528.5 421.8,528.1 422.8,528.6 423.8,528.4 424.8,528.8 425.8,528.7 426.8,528.6 427.8,528.3 428.8,527.9 429.8,528.4 430.7,528.6 431.7,528.8 432.7,528.1 433.7,528.1 434.7,528.9 435.7,528.6 436.7,528.4 437.7,528.6 438.7,528.0 439.7,528.4 440.7,528.6 441.7,528.5 442.7,528.1 443.7,528.0 444.7,528.5"/>
<polyline stroke="#0000E0" points="74.5,512.6 75.5,513.0 76.5,513.7 77.5,514.3 78.5,515.4 79.5,515.2 80.5,515.5 81.5,516.1 82.5,515.8 83.5,515.5 84.5,516.0 85.4,515.3 86.4,515.6 87.4,516.1 88.4,515.5 89.4,515.4 90.4,515.9 91.4,515.7 92.4,516.4 93.4,515.5 94.4,516.2 95.4,515.8 96.4,516.2 97.4,515.8 98.4,516.0 99.4,515.7 100.4,515.6 101.4,515.8 102.4,516.1 103.4,515.6 104.4,515.4 105.3,515.5 106.3,515.1 107.3,515.1 108.3,515.1 109.3,514.7 110.3,514.3 111.3,513.5 112.3,512.7 113.3,512.3 114.3,512.2 115.3,511.7 116.3,511.8 117.3,511.2 118.3,511.6 119.3,511.3 120.3,511.2 121.3,511.1 122.3,510.8 123.3,510.6 124.3,510.4 125.3,510.0 126.2,510.6 127.2,510.2 128.2,509.7 129.2,510.5 130.2,510.0 131.2,510.0 132.2,509.8 133.2,509.4 134.2,510.3 135.2,509.4 136.2,509.7 137.2,510.3 138.2,509.5 139.2,509.9 140.2,510.0 141.2,509.8 142.2,510.5 143.2,510.0 144.2,509.6 145.2,510.0 146.1,509.5 147.1,510.1 148.1,510.2 149.1,510.2 150.1,509.4 151.1,510.1 152.1,509.8 153.1,510.0 154.1,510.0 155.1,510.2 156.1,510.1 157.1,510.8 158.1,510.4 159.1,511.3 160.1,510.5 161.1,511.4 162.1,510.6 163.1,510.5 164.1,511.1 165.1,510.9 166.0,511.0 167.0,510.7 168.0,510.7 169.0,510.1 170.0,510.6 171.0,510.3 172.0,510.7 173.0,509.7 174.0,509.8 175.0,510.4 176.0,510.7 177.0,510.2 178.0,510.6 179.0,510.5 180.0,510.4 181.0,510.5 182.0,510.7 183.0,510.1 184.0,510.3 185.0,510.6 186.0,509.8 186.9,509.7 187.9,509.1 188.4,508.9 188.9,509.0 189.4,508.9 189.9,508.9 190.4,508.2 190.9,507.8 191.4,507.8 191.9,507.5 192.4,507.6 192.9,508.0 193.4,508.0 193.9,507.7 194.4,507.8 194.9,507.8 195.4,508.0 195.9,508.4 196.4,508.2 196.9,508.8 197.4,508.4 197.9,507.7 198.4,506.7 198.9,504.5 199.4,502.1 199.9,498.2 200.4,494.0 200.9,492.6 201.4,493.9 201.9,497.7 202.4,501.6 202.9,504.5 203.4,506.8 203.9,507.7 204.4,507.9 204.9,506.7 205.4,505.9 205.9,502.9 206.4,498.4 206.8,492.6 207.3,486.2 207.8,481.9 208.3,483.0 208.8,488.6 209.3,495.1 209.8,500.9 210.3,504.1 210.8,507.2 211.3,508.5 211.8,509.2 212.3,509.9 212.8,509.3 213.3,510.1 213.8,510.3 214.3,509.6 214.8,510.0 215.3,510.4 215.8,509.6 216.3,510.1 216.8,510.0 217.3,509.4 217.8,508.9 218.3,508.8 218.8,509.2 219.3,508.6 219.8,508.2 220.3,508.1 220.8,508.3 221.3,507.4 221.8,507.0 222.3,507.7 222.8,506.9 223.3,506.9 223.8,507.4 224.3,506.7 224.8,506.5 225.3,507.4 225.8,506.9 226.3,507.1 226.8,508.1 227.2,507.8 227.7,508.9 228.2,508.8 228.7,509.3 229.2,509.8 229.7,510.7 230.2,511.3 230.7,511.6 231.2,512.1 231.7,512.2 232.2,512.9 232.7,513.0 233.2,512.7 233.7,512.6 234.2,511.6 234.7,511.4 235.2,511.0 235.7,510.6 236.2,511.1 236.7,510.7 237.2,510.4 237.7,509.8 238.2,509.0 238.7,509.0 239.2,508.3 239.7,508.8 240.2,507.7 240.7,507.2 241.2,507.2 241.7,505.6 242.2,505.2 242.7,503.2 243.2,501.5 243.7,498.1 244.2,494.8 244.7,487.9 245.2,477.8 245.7,461.7 246.2,436.5 246.7,408.0 247.1,402.0 247.6,426.5 248.1,453.7 248.6,473.7 249.1,485.1 249.6,492.3 250.1,497.2 250.6,500.2 251.1,502.6 251.6,504.4 252.1,505.5 252.6,506.3 253.1,507.0 253.6,507.8 254.1,508.5 254.6,508.6 255.1,509.2 255.6,509.2 256.1,509.0 256.6,509.3 257.1,510.1 257.6,509.9 258.1,509.9 258.6,510.1 259.1,510.6 259.6,510.2 260.1,510.2 260.6,510.3 261.6,510.1 262.6,510.7 263.6,510.7 264.6,510.8 265.6,510.8 266.6,510.9 267.5,511.2 268.5,510.7 269.5,511.5 270.5,510.5 271.5,510.6 272.5,508.9 273.5,508.9 274.5,509.1 275.5,510.0 276.5,511.1 277.5,511.6 278.5,511.6 279.5,511.6 280.5,511.7 281.5,510.6 282.5,510.8 283.5,510.3 284.5,510.8 285.5,510.3 286.5,510.6 287.5,510.7 288.4,511.2 289.4,511.2 290.4,511.7 291.4,511.7 292.4,511.6 293.4,512.6 294.4,512.0 295.4,512.2 296.4,513.0 297.4,512.6 298.4,513.0 299.4,512.5 300.4,512.7 301.4,513.3 302.4,512.7 303.4,513.2 304.4,513.7 305.4,513.0 306.4,513.5 307.4,513.5 308.3,513.3 309.3,513.5 310.3,513.4 311.3,512.6 312.3,512.7 313.3,513.0 314.3,513.3 315.3,512.4 316.3,512.6 317.3,512.0 318.3,512.5 319.3,511.9 320.3,511.8 321.3,511.8 322.3,511.1 323.3,511.6 324.3,511.6 325.3,511.6 326.3,511.1 327.3,511.0 328.3,511.0 329.2,511.8 330.2,511.3 331.2,511.3 332.2,511.4 333.2,511.6 334.2,511.2 335.2,511.2 336.2,511.6 337.2,511.5 338.2,511.0 339.2,510.7 340.2,511.4 341.2,511.1 342.2,510.9 343.2,510.6 344.2,511.1 345.2,510.5 346.2,510.2 347.2,510.1 348.2,510.4 349.1,510.7 350.1,510.5 351.1,511.2 352.1,511.0 353.1,510.9 354.1,511.2 355.1,511.2 356.1,511.3 357.1,511.2 358.1,511.3 359.1,511.2 360.1,511.6 361.1,511.0 362.1,511.6 363.1,511.1 364.1,511.6 365.1,510.9 366.1,511.3 367.1,511.2 368.1,511.5 369.0,511.0 370.0,511.0 371.0,510.9 372.0,511.3 373.0,511.4 374.0,510.8 375.0,510.9 376.0,510.9 377.0,511.6 378.0,511.1 379.0,511.1 380.0,510.6 381.0,510.8 382.0,510.6 383.0,509.9 384.0,508.7 385.0,508.5 386.0,508.0 387.0,507.0 388.0,507.4 389.0,506.6 389.9,506.4 390.9,506.6 391.9,506.5 392.9,506.4 393.9,506.8 394.9,506.4 395.9,506.3 396.9,506.0 397.9,506.6 398.9,506.5 399.9,506.8 400.9,506.8 401.9,506.7 402.9,507.1 403.9,507.6 404.9,508.0 405.9,509.2 406.9,509.5 407.9,509.7 408.9,510.6 409.8,510.9 410.8,510.7 411.8,511.7 412.8,511.4 413.8,512.3 414.8,511.6 415.8,511.8 416.8,511.9 417.8,512.5 418.8,512.5 419.8,512.3 420.8,511.9 421.8,512.2 422.8,512.5 423.8,511.8 424.8,512.7 425.8,512.6 426.8,512.7 427.8,512.5 428.8,512.4 429.8,512.8 430.7,512.1 431.7,512.1 432.7,511.9 433.7,512.0 434.7,512.6 435.7,511.9 436.7,512.5 437.7,512.2 438.7,512.7 439.7,512.6 440.7,512.5 441.7,512.6 442.7,511.8 443.7,512.1 444.7,512.2"/>
<polyline stroke="#20E8F0" points="74.5,492.5 75.5,494.5 76.5,495.9 77.5,496.6 78.5,497.4 79.5,497.5 80.5,497.5 81.5,497.8 82.5,498.2 83.5,498.3 84.5,497.9 85.4,498.0 86.4,498.2 87.4,497.9 88.4,498.5 89.4,497.7 90.4,498.3 91.4,498.2 92.4,497.9 93.4,498.3 94.4,498.2 95.4,498.6 96.4,498.6 97.4,498.3 98.4,498.5 99.4,498.5 100.4,497.8 101.4,498.4 102.4,498.4 103.4,498.5 104.4,498.2 105.3,497.6 106.3,497.2 107.3,497.4 108.3,496.5 109.3,496.5 110.3,495.7 111.3,495.2 112.3,494.0 113.3,493.2 114.3,493.2 115.3,492.4 116.3,491.7 117.3,491.6 118.3,491.3 119.3,491.3 120.3,491.0 121.3,490.6 122.3,491.2 123.3,491.0 124.3,490.7 125.3,490.1 126.2,489.9 127.2,490.4 128.2,490.3 129.2,490.1 130.2,489.6 131.2,490.0 132.2,489.7 133.2,489.6 134.2,489.8 135.2,489.6 136.2,489.8 137.2,490.0 138.2,490.3 139.2,489.4 140.2,490.0 141.2,490.4 142.2,490.1 143.2,490.0 144.2,490.3 145.2,489.4 146.1,490.1 147.1,489.9 148.1,489.8 149.1,489.5 150.1,489.8 151.1,489.4 152.1,489.9 153.1,489.7 154.1,490.5 155.1,490.5 156.1,490.4 157.1,490.8 158.1,490.5 159.1,490.8 160.1,490.5 161.1,491.2 162.1,491.1 163.1,491.1 164.1,490.3 165.1,491.0 166.0,490.1 167.0,490.6 168.0,490.4 169.0,489.9 170.0,490.2 171.0,490.6 172.0,490.3 173.0,489.9 174.0,490.4 175.0,489.9 176.0,490.5 177.0,490.1 178.0,489.8 179.0,490.7 180.0,489.9 181.0,490.1 182.0,490.7 183.0,490.0 184.0,490.3 185.0,490.5 186.0,489.9 186.9,489.3 187.9,489.3 188.4,489.1 188.9,488.7 189.4,488.5 189.9,487.9 190.4,487.8 190.9,488.2 191.4,488.1 191.9,487.0 192.4,487.1 192.9,487.1 193.4,487.7 193.9,487.1 194.4,487.1 194.9,487.7 195.4,487.2 195.9,487.9 196.4,487.3 196.9,487.5 197.4,486.8 197.9,485.1 198.4,483.3 198.9,478.8 199.4,472.1 199.9,463.5 200.4,455.9 200.9,452.0 201.4,455.4 201.9,464.1 202.4,471.7 202.9,478.3 203.4,481.9 203.9,484.1 204.4,485.2 204.9,484.1 205.4,481.7 205.9,477.6 206.4,471.2 206.8,461.7 207.3,452.6 207.8,445.4 208.3,447.7 208.8,455.7 209.3,466.0 209.8,474.2 210.3,480.1 210.8,484.0 211.3,486.5 211.8,487.1 212.3,487.9 212.8,488.9 213.3,489.3 213.8,489.4 214.3,489.5 214.8,489.2 215.3,489.5 215.8,489.3 216.3,489.0 216.8,488.7 217.3,488.0 217.8,487.8 218.3,487.7 218.8,487.6 219.3,486.9 219.8,487.4 220.3,486.6 220.8,486.4 221.3,486.3 221.8,485.3 222.3,485.7 222.8,485.5 223.3,484.6 223.8,484.4 224.3,485.0 224.8,485.2 225.3,485.2 225.8,485.0 226.3,485.5 226.8,485.4 227.2,486.0 227.7,486.7 228.2,487.7 228.7,487.7 229.2,489.2 229.7,489.0 230.2,490.7 230.7,490.5 231.2,491.6 231.7,492.0 232.2,492.4 232.7,492.1 233.2,492.3 233.7,491.7 234.2,492.1 234.7,491.1 235.2,491.6 235.7,491.0 236.2,490.1 236.7,490.7 237.2,489.8 237.7,489.3 238.2,489.2 238.7,488.7 239.2,488.7 239.7,488.8 240.2,488.7 240.7,487.8 241.2,487.5 241.7,486.7 242.2,485.6 242.7,484.0 243.2,482.1 243.7,479.4 244.2,476.1 244.7,470.1 245.2,461.7 245.7,446.7 246.2,424.4 246.7,399.3 247.1,394.2 247.6,415.2 248.1,440.0 248.6,457.5 249.1,467.6 249.6,474.7 250.1,479.2 250.6,481.5 251.1,484.0 251.6,485.1 252.1,486.5 252.6,486.9 253.1,487.8 253.6,488.2 254.1,488.2 254.6,488.8 255.1,489.2 255.6,489.3 256.1,489.7 256.6,490.1 257.1,490.1 257.6,490.2 258.1,489.7 258.6,490.3 259.1,490.3 259.6,490.7 260.1,489.9 260.6,490.1 261.6,491.0 262.6,490.5 263.6,490.9 264.6,490.8 265.6,490.7 266.6,490.8 267.5,490.9 268.5,491.4 269.5,490.9 270.5,491.1 271.5,490.0 272.5,489.4 273.5,488.7 274.5,489.5 275.5,490.7 276.5,490.5 277.5,491.6 278.5,491.3 279.5,490.9 280.5,491.1 281.5,490.6 282.5,490.5 283.5,490.9 284.5,490.6 285.5,490.6 286.5,489.9 287.5,489.9 288.4,490.4 289.4,490.9 290.4,491.4 291.4,491.4 292.4,492.1 293.4,492.2 294.4,492.1 295.4,492.8 296.4,492.2 297.4,492.8 298.4,492.5 299.4,492.4 300.4,492.9 301.4,493.0 302.4,493.2 303.4,493.0 304.4,493.5 305.4,493.4 306.4,492.8 307.4,492.7 308.3,493.6 309.3,493.0 310.3,492.7 311.3,492.7 312.3,493.1 313.3,492.5 314.3,492.6 315.3,492.7 316.3,492.3 317.3,492.4 318.3,492.5 319.3,492.2 320.3,491.8 321.3,491.6 322.3,491.2 323.3,491.4 324.3,491.4 325.3,491.3 326.3,491.2 327.3,491.4 328.3,490.9 329.2,491.5 330.2,491.8 331.2,490.8 332.2,491.1 333.2,491.8 334.2,490.9 335.2,491.6 336.2,491.3 337.2,490.7 338.2,491.2 339.2,490.5 340.2,491.2 341.2,490.6 342.2,491.1 343.2,491.0 344.2,490.1 345.2,490.3 346.2,490.1 347.2,490.7 348.2,490.0 349.1,490.1 350.1,490.2 351.1,491.0 352.1,490.5 353.1,490.7 354.1,490.9 355.1,491.1 356.1,491.0 357.1,491.6 358.1,491.0 359.1,491.1 360.1,491.5 361.1,490.9 362.1,490.9 363.1,491.5 364.1,491.0 365.1,491.6 366.1,491.5 367.1,491.1 368.1,491.0 369.0,490.8 370.0,491.6 371.0,491.1 372.0,491.0 373.0,490.9 374.0,490.9 375.0,491.5 376.0,490.8 377.0,491.1 378.0,491.1 379.0,490.9 380.0,490.7 381.0,490.4 382.0,489.8 383.0,490.0 384.0,489.5 385.0,488.5 386.0,487.6 387.0,487.8 388.0,486.7 389.0,486.4 389.9,486.7 390.9,486.7 391.9,486.4 392.9,485.9 393.9,486.8 394.9,486.0 395.9,486.2 396.9,486.9 397.9,486.7 398.9,486.8 399.9,486.2 400.9,487.2 401.9,487.0 402.9,486.9 403.9,488.1 404.9,488.7 405.9,488.3 406.9,489.3 407.9,490.2 408.9,490.1 409.8,490.5 410.8,491.3 411.8,491.3 412.8,492.0 413.8,492.1 414.8,492.2 415.8,492.1 416.8,491.7 417.8,492.2 418.8,492.2 419.8,492.1 420.8,492.2 421.8,492.0 422.8,491.9 423.8,492.6 424.8,492.0 425.8,491.8 426.8,492.7 427.8,492.2 428.8,492.4 429.8,492.0 430.7,491.8 431.7,492.0 432.7,492.5 433.7,492.0 434.7,492.6 435.7,492.0 436.7,492.6 437.7,491.9 438.7,492.1 439.7,491.8 440.7,491.8 441.7,492.2 442.7,492.1 443.7,492.2 444.7,491.9"/>
<polyline stroke="#F000F0" points="74.5,473.8 75.5,475.7 76.5,477.6 77.5,477.6 78.5,478.6 79.5,479.4 80.5,479.4 81.5,479.3 82.5,480.2 83.5,479.4 84.5,479.5 85.4,479.4 86.4,479.9 87.4,480.3 88.4,479.7 89.4,479.8 90.4,480.3 91.4,479.6 92.4,479.5 93.4,480.1 94.4,479.6 95.4,480.0 96.4,479.6 97.4,480.1 98.4,480.3 99.4,479.9 100.4,479.7 101.4,480.0 102.4,480.0 103.4,479.3 104.4,479.4 105.3,479.4 106.3,479.3 107.3,478.7 108.3,478.7 109.3,477.7 110.3,477.7 111.3,476.3 112.3,475.4 113.3,474.5 114.3,473.8 115.3,473.4 116.3,473.6 117.3,472.8 118.3,472.6 119.3,472.9 120.3,472.8 121.3,472.4 122.3,471.8 123.3,471.7 124.3,471.8 125.3,471.4 126.2,471.4 127.2,471.1 128.2,471.1 129.2,471.5 130.2,471.2 131.2,471.0 132.2,471.0 133.2,471.1 134.2,471.2 135.2,470.5 136.2,471.3 137.2,471.0 138.2,470.9 139.2,471.6 140.2,471.4 141.2,471.1 142.2,470.8 143.2,471.2 144.2,471.2 145.2,471.1 146.1,470.8 147.1,471.2 148.1,470.8 149.1,471.3 150.1,471.1 151.1,470.9 152.1,471.5 153.1,471.2 154.1,471.0 155.1,471.3 156.1,471.2 157.1,471.8 158.1,472.4 159.1,472.5 160.1,472.3 161.1,471.8 162.1,471.9 163.1,471.8 164.1,471.9 165.1,472.1 166.0,471.4 167.0,471.8 168.0,471.7 169.0,471.8 170.0,471.9 171.0,471.4 172.0,471.5 173.0,471.2 174.0,471.3 175.0,471.5 176.0,471.0 177.0,471.5 178.0,471.5 179.0,471.3 180.0,471.4 181.0,472.0 182.0,471.6 183.0,471.4 184.0,471.4 185.0,471.5 186.0,471.1 186.9,470.7 187.9,470.2 188.4,469.9 188.9,469.9 189.4,469.8 189.9,469.1 190.4,469.4 190.9,469.0 191.4,469.5 191.9,469.4 192.4,468.5 192.9,469.1 193.4,468.7 193.9,468.5 194.4,469.4 194.9,469.5 195.4,469.4 195.9,469.3 196.4,469.6 196.9,469.1 197.4,468.8 197.9,468.0 198.4,466.6 198.9,463.7 199.4,458.5 199.9,452.5 200.4,447.0 200.9,444.3 201.4,446.7 201.9,453.0 202.4,458.8 202.9,463.1 203.4,465.6 203.9,467.1 204.4,466.7 204.9,466.5 205.4,463.6 205.9,460.2 206.4,453.3 206.8,443.9 207.3,434.2 207.8,428.4 208.3,429.7 208.8,438.0 209.3,447.3 209.8,456.5 210.3,462.0 210.8,465.7 211.3,468.1 211.8,469.1 212.3,469.6 212.8,469.8 213.3,470.2 213.8,469.9 214.3,470.2 214.8,470.7 215.3,470.0 215.8,469.8 216.3,470.4 216.8,469.7 217.3,469.6 217.8,469.3 218.3,469.1 218.8,468.3 219.3,468.3 219.8,467.1 220.3,467.5 220.8,466.6 221.3,466.5 221.8,465.8 222.3,465.9 222.8,465.3 223.3,465.3 223.8,464.9 224.3,465.3 224.8,465.3 225.3,464.9 225.8,465.6 226.3,466.2 226.8,465.9 227.2,466.3 227.7,467.7 228.2,468.4 228.7,468.3 229.2,469.7 229.7,470.6 230.2,470.7 230.7,471.9 231.2,472.0 231.7,472.9 232.2,472.9 232.7,473.0 233.2,472.7 233.7,473.1 234.2,473.0 234.7,472.3 235.2,471.7 235.7,471.5 236.2,471.3 236.7,471.7 237.2,471.2 237.7,471.1 238.2,470.6 238.7,469.7 239.2,469.6 239.7,469.7 240.2,469.2 240.7,468.7 241.2,467.8 241.7,466.8 242.2,465.7 242.7,464.2 243.2,461.6 243.7,458.1 244.2,453.9 244.7,446.7 245.2,435.9 245.7,418.4 246.2,390.6 246.7,359.9 247.1,353.3 247.6,379.9 248.1,410.3 248.6,431.2 249.1,444.5 249.6,451.7 250.1,457.0 250.6,460.3 251.1,463.6 251.6,465.1 252.1,466.4 252.6,467.6 253.1,467.6 253.6,469.1 254.1,469.0 254.6,469.7 255.1,469.8 255.6,470.4 256.1,470.2 256.6,470.4 257.1,470.6 257.6,471.2 258.1,471.1 258.6,470.9 259.1,471.2 259.6,471.5 260.1,471.4 260.6,471.6 261.6,472.0 262.6,471.9 263.6,472.2 264.6,471.7 265.6,472.4 266.6,472.5 267.5,472.1 268.5,471.7 269.5,471.7 270.5,472.3 271.5,471.8 272.5,470.6 273.5,469.8 274.5,470.5 275.5,471.2 276.5,472.3 277.5,472.9 278.5,472.2 279.5,472.5 280.5,472.7 281.5,472.4 282.5,471.9 283.5,471.6 284.5,471.9 285.5,472.0 286.5,471.9 287.5,471.5 288.4,472.1 289.4,472.5 290.4,472.4 291.4,473.1 292.4,473.1 293.4,473.1 294.4,473.1 295.4,474.0 296.4,474.1 297.4,473.5 298.4,473.6 299.4,474.0 300.4,473.9 301.4,474.5 302.4,474.0 303.4,474.5 304.4,474.5 305.4,474.3 306.4,474.8 307.4,474.4 308.3,474.4 309.3,474.6 310.3,474.3 311.3,474.0 312.3,474.7 313.3,474.4 314.3,474.0 315.3,473.8 316.3,473.8 317.3,473.3 318.3,472.9 319.3,473.2 320.3,473.4 321.3,472.4 322.3,473.2 323.3,472.5 324.3,473.0 325.3,472.7 326.3,472.2 327.3,472.2 328.3,472.9 329.2,473.0 330.2,472.9 331.2,472.7 332.2,472.7 333.2,472.9 334.2,472.9 335.2,472.9 336.2,472.3 337.2,472.8 338.2,472.8 339.2,472.4 340.2,471.7 341.2,471.8 342.2,472.1 343.2,471.8 344.2,472.2 345.2,471.9 346.2,471.9 347.2,471.4 348.2,471.8 349.1,472.0 350.1,472.3 351.1,472.4 352.1,471.8 353.1,472.2 354.1,472.7 355.1,471.9 356.1,471.9 357.1,472.1 358.1,472.7 359.1,472.3 360.1,472.7 361.1,472.8 362.1,472.8 363.1,472.0 364.1,472.7 365.1,472.8 366.1,472.7 367.1,472.8 368.1,472.8 369.0,472.6 370.0,472.8 371.0,472.5 372.0,472.1 373.0,472.3 374.0,472.9 375.0,472.3 376.0,472.4 377.0,472.8 378.0,472.5 379.0,472.5 380.0,472.0 381.0,471.8 382.0,471.0 383.0,470.7 384.0,470.1 385.0,469.8 386.0,469.2 387.0,468.3 388.0,468.4 389.0,467.6 389.9,467.7 390.9,467.2 391.9,467.6 392.9,467.3 393.9,468.0 394.9,467.5 395.9,468.0 396.9,467.6 397.9,467.6 398.9,468.2 399.9,467.7 400.9,468.2 401.9,468.5 402.9,469.2 403.9,469.3 404.9,469.1 405.9,470.0 406.9,471.1 407.9,471.5 408.9,471.5 409.8,471.6 410.8,472.1 411.8,472.9 412.8,472.5 413.8,473.4 414.8,472.9 415.8,473.4 416.8,473.5 417.8,473.1 418.8,473.4 419.8,473.5 420.8,473.2 421.8,473.5 422.8,473.6 423.8,473.9 424.8,473.3 425.8,473.2 426.8,473.5 427.8,473.6 428.8,473.5 429.8,473.9 430.7,473.2 431.7,473.5 432.7,473.5 433.7,473.2 434.7,473.4 435.7,473.4 436.7,473.4 437.7,473.8 438.7,474.0 439.7,474.0 440.7,473.2 441.7,473.4 442.7,473.9 443.7,473.1 444.7,473.1"/>
</g>
<rect x="82" y="350.4" width="52.4" height="4" fill="#000000"/>
<text x="152.9" y="358.0" font-size="20" font-weight="bold" fill="#000000" text-anchor="middle">(a)</text>
<rect x="82" y="371.8" width="52.4" height="4" fill="#FF0000"/>
<text x="152.9" y="379.4" font-size="20" font-weight="bold" fill="#FF0000" text-anchor="middle">(b)</text>
<rect x="82" y="392.3" width="52.4" height="4" fill="#92D050"/>
<text x="152.9" y="399.9" font-size="20" font-weight="bold" fill="#92D050" text-anchor="middle">(c)</text>
<rect x="82" y="412.3" width="52.4" height="4" fill="#0000FF"/>
<text x="152.9" y="419.9" font-size="20" font-weight="bold" fill="#0000FF" text-anchor="middle">(d)</text>
<rect x="82" y="433.2" width="52.4" height="4" fill="#00B0F0"/>
<text x="152.9" y="440.8" font-size="20" font-weight="bold" fill="#00B0F0" text-anchor="middle">(e)</text>
<rect x="82" y="454.0" width="52.4" height="4" fill="#CC00CC"/>
<text x="152.9" y="461.6" font-size="20" font-weight="bold" fill="#CC00CC" text-anchor="middle">(f)</text>
<rect x="74.3" y="334.5" width="371.7" height="246.3" fill="none" stroke="#000" stroke-width="1.8"/>
<path d="M74.5 580.8V575.8M107.7 580.8V577.8M140.8 580.8V575.8M174.0 580.8V577.8M207.2 580.8V575.8M240.3 580.8V577.8M273.5 580.8V575.8M306.7 580.8V577.8M339.9 580.8V575.8M373.0 580.8V577.8M406.2 580.8V575.8M439.4 580.8V577.8" stroke="#000" stroke-width="1.6"/>
<text x="74.5" y="602.6" font-size="20.5" text-anchor="middle" fill="#111">0</text>
<text x="140.8" y="602.6" font-size="20.5" text-anchor="middle" fill="#111">200</text>
<text x="207.2" y="602.6" font-size="20.5" text-anchor="middle" fill="#111">400</text>
<text x="273.5" y="602.6" font-size="20.5" text-anchor="middle" fill="#111">600</text>
<text x="339.9" y="602.6" font-size="20.5" text-anchor="middle" fill="#111">800</text>
<text x="406.2" y="602.6" font-size="20.5" text-anchor="middle" fill="#111">1000</text>
<text x="168.4" y="626" font-size="22.7" fill="#111">Raman shift (cm<tspan font-size="14.5" dy="-9.5">−1</tspan><tspan dy="9.5">)</tspan></text>
<text transform="translate(56.2 526.2) rotate(-90)" x="-1.3" y="0" font-size="22.9" fill="#111">Intensity (a.u.)</text>
<text x="0" y="335.0" font-size="25.5" font-weight="bold" fill="#000" transform="translate(485.3 0) scale(1.04 1)">(h)</text>
<g fill="none" stroke-width="2.1">
<polyline stroke="#000000" points="558.6,575.5 560.0,575.5 561.3,575.5 562.7,575.5 564.1,575.5 565.4,575.5 566.8,575.5 568.2,575.5 569.5,575.5 570.9,575.5 572.2,575.5 573.6,575.5 575.0,575.5 576.3,575.5 577.7,575.5 579.1,575.5 580.4,575.5 581.8,575.5 583.2,575.5 584.5,575.5 585.9,575.5 587.3,575.5 588.6,575.5 590.0,575.5 591.4,575.5 592.7,575.5 594.1,575.5 595.5,575.5 596.8,575.4 598.2,575.4 599.6,575.4 600.9,575.4 602.3,575.4 603.6,575.4 605.0,575.4 606.4,575.4 607.7,575.4 609.1,575.4 610.5,575.4 611.8,575.4 613.2,575.4 614.6,575.4 615.9,575.4 617.3,575.4 618.7,575.4 620.0,575.4 621.4,575.4 622.8,575.4 624.1,575.4 625.5,575.4 626.9,575.4 628.2,575.4 629.6,575.4 630.9,575.3 632.3,575.3 633.7,575.3 635.0,575.3 636.4,575.3 637.8,575.3 639.1,575.3 640.5,575.3 641.9,575.3 643.2,575.3 644.6,575.3 646.0,575.3 647.3,575.3 648.7,575.3 650.1,575.3 651.4,575.3 652.8,575.3 654.1,575.3 655.5,575.3 656.9,575.3 658.2,575.3 659.6,575.3 661.0,575.2 662.3,575.2 663.7,575.2 665.1,575.2 666.4,575.2 667.8,575.2 669.2,575.2 670.5,575.2 671.9,575.2 673.3,575.2 674.6,575.2 676.0,575.2 677.4,575.2 678.7,575.2 680.1,575.2 681.5,575.2 682.8,575.2 684.2,575.2 685.5,575.1 686.9,575.1 688.3,575.1 689.6,575.1 691.0,575.1 692.4,575.1 693.7,575.1 695.1,575.1 696.5,575.1 697.8,575.1 699.2,575.1 700.6,575.1 701.9,575.1 703.3,575.1 704.7,575.0 706.0,575.0 707.4,575.0 708.8,575.0 710.1,575.0 711.5,575.0 712.8,575.0 714.2,575.0 715.6,575.0 716.9,575.0 718.3,574.9 719.7,574.9 721.0,574.9 722.4,574.9 723.8,574.9 725.1,574.9 726.5,574.9 727.9,574.9 729.2,574.8 730.6,574.8 732.0,574.8 733.3,574.8 734.7,574.8 736.0,574.8 737.4,574.7 738.8,574.7 740.1,574.7 741.5,574.7 742.9,574.6 744.2,574.6 745.6,574.6 747.0,574.5 748.3,574.5 749.7,574.5 751.1,574.4 752.4,574.4 753.8,574.3 755.2,574.3 756.5,574.2 757.9,574.2 759.3,574.1 760.6,574.0 762.0,574.0 763.4,573.9 764.7,573.8 766.1,573.7 767.4,573.6 768.8,573.5 770.2,573.4 771.5,573.3 772.9,573.2 774.3,573.1 775.6,573.0 777.0,572.8 778.4,572.7 779.7,572.6 781.1,572.4 782.5,572.3 783.8,572.1 785.2,571.9 786.6,571.7 787.9,571.6 789.3,571.4 790.7,571.2 792.0,571.0 793.4,570.8 794.7,570.6 796.1,570.3 797.5,570.1 798.8,569.9 800.2,569.7 801.6,569.4 802.9,569.2 804.3,569.0 805.7,568.7 807.0,568.5 808.4,568.3 809.8,568.1 811.1,567.8 812.5,567.6 813.9,567.4 815.2,567.2 816.6,567.1 818.0,566.9 819.3,566.8 820.7,566.7 822.0,566.6 823.4,566.5 824.8,566.5 826.1,566.4 827.5,566.5 828.9,566.5 830.2,566.5 831.6,566.6 833.0,566.7 834.3,566.9 835.7,567.0 837.1,567.2 838.4,567.4 839.8,567.6 841.2,567.8 842.5,568.0 843.9,568.2 845.2,568.4 846.6,568.7 848.0,568.9 849.3,569.1 850.7,569.3 852.1,569.6 853.4,569.8 854.8,570.0 856.2,570.2 857.5,570.4 858.9,570.6 860.3,570.8 861.6,571.0 863.0,571.2 864.4,571.4 865.7,571.6 867.1,571.8 868.5,571.9 869.8,572.1 871.2,572.2 872.5,572.4 873.9,572.5 875.3,572.6 876.6,572.8 878.0,572.9 879.4,573.0 880.7,573.1 882.1,573.2 883.5,573.3 884.8,573.4 886.2,573.5 887.6,573.6 888.9,573.6 890.3,573.7 891.7,573.8 893.0,573.8 894.4,573.9 895.8,573.9 897.1,574.0 898.5,574.0 899.9,574.1 901.2,574.1 902.6,574.1 903.9,574.2 905.3,574.2 906.7,574.2 908.0,574.3 909.4,574.3 910.8,574.3 912.1,574.3 913.5,574.3 914.9,574.4 916.2,574.4 917.6,574.4 919.0,574.4 920.3,574.4 921.7,574.4 923.1,574.4 924.4,574.4 925.8,574.5 927.2,574.5 928.5,574.5 929.9,574.5 931.2,574.5 932.6,574.5 934.0,574.5 935.3,574.5 936.7,574.5 938.1,574.5 939.4,574.5 940.8,574.5"/>
<polyline stroke="#E80000" points="558.6,566.6 560.0,566.6 561.3,566.6 562.7,566.6 564.1,566.6 565.4,566.6 566.8,566.6 568.2,566.6 569.5,566.6 570.9,566.6 572.2,566.6 573.6,566.6 575.0,566.6 576.3,566.6 577.7,566.6 579.1,566.6 580.4,566.6 581.8,566.6 583.2,566.6 584.5,566.6 585.9,566.6 587.3,566.6 588.6,566.6 590.0,566.6 591.4,566.5 592.7,566.5 594.1,566.5 595.5,566.5 596.8,566.5 598.2,566.5 599.6,566.5 600.9,566.5 602.3,566.5 603.6,566.5 605.0,566.5 606.4,566.5 607.7,566.5 609.1,566.5 610.5,566.5 611.8,566.5 613.2,566.5 614.6,566.5 615.9,566.5 617.3,566.5 618.7,566.5 620.0,566.5 621.4,566.5 622.8,566.5 624.1,566.4 625.5,566.4 626.9,566.4 628.2,566.4 629.6,566.4 630.9,566.4 632.3,566.4 633.7,566.4 635.0,566.4 636.4,566.4 637.8,566.4 639.1,566.4 640.5,566.4 641.9,566.4 643.2,566.4 644.6,566.4 646.0,566.4 647.3,566.4 648.7,566.4 650.1,566.4 651.4,566.3 652.8,566.3 654.1,566.3 655.5,566.3 656.9,566.3 658.2,566.3 659.6,566.3 661.0,566.3 662.3,566.3 663.7,566.3 665.1,566.3 666.4,566.3 667.8,566.3 669.2,566.3 670.5,566.3 671.9,566.3 673.3,566.3 674.6,566.3 676.0,566.2 677.4,566.2 678.7,566.2 680.1,566.2 681.5,566.2 682.8,566.2 684.2,566.2 685.5,566.2 686.9,566.2 688.3,566.2 689.6,566.2 691.0,566.2 692.4,566.2 693.7,566.2 695.1,566.1 696.5,566.1 697.8,566.1 699.2,566.1 700.6,566.1 701.9,566.1 703.3,566.1 704.7,566.1 706.0,566.1 707.4,566.1 708.8,566.1 710.1,566.1 711.5,566.0 712.8,566.0 714.2,566.0 715.6,566.0 716.9,566.0 718.3,566.0 719.7,566.0 721.0,566.0 722.4,565.9 723.8,565.9 725.1,565.9 726.5,565.9 727.9,565.9 729.2,565.9 730.6,565.9 732.0,565.8 733.3,565.8 734.7,565.8 736.0,565.8 737.4,565.7 738.8,565.7 740.1,565.7 741.5,565.7 742.9,565.6 744.2,565.6 745.6,565.6 747.0,565.5 748.3,565.5 749.7,565.5 751.1,565.4 752.4,565.4 753.8,565.3 755.2,565.3 756.5,565.2 757.9,565.1 759.3,565.1 760.6,565.0 762.0,564.9 763.4,564.8 764.7,564.8 766.1,564.7 767.4,564.6 768.8,564.5 770.2,564.4 771.5,564.2 772.9,564.1 774.3,564.0 775.6,563.9 777.0,563.7 778.4,563.6 779.7,563.4 781.1,563.3 782.5,563.1 783.8,562.9 785.2,562.7 786.6,562.6 787.9,562.4 789.3,562.2 790.7,561.9 792.0,561.7 793.4,561.5 794.7,561.3 796.1,561.1 797.5,560.8 798.8,560.6 800.2,560.3 801.6,560.1 802.9,559.8 804.3,559.6 805.7,559.3 807.0,559.1 808.4,558.8 809.8,558.6 811.1,558.4 812.5,558.1 813.9,557.9 815.2,557.7 816.6,557.5 818.0,557.4 819.3,557.2 820.7,557.1 822.0,557.0 823.4,556.9 824.8,556.9 826.1,556.9 827.5,556.9 828.9,556.9 830.2,557.0 831.6,557.1 833.0,557.2 834.3,557.3 835.7,557.5 837.1,557.7 838.4,557.9 839.8,558.1 841.2,558.3 842.5,558.5 843.9,558.8 845.2,559.0 846.6,559.2 848.0,559.5 849.3,559.7 850.7,560.0 852.1,560.2 853.4,560.4 854.8,560.7 856.2,560.9 857.5,561.1 858.9,561.4 860.3,561.6 861.6,561.8 863.0,562.0 864.4,562.2 865.7,562.4 867.1,562.5 868.5,562.7 869.8,562.9 871.2,563.1 872.5,563.2 873.9,563.4 875.3,563.5 876.6,563.6 878.0,563.8 879.4,563.9 880.7,564.0 882.1,564.1 883.5,564.2 884.8,564.3 886.2,564.4 887.6,564.5 888.9,564.5 890.3,564.6 891.7,564.7 893.0,564.8 894.4,564.8 895.8,564.9 897.1,564.9 898.5,565.0 899.9,565.0 901.2,565.1 902.6,565.1 903.9,565.1 905.3,565.2 906.7,565.2 908.0,565.2 909.4,565.2 910.8,565.3 912.1,565.3 913.5,565.3 914.9,565.3 916.2,565.3 917.6,565.4 919.0,565.4 920.3,565.4 921.7,565.4 923.1,565.4 924.4,565.4 925.8,565.4 927.2,565.4 928.5,565.5 929.9,565.5 931.2,565.5 932.6,565.5 934.0,565.5 935.3,565.5 936.7,565.5 938.1,565.5 939.4,565.5 940.8,565.5"/>
<polyline stroke="#00E000" points="558.6,557.3 560.0,557.2 561.3,557.2 562.7,557.2 564.1,557.2 565.4,557.2 566.8,557.2 568.2,557.2 569.5,557.2 570.9,557.2 572.2,557.2 573.6,557.2 575.0,557.2 576.3,557.2 577.7,557.2 579.1,557.2 580.4,557.1 581.8,557.1 583.2,557.1 584.5,557.1 585.9,557.1 587.3,557.1 588.6,557.1 590.0,557.1 591.4,557.1 592.7,557.1 594.1,557.1 595.5,557.1 596.8,557.1 598.2,557.1 599.6,557.0 600.9,557.0 602.3,557.0 603.6,557.0 605.0,557.0 606.4,557.0 607.7,557.0 609.1,557.0 610.5,557.0 611.8,557.0 613.2,557.0 614.6,557.0 615.9,556.9 617.3,556.9 618.7,556.9 620.0,556.9 621.4,556.9 622.8,556.9 624.1,556.9 625.5,556.9 626.9,556.9 628.2,556.9 629.6,556.9 630.9,556.9 632.3,556.8 633.7,556.8 635.0,556.8 636.4,556.8 637.8,556.8 639.1,556.8 640.5,556.8 641.9,556.8 643.2,556.8 644.6,556.8 646.0,556.8 647.3,556.7 648.7,556.7 650.1,556.7 651.4,556.7 652.8,556.7 654.1,556.7 655.5,556.7 656.9,556.7 658.2,556.7 659.6,556.7 661.0,556.6 662.3,556.6 663.7,556.6 665.1,556.6 666.4,556.6 667.8,556.6 669.2,556.6 670.5,556.6 671.9,556.5 673.3,556.5 674.6,556.5 676.0,556.5 677.4,556.5 678.7,556.5 680.1,556.5 681.5,556.5 682.8,556.4 684.2,556.4 685.5,556.4 686.9,556.4 688.3,556.4 689.6,556.4 691.0,556.3 692.4,556.3 693.7,556.3 695.1,556.3 696.5,556.3 697.8,556.3 699.2,556.2 700.6,556.2 701.9,556.2 703.3,556.2 704.7,556.2 706.0,556.2 707.4,556.1 708.8,556.1 710.1,556.1 711.5,556.1 712.8,556.0 714.2,556.0 715.6,556.0 716.9,556.0 718.3,555.9 719.7,555.9 721.0,555.9 722.4,555.8 723.8,555.8 725.1,555.8 726.5,555.7 727.9,555.7 729.2,555.7 730.6,555.6 732.0,555.6 733.3,555.5 734.7,555.5 736.0,555.4 737.4,555.4 738.8,555.3 740.1,555.2 741.5,555.2 742.9,555.1 744.2,555.0 745.6,554.9 747.0,554.8 748.3,554.7 749.7,554.6 751.1,554.5 752.4,554.4 753.8,554.3 755.2,554.1 756.5,554.0 757.9,553.8 759.3,553.6 760.6,553.5 762.0,553.3 763.4,553.1 764.7,552.8 766.1,552.6 767.4,552.4 768.8,552.1 770.2,551.8 771.5,551.5 772.9,551.2 774.3,550.9 775.6,550.6 777.0,550.2 778.4,549.8 779.7,549.4 781.1,549.0 782.5,548.6 783.8,548.1 785.2,547.6 786.6,547.1 787.9,546.6 789.3,546.1 790.7,545.6 792.0,545.0 793.4,544.4 794.7,543.9 796.1,543.3 797.5,542.6 798.8,542.0 800.2,541.4 801.6,540.7 802.9,540.1 804.3,539.4 805.7,538.8 807.0,538.1 808.4,537.5 809.8,536.9 811.1,536.3 812.5,535.7 813.9,535.1 815.2,534.6 816.6,534.2 818.0,533.7 819.3,533.3 820.7,533.0 822.0,532.8 823.4,532.6 824.8,532.5 826.1,532.4 827.5,532.5 828.9,532.6 830.2,532.7 831.6,533.0 833.0,533.3 834.3,533.7 835.7,534.1 837.1,534.5 838.4,535.1 839.8,535.6 841.2,536.2 842.5,536.8 843.9,537.4 845.2,538.0 846.6,538.6 848.0,539.3 849.3,539.9 850.7,540.6 852.1,541.2 853.4,541.8 854.8,542.4 856.2,543.0 857.5,543.6 858.9,544.2 860.3,544.8 861.6,545.3 863.0,545.8 864.4,546.4 865.7,546.9 867.1,547.3 868.5,547.8 869.8,548.2 871.2,548.7 872.5,549.1 873.9,549.5 875.3,549.8 876.6,550.2 878.0,550.5 879.4,550.8 880.7,551.1 882.1,551.4 883.5,551.7 884.8,551.9 886.2,552.2 887.6,552.4 888.9,552.6 890.3,552.8 891.7,553.0 893.0,553.2 894.4,553.3 895.8,553.5 897.1,553.6 898.5,553.7 899.9,553.9 901.2,554.0 902.6,554.1 903.9,554.2 905.3,554.2 906.7,554.3 908.0,554.4 909.4,554.5 910.8,554.5 912.1,554.6 913.5,554.7 914.9,554.7 916.2,554.8 917.6,554.8 919.0,554.8 920.3,554.9 921.7,554.9 923.1,554.9 924.4,555.0 925.8,555.0 927.2,555.0 928.5,555.1 929.9,555.1 931.2,555.1 932.6,555.1 934.0,555.1 935.3,555.2 936.7,555.2 938.1,555.2 939.4,555.2 940.8,555.2"/>
<polyline stroke="#0000E0" points="558.6,548.4 560.0,548.4 561.3,548.4 562.7,548.4 564.1,548.4 565.4,548.4 566.8,548.4 568.2,548.4 569.5,548.4 570.9,548.4 572.2,548.4 573.6,548.4 575.0,548.4 576.3,548.4 577.7,548.4 579.1,548.4 580.4,548.4 581.8,548.4 583.2,548.4 584.5,548.4 585.9,548.4 587.3,548.4 588.6,548.4 590.0,548.4 591.4,548.4 592.7,548.4 594.1,548.4 595.5,548.4 596.8,548.4 598.2,548.4 599.6,548.4 600.9,548.4 602.3,548.4 603.6,548.4 605.0,548.3 606.4,548.3 607.7,548.3 609.1,548.3 610.5,548.3 611.8,548.3 613.2,548.3 614.6,548.3 615.9,548.3 617.3,548.3 618.7,548.3 620.0,548.2 621.4,548.2 622.8,548.2 624.1,548.2 625.5,548.2 626.9,548.2 628.2,548.2 629.6,548.2 630.9,548.1 632.3,548.1 633.7,548.1 635.0,548.1 636.4,548.1 637.8,548.1 639.1,548.1 640.5,548.0 641.9,548.0 643.2,548.0 644.6,548.0 646.0,548.0 647.3,547.9 648.7,547.9 650.1,547.9 651.4,547.9 652.8,547.8 654.1,547.8 655.5,547.8 656.9,547.8 658.2,547.7 659.6,547.7 661.0,547.7 662.3,547.6 663.7,547.6 665.1,547.6 666.4,547.6 667.8,547.5 669.2,547.5 670.5,547.4 671.9,547.4 673.3,547.4 674.6,547.3 676.0,547.3 677.4,547.2 678.7,547.2 680.1,547.2 681.5,547.1 682.8,547.1 684.2,547.0 685.5,547.0 686.9,546.9 688.3,546.8 689.6,546.8 691.0,546.7 692.4,546.7 693.7,546.6 695.1,546.5 696.5,546.5 697.8,546.4 699.2,546.3 700.6,546.3 701.9,546.2 703.3,546.1 704.7,546.0 706.0,545.9 707.4,545.8 708.8,545.8 710.1,545.7 711.5,545.6 712.8,545.5 714.2,545.3 715.6,545.2 716.9,545.1 718.3,545.0 719.7,544.9 721.0,544.8 722.4,544.6 723.8,544.5 725.1,544.3 726.5,544.2 727.9,544.0 729.2,543.9 730.6,543.7 732.0,543.5 733.3,543.4 734.7,543.2 736.0,543.0 737.4,542.8 738.8,542.5 740.1,542.3 741.5,542.1 742.9,541.8 744.2,541.6 745.6,541.3 747.0,541.0 748.3,540.7 749.7,540.4 751.1,540.1 752.4,539.7 753.8,539.4 755.2,539.0 756.5,538.6 757.9,538.1 759.3,537.7 760.6,537.2 762.0,536.6 763.4,536.1 764.7,535.5 766.1,534.8 767.4,534.1 768.8,533.4 770.2,532.6 771.5,531.8 772.9,530.8 774.3,529.8 775.6,528.8 777.0,527.6 778.4,526.4 779.7,525.1 781.1,523.6 782.5,522.1 783.8,520.4 785.2,518.7 786.6,516.8 787.9,514.7 789.3,512.5 790.7,510.2 792.0,507.6 793.4,505.0 794.7,502.1 796.1,499.1 797.5,495.9 798.8,492.5 800.2,488.9 801.6,485.1 802.9,481.2 804.3,477.1 805.7,472.8 807.0,468.3 808.4,463.7 809.8,459.0 811.1,454.2 812.5,449.3 813.9,444.4 815.2,439.6 816.6,434.7 818.0,430.1 819.3,425.6 820.7,421.4 822.0,417.6 823.4,414.3 824.8,411.4 826.1,409.1 827.5,407.5 828.9,406.6 830.2,406.4 831.6,406.7 833.0,407.4 834.3,408.5 835.7,410.0 837.1,411.8 838.4,414.0 839.8,416.5 841.2,419.2 842.5,422.2 843.9,425.3 845.2,428.7 846.6,432.1 848.0,435.6 849.3,439.2 850.7,442.8 852.1,446.5 853.4,450.1 854.8,453.7 856.2,457.2 857.5,460.7 858.9,464.1 860.3,467.4 861.6,470.7 863.0,473.8 864.4,476.9 865.7,479.8 867.1,482.6 868.5,485.4 869.8,488.0 871.2,490.6 872.5,493.0 873.9,495.3 875.3,497.6 876.6,499.7 878.0,501.8 879.4,503.7 880.7,505.6 882.1,507.4 883.5,509.1 884.8,510.7 886.2,512.3 887.6,513.8 888.9,515.2 890.3,516.6 891.7,517.9 893.0,519.1 894.4,520.3 895.8,521.4 897.1,522.4 898.5,523.5 899.9,524.4 901.2,525.3 902.6,526.2 903.9,527.1 905.3,527.9 906.7,528.6 908.0,529.4 909.4,530.1 910.8,530.7 912.1,531.4 913.5,532.0 914.9,532.6 916.2,533.2 917.6,533.7 919.0,534.2 920.3,534.7 921.7,535.2 923.1,535.6 924.4,536.1 925.8,536.5 927.2,536.9 928.5,537.3 929.9,537.7 931.2,538.1 932.6,538.4 934.0,538.8 935.3,539.1 936.7,539.4 938.1,539.7 939.4,540.0 940.8,540.3"/>
<polyline stroke="#20E8F0" points="558.6,539.3 560.0,539.3 561.3,539.3 562.7,539.3 564.1,539.3 565.4,539.3 566.8,539.3 568.2,539.3 569.5,539.3 570.9,539.3 572.2,539.3 573.6,539.3 575.0,539.3 576.3,539.3 577.7,539.3 579.1,539.3 580.4,539.3 581.8,539.3 583.2,539.3 584.5,539.3 585.9,539.3 587.3,539.3 588.6,539.3 590.0,539.3 591.4,539.2 592.7,539.2 594.1,539.2 595.5,539.2 596.8,539.2 598.2,539.2 599.6,539.2 600.9,539.2 602.3,539.2 603.6,539.2 605.0,539.2 606.4,539.2 607.7,539.2 609.1,539.2 610.5,539.2 611.8,539.2 613.2,539.1 614.6,539.1 615.9,539.1 617.3,539.1 618.7,539.1 620.0,539.1 621.4,539.1 622.8,539.1 624.1,539.1 625.5,539.0 626.9,539.0 628.2,539.0 629.6,539.0 630.9,539.0 632.3,539.0 633.7,538.9 635.0,538.9 636.4,538.9 637.8,538.9 639.1,538.9 640.5,538.8 641.9,538.8 643.2,538.8 644.6,538.8 646.0,538.8 647.3,538.7 648.7,538.7 650.1,538.7 651.4,538.6 652.8,538.6 654.1,538.6 655.5,538.6 656.9,538.5 658.2,538.5 659.6,538.5 661.0,538.4 662.3,538.4 663.7,538.3 665.1,538.3 666.4,538.3 667.8,538.2 669.2,538.2 670.5,538.1 671.9,538.1 673.3,538.0 674.6,538.0 676.0,537.9 677.4,537.9 678.7,537.8 680.1,537.8 681.5,537.7 682.8,537.7 684.2,537.6 685.5,537.5 686.9,537.5 688.3,537.4 689.6,537.3 691.0,537.3 692.4,537.2 693.7,537.1 695.1,537.0 696.5,536.9 697.8,536.8 699.2,536.8 700.6,536.7 701.9,536.6 703.3,536.5 704.7,536.4 706.0,536.2 707.4,536.1 708.8,536.0 710.1,535.9 711.5,535.8 712.8,535.6 714.2,535.5 715.6,535.4 716.9,535.2 718.3,535.1 719.7,534.9 721.0,534.7 722.4,534.6 723.8,534.4 725.1,534.2 726.5,534.0 727.9,533.8 729.2,533.6 730.6,533.4 732.0,533.2 733.3,532.9 734.7,532.7 736.0,532.4 737.4,532.1 738.8,531.9 740.1,531.6 741.5,531.2 742.9,530.9 744.2,530.6 745.6,530.2 747.0,529.9 748.3,529.5 749.7,529.0 751.1,528.6 752.4,528.2 753.8,527.7 755.2,527.2 756.5,526.7 757.9,526.1 759.3,525.5 760.6,524.9 762.0,524.2 763.4,523.5 764.7,522.8 766.1,522.0 767.4,521.2 768.8,520.3 770.2,519.4 771.5,518.4 772.9,517.4 774.3,516.3 775.6,515.1 777.0,513.8 778.4,512.5 779.7,511.1 781.1,509.5 782.5,507.9 783.8,506.1 785.2,504.2 786.6,502.2 787.9,500.0 789.3,497.7 790.7,495.2 792.0,492.5 793.4,489.5 794.7,486.4 796.1,483.0 797.5,479.4 798.8,475.4 800.2,471.2 801.6,466.6 802.9,461.7 804.3,456.5 805.7,450.8 807.0,444.8 808.4,438.5 809.8,431.7 811.1,424.6 812.5,417.2 813.9,409.6 815.2,401.9 816.6,394.2 818.0,386.6 819.3,379.3 820.7,372.6 822.0,366.6 823.4,361.6 824.8,357.7 826.1,355.2 827.5,354.2 828.9,354.3 830.2,355.0 831.6,356.2 833.0,357.9 834.3,360.0 835.7,362.6 837.1,365.6 838.4,368.9 839.8,372.5 841.2,376.4 842.5,380.5 843.9,384.8 845.2,389.3 846.6,393.8 848.0,398.4 849.3,403.1 850.7,407.7 852.1,412.4 853.4,417.0 854.8,421.5 856.2,426.0 857.5,430.4 858.9,434.6 860.3,438.8 861.6,442.9 863.0,446.8 864.4,450.6 865.7,454.3 867.1,457.8 868.5,461.3 869.8,464.5 871.2,467.7 872.5,470.8 873.9,473.7 875.3,476.5 876.6,479.1 878.0,481.7 879.4,484.2 880.7,486.5 882.1,488.7 883.5,490.9 884.8,492.9 886.2,494.9 887.6,496.7 888.9,498.5 890.3,500.2 891.7,501.8 893.0,503.3 894.4,504.8 895.8,506.2 897.1,507.5 898.5,508.7 899.9,509.9 901.2,511.1 902.6,512.2 903.9,513.2 905.3,514.2 906.7,515.2 908.0,516.1 909.4,516.9 910.8,517.8 912.1,518.6 913.5,519.3 914.9,520.0 916.2,520.7 917.6,521.4 919.0,522.0 920.3,522.6 921.7,523.2 923.1,523.8 924.4,524.3 925.8,524.8 927.2,525.3 928.5,525.8 929.9,526.3 931.2,526.7 932.6,527.2 934.0,527.6 935.3,528.0 936.7,528.4 938.1,528.8 939.4,529.1 940.8,529.5"/>
<polyline stroke="#F000F0" points="558.6,530.0 560.0,530.0 561.3,530.0 562.7,530.0 564.1,530.0 565.4,530.0 566.8,530.0 568.2,530.0 569.5,530.0 570.9,530.0 572.2,530.0 573.6,530.0 575.0,530.0 576.3,530.0 577.7,530.0 579.1,530.0 580.4,530.0 581.8,530.0 583.2,530.0 584.5,530.0 585.9,530.0 587.3,530.0 588.6,530.0 590.0,530.0 591.4,530.0 592.7,530.0 594.1,530.0 595.5,530.0 596.8,530.0 598.2,530.0 599.6,530.0 600.9,530.0 602.3,530.0 603.6,530.0 605.0,530.0 606.4,530.0 607.7,530.0 609.1,530.0 610.5,530.0 611.8,530.0 613.2,530.0 614.6,530.0 615.9,530.0 617.3,530.0 618.7,530.0 620.0,530.0 621.4,530.0 622.8,530.0 624.1,530.0 625.5,530.0 626.9,530.0 628.2,530.0 629.6,530.0 630.9,530.0 632.3,530.0 633.7,530.0 635.0,530.0 636.4,530.0 637.8,530.0 639.1,530.0 640.5,530.0 641.9,530.0 643.2,530.0 644.6,530.0 646.0,530.0 647.3,530.0 648.7,530.0 650.1,530.0 651.4,529.9 652.8,529.9 654.1,529.9 655.5,529.9 656.9,529.9 658.2,529.9 659.6,529.9 661.0,529.9 662.3,529.9 663.7,529.9 665.1,529.9 666.4,529.9 667.8,529.9 669.2,529.9 670.5,529.9 671.9,529.9 673.3,529.9 674.6,529.9 676.0,529.9 677.4,529.9 678.7,529.9 680.1,529.9 681.5,529.9 682.8,529.9 684.2,529.9 685.5,529.9 686.9,529.9 688.3,529.9 689.6,529.9 691.0,529.8 692.4,529.8 693.7,529.8 695.1,529.8 696.5,529.8 697.8,529.8 699.2,529.8 700.6,529.7 701.9,529.7 703.3,529.7 704.7,529.7 706.0,529.7 707.4,529.6 708.8,529.6 710.1,529.6 711.5,529.5 712.8,529.5 714.2,529.4 715.6,529.4 716.9,529.3 718.3,529.3 719.7,529.2 721.0,529.2 722.4,529.1 723.8,529.0 725.1,528.9 726.5,528.9 727.9,528.8 729.2,528.7 730.6,528.6 732.0,528.5 733.3,528.4 734.7,528.3 736.0,528.1 737.4,528.0 738.8,527.9 740.1,527.7 741.5,527.6 742.9,527.4 744.2,527.3 745.6,527.1 747.0,526.9 748.3,526.8 749.7,526.6 751.1,526.4 752.4,526.2 753.8,526.0 755.2,525.8 756.5,525.6 757.9,525.4 759.3,525.1 760.6,524.9 762.0,524.7 763.4,524.5 764.7,524.2 766.1,524.0 767.4,523.8 768.8,523.5 770.2,523.3 771.5,523.0 772.9,522.8 774.3,522.6 775.6,522.4 777.0,522.1 778.4,521.9 779.7,521.7 781.1,521.5 782.5,521.3 783.8,521.1 785.2,520.9 786.6,520.7 787.9,520.5 789.3,520.4 790.7,520.2 792.0,520.1 793.4,519.9 794.7,519.8 796.1,519.7 797.5,519.6 798.8,519.6 800.2,519.5 801.6,519.4 802.9,519.4 804.3,519.4 805.7,519.4 807.0,519.4 808.4,519.4 809.8,519.4 811.1,519.5 812.5,519.5 813.9,519.6 815.2,519.6 816.6,519.7 818.0,519.8 819.3,519.9 820.7,520.0 822.0,520.2 823.4,520.3 824.8,520.4 826.1,520.6 827.5,520.8 828.9,520.9 830.2,521.1 831.6,521.3 833.0,521.4 834.3,521.6 835.7,521.8 837.1,522.0 838.4,522.2 839.8,522.4 841.2,522.6 842.5,522.8 843.9,523.1 845.2,523.3 846.6,523.5 848.0,523.7 849.3,523.9 850.7,524.1 852.1,524.3 853.4,524.5 854.8,524.7 856.2,524.9 857.5,525.1 858.9,525.3 860.3,525.5 861.6,525.7 863.0,525.9 864.4,526.1 865.7,526.3 867.1,526.4 868.5,526.6 869.8,526.8 871.2,526.9 872.5,527.1 873.9,527.2 875.3,527.4 876.6,527.5 878.0,527.6 879.4,527.8 880.7,527.9 882.1,528.0 883.5,528.1 884.8,528.2 886.2,528.3 887.6,528.4 888.9,528.5 890.3,528.6 891.7,528.7 893.0,528.7 894.4,528.8 895.8,528.9 897.1,529.0 898.5,529.0 899.9,529.1 901.2,529.1 902.6,529.2 903.9,529.2 905.3,529.3 906.7,529.3 908.0,529.4 909.4,529.4 910.8,529.4 912.1,529.5 913.5,529.5 914.9,529.5 916.2,529.5 917.6,529.6 919.0,529.6 920.3,529.6 921.7,529.6 923.1,529.6 924.4,529.7 925.8,529.7 927.2,529.7 928.5,529.7 929.9,529.7 931.2,529.7 932.6,529.7 934.0,529.7 935.3,529.7 936.7,529.7 938.1,529.7 939.4,529.8 940.8,529.8"/>
</g>
<rect x="568" y="350.7" width="51.7" height="4" fill="#000000"/>
<text x="638.6" y="358.3" font-size="20" font-weight="bold" fill="#000000" text-anchor="middle">(a)</text>
<rect x="568" y="372.7" width="51.7" height="4" fill="#FF0000"/>
<text x="638.6" y="380.3" font-size="20" font-weight="bold" fill="#FF0000" text-anchor="middle">(b)</text>
<rect x="568" y="392.9" width="51.7" height="4" fill="#92D050"/>
<text x="638.6" y="400.5" font-size="20" font-weight="bold" fill="#92D050" text-anchor="middle">(c)</text>
<rect x="568" y="412.7" width="51.7" height="4" fill="#0000FF"/>
<text x="638.6" y="420.3" font-size="20" font-weight="bold" fill="#0000FF" text-anchor="middle">(d)</text>
<rect x="568" y="433.8" width="51.7" height="4" fill="#00B0F0"/>
<text x="638.6" y="441.4" font-size="20" font-weight="bold" fill="#00B0F0" text-anchor="middle">(e)</text>
<rect x="568" y="453.7" width="51.7" height="4" fill="#CC00CC"/>
<text x="638.6" y="461.3" font-size="20" font-weight="bold" fill="#CC00CC" text-anchor="middle">(f)</text>
<rect x="558.7" y="335.5" width="381.8" height="246.0" fill="none" stroke="#000" stroke-width="1.8"/>
<path d="M558.6 581.5V576.5M585.9 581.5V578.5M613.2 581.5V576.5M640.5 581.5V578.5M667.8 581.5V576.5M695.1 581.5V578.5M722.4 581.5V576.5M749.7 581.5V578.5M777.0 581.5V576.5M804.3 581.5V578.5M831.6 581.5V576.5M858.9 581.5V578.5M886.2 581.5V576.5M913.5 581.5V578.5M940.8 581.5V576.5" stroke="#000" stroke-width="1.6"/>
<text x="558.6" y="603.8" font-size="20.5" text-anchor="middle" fill="#111">580</text>
<text x="613.2" y="603.8" font-size="20.5" text-anchor="middle" fill="#111">600</text>
<text x="667.8" y="603.8" font-size="20.5" text-anchor="middle" fill="#111">620</text>
<text x="722.4" y="603.8" font-size="20.5" text-anchor="middle" fill="#111">640</text>
<text x="777.0" y="603.8" font-size="20.5" text-anchor="middle" fill="#111">660</text>
<text x="831.6" y="603.8" font-size="20.5" text-anchor="middle" fill="#111">680</text>
<text x="886.2" y="603.8" font-size="20.5" text-anchor="middle" fill="#111">700</text>
<text x="940.8" y="603.8" font-size="20.5" text-anchor="middle" fill="#111">720</text>
<text x="666.3" y="627" font-size="22.6" fill="#111">Wavelength (nm)</text>
<text transform="translate(539.0 526.0) rotate(-90)" x="-1.3" y="0" font-size="22.9" fill="#111">Intensity (a.u.)</text>
</svg>
</body></html>
